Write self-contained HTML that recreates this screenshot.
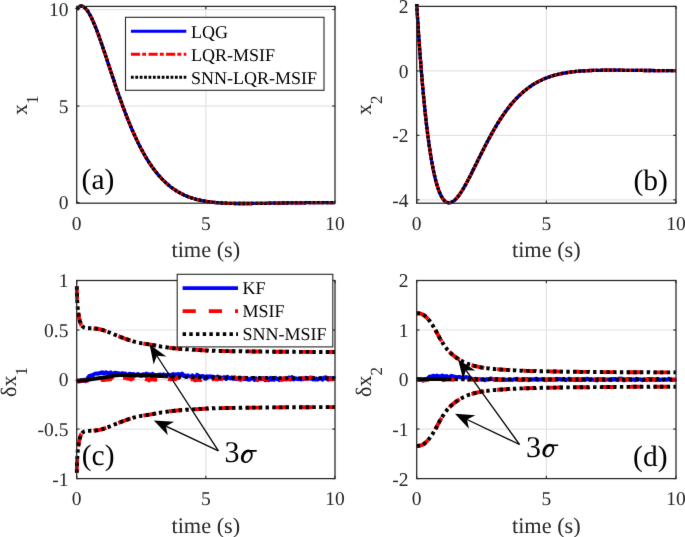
<!DOCTYPE html><html><head><meta charset="utf-8"><style>html,body{margin:0;padding:0;background:#fff;overflow:hidden}svg{display:block}</style></head><body><svg width="685" height="537" viewBox="0 0 685 537" font-family='"Liberation Serif", serif' style="will-change:transform" text-rendering="geometricPrecision">
<defs><clipPath id="cla"><rect x="74.7" y="3.4000000000000004" width="262.3" height="202.79999999999998"/></clipPath><clipPath id="clb"><rect x="414.7" y="3.4000000000000004" width="263.3" height="202.79999999999998"/></clipPath><clipPath id="clc"><rect x="74.7" y="277.5" width="262.3" height="204.10000000000002"/></clipPath><clipPath id="cld"><rect x="414.7" y="277.5" width="263.3" height="204.10000000000002"/></clipPath><filter id="soft" color-interpolation-filters="sRGB" x="0" y="0" width="685" height="537" filterUnits="userSpaceOnUse"><feConvolveMatrix order="3" kernelMatrix="0.0049 0.0602 0.0049 0.0602 0.7396 0.0602 0.0049 0.0602 0.0049" edgeMode="duplicate" preserveAlpha="true"/></filter></defs>
<g filter="url(#soft)"><rect width="685" height="537" fill="#fff"/>
<line x1="205.85" y1="6.4" x2="205.85" y2="203.2" stroke="#e3e3e3" stroke-width="1.2"/>
<line x1="76.7" y1="106.03" x2="335.0" y2="106.03" stroke="#e3e3e3" stroke-width="1.2"/>
<line x1="76.7" y1="9.55" x2="335.0" y2="9.55" stroke="#e3e3e3" stroke-width="1.2"/>
<line x1="546.35" y1="6.4" x2="546.35" y2="203.2" stroke="#e3e3e3" stroke-width="1.2"/>
<line x1="416.7" y1="199.82" x2="676.0" y2="199.82" stroke="#e3e3e3" stroke-width="1.2"/>
<line x1="416.7" y1="135.34" x2="676.0" y2="135.34" stroke="#e3e3e3" stroke-width="1.2"/>
<line x1="416.7" y1="70.87" x2="676.0" y2="70.87" stroke="#e3e3e3" stroke-width="1.2"/>
<line x1="205.85" y1="280.5" x2="205.85" y2="478.6" stroke="#e3e3e3" stroke-width="1.2"/>
<line x1="76.7" y1="429.08" x2="335.0" y2="429.08" stroke="#e3e3e3" stroke-width="1.2"/>
<line x1="76.7" y1="379.55" x2="335.0" y2="379.55" stroke="#e3e3e3" stroke-width="1.2"/>
<line x1="76.7" y1="330.02" x2="335.0" y2="330.02" stroke="#e3e3e3" stroke-width="1.2"/>
<line x1="546.35" y1="280.5" x2="546.35" y2="478.6" stroke="#e3e3e3" stroke-width="1.2"/>
<line x1="416.7" y1="429.08" x2="676.0" y2="429.08" stroke="#e3e3e3" stroke-width="1.2"/>
<line x1="416.7" y1="379.55" x2="676.0" y2="379.55" stroke="#e3e3e3" stroke-width="1.2"/>
<line x1="416.7" y1="330.02" x2="676.0" y2="330.02" stroke="#e3e3e3" stroke-width="1.2"/>
<g clip-path="url(#cla)">
<path d="M76.7,9.5 L77.3,8.6 L78.0,7.9 L78.6,7.3 L79.3,6.8 L79.9,6.4 L80.6,6.2 L81.2,6.2 L81.9,6.2 L82.5,6.3 L83.2,6.6 L83.8,7.0 L84.4,7.4 L85.1,8.0 L85.7,8.7 L86.4,9.4 L87.0,10.2 L87.7,11.1 L88.3,12.1 L89.0,13.2 L89.6,14.3 L90.3,15.5 L90.9,16.7 L91.6,18.0 L92.2,19.4 L92.8,20.8 L93.5,22.3 L94.1,23.8 L94.8,25.3 L95.4,26.9 L96.1,28.6 L96.7,30.2 L97.4,31.9 L98.0,33.7 L98.7,35.4 L99.3,37.2 L99.9,39.0 L100.6,40.9 L101.2,42.7 L101.9,44.6 L102.5,46.5 L103.2,48.4 L103.8,50.3 L104.5,52.2 L105.1,54.1 L105.8,56.1 L106.4,58.0 L107.1,60.0 L107.7,61.9 L108.3,63.9 L109.0,65.9 L109.6,67.8 L110.3,69.8 L110.9,71.7 L111.6,73.7 L112.2,75.6 L112.9,77.6 L113.5,79.5 L114.2,81.4 L114.8,83.4 L115.4,85.3 L116.1,87.2 L116.7,89.1 L117.4,91.0 L118.0,92.8 L118.7,94.7 L119.3,96.5 L120.0,98.4 L120.6,100.2 L121.3,102.0 L121.9,103.8 L122.5,105.5 L123.2,107.3 L123.8,109.0 L124.5,110.7 L125.1,112.4 L125.8,114.1 L126.4,115.8 L127.1,117.5 L127.7,119.1 L128.4,120.7 L129.0,122.3 L129.7,123.9 L130.3,125.4 L130.9,127.0 L131.6,128.5 L132.2,130.0 L132.9,131.5 L133.5,133.0 L134.2,134.4 L134.8,135.8 L135.5,137.2 L136.1,138.6 L136.8,140.0 L137.4,141.3 L138.0,142.7 L138.7,144.0 L139.3,145.3 L140.0,146.5 L140.6,147.8 L141.3,149.0 L141.9,150.2 L142.6,151.4 L143.2,152.6 L143.9,153.8 L144.5,154.9 L145.1,156.0 L145.8,157.1 L146.4,158.2 L147.1,159.2 L147.7,160.3 L148.4,161.3 L149.0,162.3 L149.7,163.3 L150.3,164.3 L151.0,165.2 L151.6,166.2 L152.3,167.1 L152.9,168.0 L153.5,168.9 L154.2,169.7 L154.8,170.6 L155.5,171.4 L156.1,172.2 L156.8,173.0 L157.4,173.8 L158.1,174.6 L158.7,175.4 L159.4,176.1 L160.0,176.8 L160.6,177.5 L161.3,178.2 L161.9,178.9 L162.6,179.6 L163.2,180.2 L163.9,180.9 L164.5,181.5 L165.2,182.1 L165.8,182.7 L166.5,183.3 L167.1,183.9 L167.8,184.4 L168.4,185.0 L169.0,185.5 L169.7,186.0 L170.3,186.6 L171.0,187.1 L171.6,187.5 L172.3,188.0 L172.9,188.5 L173.6,188.9 L174.2,189.4 L174.9,189.8 L175.5,190.2 L176.1,190.7 L176.8,191.1 L177.4,191.5 L178.1,191.8 L178.7,192.2 L179.4,192.6 L180.0,192.9 L180.7,193.3 L181.3,193.6 L182.0,193.9 L182.6,194.3 L183.2,194.6 L183.9,194.9 L184.5,195.2 L185.2,195.5 L185.8,195.7 L186.5,196.0 L187.1,196.3 L187.8,196.5 L188.4,196.8 L189.1,197.0 L189.7,197.3 L190.4,197.5 L191.0,197.7 L191.6,197.9 L192.3,198.1 L192.9,198.3 L193.6,198.5 L194.2,198.7 L194.9,198.9 L195.5,199.1 L196.2,199.3 L196.8,199.5 L197.5,199.6 L198.1,199.8 L198.7,199.9 L199.4,200.1 L200.0,200.2 L200.7,200.4 L201.3,200.5 L202.0,200.6 L202.6,200.8 L203.3,200.9 L203.9,201.0 L204.6,201.1 L205.2,201.2 L205.9,201.3 L206.5,201.4 L207.1,201.5 L207.8,201.6 L208.4,201.7 L209.1,201.8 L209.7,201.9 L210.4,202.0 L211.0,202.1 L211.7,202.1 L212.3,202.2 L213.0,202.3 L213.6,202.4 L214.2,202.4 L214.9,202.5 L215.5,202.5 L216.2,202.6 L216.8,202.7 L217.5,202.7 L218.1,202.8 L218.8,202.8 L219.4,202.9 L220.1,202.9 L220.7,202.9 L221.3,203.0 L222.0,203.0 L222.6,203.1 L223.3,203.1 L223.9,203.1 L224.6,203.2 L225.2,203.2 L225.9,203.2 L226.5,203.2 L227.2,203.3 L227.8,203.3 L228.5,203.3 L229.1,203.3 L229.7,203.3 L230.4,203.4 L231.0,203.4 L231.7,203.4 L232.3,203.4 L233.0,203.4 L233.6,203.4 L234.3,203.4 L234.9,203.5 L235.6,203.5 L236.2,203.5 L236.8,203.5 L237.5,203.5 L238.1,203.5 L238.8,203.5 L239.4,203.5 L240.1,203.5 L240.7,203.5 L241.4,203.5 L242.0,203.5 L242.7,203.5 L243.3,203.5 L243.9,203.5 L244.6,203.5 L245.2,203.5 L245.9,203.5 L246.5,203.5 L247.2,203.5 L247.8,203.5 L248.5,203.5 L249.1,203.5 L249.8,203.5 L250.4,203.5 L251.1,203.5 L251.7,203.5 L252.3,203.4 L253.0,203.4 L253.6,203.4 L254.3,203.4 L254.9,203.4 L255.6,203.4 L256.2,203.4 L256.9,203.4 L257.5,203.4 L258.2,203.4 L258.8,203.4 L259.4,203.4 L260.1,203.4 L260.7,203.3 L261.4,203.3 L262.0,203.3 L262.7,203.3 L263.3,203.3 L264.0,203.3 L264.6,203.3 L265.3,203.3 L265.9,203.3 L266.6,203.3 L267.2,203.2 L267.8,203.2 L268.5,203.2 L269.1,203.2 L269.8,203.2 L270.4,203.2 L271.1,203.2 L271.7,203.2 L272.4,203.2 L273.0,203.2 L273.7,203.1 L274.3,203.1 L274.9,203.1 L275.6,203.1 L276.2,203.1 L276.9,203.1 L277.5,203.1 L278.2,203.1 L278.8,203.1 L279.5,203.1 L280.1,203.1 L280.8,203.0 L281.4,203.0 L282.0,203.0 L282.7,203.0 L283.3,203.0 L284.0,203.0 L284.6,203.0 L285.3,203.0 L285.9,203.0 L286.6,203.0 L287.2,203.0 L287.9,202.9 L288.5,202.9 L289.2,202.9 L289.8,202.9 L290.4,202.9 L291.1,202.9 L291.7,202.9 L292.4,202.9 L293.0,202.9 L293.7,202.9 L294.3,202.9 L295.0,202.9 L295.6,202.8 L296.3,202.8 L296.9,202.8 L297.5,202.8 L298.2,202.8 L298.8,202.8 L299.5,202.8 L300.1,202.8 L300.8,202.8 L301.4,202.8 L302.1,202.8 L302.7,202.8 L303.4,202.8 L304.0,202.8 L304.6,202.8 L305.3,202.8 L305.9,202.7 L306.6,202.7 L307.2,202.7 L307.9,202.7 L308.5,202.7 L309.2,202.7 L309.8,202.7 L310.5,202.7 L311.1,202.7 L311.8,202.7 L312.4,202.7 L313.0,202.7 L313.7,202.7 L314.3,202.7 L315.0,202.7 L315.6,202.7 L316.3,202.7 L316.9,202.7 L317.6,202.7 L318.2,202.7 L318.9,202.7 L319.5,202.6 L320.1,202.6 L320.8,202.6 L321.4,202.6 L322.1,202.6 L322.7,202.6 L323.4,202.6 L324.0,202.6 L324.7,202.6 L325.3,202.6 L326.0,202.6 L326.6,202.6 L327.3,202.6 L327.9,202.6 L328.5,202.6 L329.2,202.6 L329.8,202.6 L330.5,202.6 L331.1,202.6 L331.8,202.6 L332.4,202.6 L333.1,202.6 L333.7,202.6 L334.4,202.6 L335.0,202.6" fill="none" stroke="#0000ff" stroke-width="3.3" stroke-linejoin="round"/>
<path d="M76.7,9.5 L77.3,8.6 L78.0,7.9 L78.6,7.3 L79.3,6.8 L79.9,6.4 L80.6,6.2 L81.2,6.2 L81.9,6.2 L82.5,6.3 L83.2,6.6 L83.8,7.0 L84.4,7.4 L85.1,8.0 L85.7,8.7 L86.4,9.4 L87.0,10.2 L87.7,11.1 L88.3,12.1 L89.0,13.2 L89.6,14.3 L90.3,15.5 L90.9,16.7 L91.6,18.0 L92.2,19.4 L92.8,20.8 L93.5,22.3 L94.1,23.8 L94.8,25.3 L95.4,26.9 L96.1,28.6 L96.7,30.2 L97.4,31.9 L98.0,33.7 L98.7,35.4 L99.3,37.2 L99.9,39.0 L100.6,40.9 L101.2,42.7 L101.9,44.6 L102.5,46.5 L103.2,48.4 L103.8,50.3 L104.5,52.2 L105.1,54.1 L105.8,56.1 L106.4,58.0 L107.1,60.0 L107.7,61.9 L108.3,63.9 L109.0,65.9 L109.6,67.8 L110.3,69.8 L110.9,71.7 L111.6,73.7 L112.2,75.6 L112.9,77.6 L113.5,79.5 L114.2,81.4 L114.8,83.4 L115.4,85.3 L116.1,87.2 L116.7,89.1 L117.4,91.0 L118.0,92.8 L118.7,94.7 L119.3,96.5 L120.0,98.4 L120.6,100.2 L121.3,102.0 L121.9,103.8 L122.5,105.5 L123.2,107.3 L123.8,109.0 L124.5,110.7 L125.1,112.4 L125.8,114.1 L126.4,115.8 L127.1,117.5 L127.7,119.1 L128.4,120.7 L129.0,122.3 L129.7,123.9 L130.3,125.4 L130.9,127.0 L131.6,128.5 L132.2,130.0 L132.9,131.5 L133.5,133.0 L134.2,134.4 L134.8,135.8 L135.5,137.2 L136.1,138.6 L136.8,140.0 L137.4,141.3 L138.0,142.7 L138.7,144.0 L139.3,145.3 L140.0,146.5 L140.6,147.8 L141.3,149.0 L141.9,150.2 L142.6,151.4 L143.2,152.6 L143.9,153.8 L144.5,154.9 L145.1,156.0 L145.8,157.1 L146.4,158.2 L147.1,159.2 L147.7,160.3 L148.4,161.3 L149.0,162.3 L149.7,163.3 L150.3,164.3 L151.0,165.2 L151.6,166.2 L152.3,167.1 L152.9,168.0 L153.5,168.9 L154.2,169.7 L154.8,170.6 L155.5,171.4 L156.1,172.2 L156.8,173.0 L157.4,173.8 L158.1,174.6 L158.7,175.4 L159.4,176.1 L160.0,176.8 L160.6,177.5 L161.3,178.2 L161.9,178.9 L162.6,179.6 L163.2,180.2 L163.9,180.9 L164.5,181.5 L165.2,182.1 L165.8,182.7 L166.5,183.3 L167.1,183.9 L167.8,184.4 L168.4,185.0 L169.0,185.5 L169.7,186.0 L170.3,186.6 L171.0,187.1 L171.6,187.5 L172.3,188.0 L172.9,188.5 L173.6,188.9 L174.2,189.4 L174.9,189.8 L175.5,190.2 L176.1,190.7 L176.8,191.1 L177.4,191.5 L178.1,191.8 L178.7,192.2 L179.4,192.6 L180.0,192.9 L180.7,193.3 L181.3,193.6 L182.0,193.9 L182.6,194.3 L183.2,194.6 L183.9,194.9 L184.5,195.2 L185.2,195.5 L185.8,195.7 L186.5,196.0 L187.1,196.3 L187.8,196.5 L188.4,196.8 L189.1,197.0 L189.7,197.3 L190.4,197.5 L191.0,197.7 L191.6,197.9 L192.3,198.1 L192.9,198.3 L193.6,198.5 L194.2,198.7 L194.9,198.9 L195.5,199.1 L196.2,199.3 L196.8,199.5 L197.5,199.6 L198.1,199.8 L198.7,199.9 L199.4,200.1 L200.0,200.2 L200.7,200.4 L201.3,200.5 L202.0,200.6 L202.6,200.8 L203.3,200.9 L203.9,201.0 L204.6,201.1 L205.2,201.2 L205.9,201.3 L206.5,201.4 L207.1,201.5 L207.8,201.6 L208.4,201.7 L209.1,201.8 L209.7,201.9 L210.4,202.0 L211.0,202.1 L211.7,202.1 L212.3,202.2 L213.0,202.3 L213.6,202.4 L214.2,202.4 L214.9,202.5 L215.5,202.5 L216.2,202.6 L216.8,202.7 L217.5,202.7 L218.1,202.8 L218.8,202.8 L219.4,202.9 L220.1,202.9 L220.7,202.9 L221.3,203.0 L222.0,203.0 L222.6,203.1 L223.3,203.1 L223.9,203.1 L224.6,203.2 L225.2,203.2 L225.9,203.2 L226.5,203.2 L227.2,203.3 L227.8,203.3 L228.5,203.3 L229.1,203.3 L229.7,203.3 L230.4,203.4 L231.0,203.4 L231.7,203.4 L232.3,203.4 L233.0,203.4 L233.6,203.4 L234.3,203.4 L234.9,203.5 L235.6,203.5 L236.2,203.5 L236.8,203.5 L237.5,203.5 L238.1,203.5 L238.8,203.5 L239.4,203.5 L240.1,203.5 L240.7,203.5 L241.4,203.5 L242.0,203.5 L242.7,203.5 L243.3,203.5 L243.9,203.5 L244.6,203.5 L245.2,203.5 L245.9,203.5 L246.5,203.5 L247.2,203.5 L247.8,203.5 L248.5,203.5 L249.1,203.5 L249.8,203.5 L250.4,203.5 L251.1,203.5 L251.7,203.5 L252.3,203.4 L253.0,203.4 L253.6,203.4 L254.3,203.4 L254.9,203.4 L255.6,203.4 L256.2,203.4 L256.9,203.4 L257.5,203.4 L258.2,203.4 L258.8,203.4 L259.4,203.4 L260.1,203.4 L260.7,203.3 L261.4,203.3 L262.0,203.3 L262.7,203.3 L263.3,203.3 L264.0,203.3 L264.6,203.3 L265.3,203.3 L265.9,203.3 L266.6,203.3 L267.2,203.2 L267.8,203.2 L268.5,203.2 L269.1,203.2 L269.8,203.2 L270.4,203.2 L271.1,203.2 L271.7,203.2 L272.4,203.2 L273.0,203.2 L273.7,203.1 L274.3,203.1 L274.9,203.1 L275.6,203.1 L276.2,203.1 L276.9,203.1 L277.5,203.1 L278.2,203.1 L278.8,203.1 L279.5,203.1 L280.1,203.1 L280.8,203.0 L281.4,203.0 L282.0,203.0 L282.7,203.0 L283.3,203.0 L284.0,203.0 L284.6,203.0 L285.3,203.0 L285.9,203.0 L286.6,203.0 L287.2,203.0 L287.9,202.9 L288.5,202.9 L289.2,202.9 L289.8,202.9 L290.4,202.9 L291.1,202.9 L291.7,202.9 L292.4,202.9 L293.0,202.9 L293.7,202.9 L294.3,202.9 L295.0,202.9 L295.6,202.8 L296.3,202.8 L296.9,202.8 L297.5,202.8 L298.2,202.8 L298.8,202.8 L299.5,202.8 L300.1,202.8 L300.8,202.8 L301.4,202.8 L302.1,202.8 L302.7,202.8 L303.4,202.8 L304.0,202.8 L304.6,202.8 L305.3,202.8 L305.9,202.7 L306.6,202.7 L307.2,202.7 L307.9,202.7 L308.5,202.7 L309.2,202.7 L309.8,202.7 L310.5,202.7 L311.1,202.7 L311.8,202.7 L312.4,202.7 L313.0,202.7 L313.7,202.7 L314.3,202.7 L315.0,202.7 L315.6,202.7 L316.3,202.7 L316.9,202.7 L317.6,202.7 L318.2,202.7 L318.9,202.7 L319.5,202.6 L320.1,202.6 L320.8,202.6 L321.4,202.6 L322.1,202.6 L322.7,202.6 L323.4,202.6 L324.0,202.6 L324.7,202.6 L325.3,202.6 L326.0,202.6 L326.6,202.6 L327.3,202.6 L327.9,202.6 L328.5,202.6 L329.2,202.6 L329.8,202.6 L330.5,202.6 L331.1,202.6 L331.8,202.6 L332.4,202.6 L333.1,202.6 L333.7,202.6 L334.4,202.6 L335.0,202.6" fill="none" stroke="#ff0000" stroke-width="3.3" stroke-dasharray="9.2 2.1 3.9 2.4" stroke-linejoin="round"/>
<path d="M76.7,9.5 L77.3,8.6 L78.0,7.9 L78.6,7.3 L79.3,6.8 L79.9,6.4 L80.6,6.2 L81.2,6.2 L81.9,6.2 L82.5,6.3 L83.2,6.6 L83.8,7.0 L84.4,7.4 L85.1,8.0 L85.7,8.7 L86.4,9.4 L87.0,10.2 L87.7,11.1 L88.3,12.1 L89.0,13.2 L89.6,14.3 L90.3,15.5 L90.9,16.7 L91.6,18.0 L92.2,19.4 L92.8,20.8 L93.5,22.3 L94.1,23.8 L94.8,25.3 L95.4,26.9 L96.1,28.6 L96.7,30.2 L97.4,31.9 L98.0,33.7 L98.7,35.4 L99.3,37.2 L99.9,39.0 L100.6,40.9 L101.2,42.7 L101.9,44.6 L102.5,46.5 L103.2,48.4 L103.8,50.3 L104.5,52.2 L105.1,54.1 L105.8,56.1 L106.4,58.0 L107.1,60.0 L107.7,61.9 L108.3,63.9 L109.0,65.9 L109.6,67.8 L110.3,69.8 L110.9,71.7 L111.6,73.7 L112.2,75.6 L112.9,77.6 L113.5,79.5 L114.2,81.4 L114.8,83.4 L115.4,85.3 L116.1,87.2 L116.7,89.1 L117.4,91.0 L118.0,92.8 L118.7,94.7 L119.3,96.5 L120.0,98.4 L120.6,100.2 L121.3,102.0 L121.9,103.8 L122.5,105.5 L123.2,107.3 L123.8,109.0 L124.5,110.7 L125.1,112.4 L125.8,114.1 L126.4,115.8 L127.1,117.5 L127.7,119.1 L128.4,120.7 L129.0,122.3 L129.7,123.9 L130.3,125.4 L130.9,127.0 L131.6,128.5 L132.2,130.0 L132.9,131.5 L133.5,133.0 L134.2,134.4 L134.8,135.8 L135.5,137.2 L136.1,138.6 L136.8,140.0 L137.4,141.3 L138.0,142.7 L138.7,144.0 L139.3,145.3 L140.0,146.5 L140.6,147.8 L141.3,149.0 L141.9,150.2 L142.6,151.4 L143.2,152.6 L143.9,153.8 L144.5,154.9 L145.1,156.0 L145.8,157.1 L146.4,158.2 L147.1,159.2 L147.7,160.3 L148.4,161.3 L149.0,162.3 L149.7,163.3 L150.3,164.3 L151.0,165.2 L151.6,166.2 L152.3,167.1 L152.9,168.0 L153.5,168.9 L154.2,169.7 L154.8,170.6 L155.5,171.4 L156.1,172.2 L156.8,173.0 L157.4,173.8 L158.1,174.6 L158.7,175.4 L159.4,176.1 L160.0,176.8 L160.6,177.5 L161.3,178.2 L161.9,178.9 L162.6,179.6 L163.2,180.2 L163.9,180.9 L164.5,181.5 L165.2,182.1 L165.8,182.7 L166.5,183.3 L167.1,183.9 L167.8,184.4 L168.4,185.0 L169.0,185.5 L169.7,186.0 L170.3,186.6 L171.0,187.1 L171.6,187.5 L172.3,188.0 L172.9,188.5 L173.6,188.9 L174.2,189.4 L174.9,189.8 L175.5,190.2 L176.1,190.7 L176.8,191.1 L177.4,191.5 L178.1,191.8 L178.7,192.2 L179.4,192.6 L180.0,192.9 L180.7,193.3 L181.3,193.6 L182.0,193.9 L182.6,194.3 L183.2,194.6 L183.9,194.9 L184.5,195.2 L185.2,195.5 L185.8,195.7 L186.5,196.0 L187.1,196.3 L187.8,196.5 L188.4,196.8 L189.1,197.0 L189.7,197.3 L190.4,197.5 L191.0,197.7 L191.6,197.9 L192.3,198.1 L192.9,198.3 L193.6,198.5 L194.2,198.7 L194.9,198.9 L195.5,199.1 L196.2,199.3 L196.8,199.5 L197.5,199.6 L198.1,199.8 L198.7,199.9 L199.4,200.1 L200.0,200.2 L200.7,200.4 L201.3,200.5 L202.0,200.6 L202.6,200.8 L203.3,200.9 L203.9,201.0 L204.6,201.1 L205.2,201.2 L205.9,201.3 L206.5,201.4 L207.1,201.5 L207.8,201.6 L208.4,201.7 L209.1,201.8 L209.7,201.9 L210.4,202.0 L211.0,202.1 L211.7,202.1 L212.3,202.2 L213.0,202.3 L213.6,202.4 L214.2,202.4 L214.9,202.5 L215.5,202.5 L216.2,202.6 L216.8,202.7 L217.5,202.7 L218.1,202.8 L218.8,202.8 L219.4,202.9 L220.1,202.9 L220.7,202.9 L221.3,203.0 L222.0,203.0 L222.6,203.1 L223.3,203.1 L223.9,203.1 L224.6,203.2 L225.2,203.2 L225.9,203.2 L226.5,203.2 L227.2,203.3 L227.8,203.3 L228.5,203.3 L229.1,203.3 L229.7,203.3 L230.4,203.4 L231.0,203.4 L231.7,203.4 L232.3,203.4 L233.0,203.4 L233.6,203.4 L234.3,203.4 L234.9,203.5 L235.6,203.5 L236.2,203.5 L236.8,203.5 L237.5,203.5 L238.1,203.5 L238.8,203.5 L239.4,203.5 L240.1,203.5 L240.7,203.5 L241.4,203.5 L242.0,203.5 L242.7,203.5 L243.3,203.5 L243.9,203.5 L244.6,203.5 L245.2,203.5 L245.9,203.5 L246.5,203.5 L247.2,203.5 L247.8,203.5 L248.5,203.5 L249.1,203.5 L249.8,203.5 L250.4,203.5 L251.1,203.5 L251.7,203.5 L252.3,203.4 L253.0,203.4 L253.6,203.4 L254.3,203.4 L254.9,203.4 L255.6,203.4 L256.2,203.4 L256.9,203.4 L257.5,203.4 L258.2,203.4 L258.8,203.4 L259.4,203.4 L260.1,203.4 L260.7,203.3 L261.4,203.3 L262.0,203.3 L262.7,203.3 L263.3,203.3 L264.0,203.3 L264.6,203.3 L265.3,203.3 L265.9,203.3 L266.6,203.3 L267.2,203.2 L267.8,203.2 L268.5,203.2 L269.1,203.2 L269.8,203.2 L270.4,203.2 L271.1,203.2 L271.7,203.2 L272.4,203.2 L273.0,203.2 L273.7,203.1 L274.3,203.1 L274.9,203.1 L275.6,203.1 L276.2,203.1 L276.9,203.1 L277.5,203.1 L278.2,203.1 L278.8,203.1 L279.5,203.1 L280.1,203.1 L280.8,203.0 L281.4,203.0 L282.0,203.0 L282.7,203.0 L283.3,203.0 L284.0,203.0 L284.6,203.0 L285.3,203.0 L285.9,203.0 L286.6,203.0 L287.2,203.0 L287.9,202.9 L288.5,202.9 L289.2,202.9 L289.8,202.9 L290.4,202.9 L291.1,202.9 L291.7,202.9 L292.4,202.9 L293.0,202.9 L293.7,202.9 L294.3,202.9 L295.0,202.9 L295.6,202.8 L296.3,202.8 L296.9,202.8 L297.5,202.8 L298.2,202.8 L298.8,202.8 L299.5,202.8 L300.1,202.8 L300.8,202.8 L301.4,202.8 L302.1,202.8 L302.7,202.8 L303.4,202.8 L304.0,202.8 L304.6,202.8 L305.3,202.8 L305.9,202.7 L306.6,202.7 L307.2,202.7 L307.9,202.7 L308.5,202.7 L309.2,202.7 L309.8,202.7 L310.5,202.7 L311.1,202.7 L311.8,202.7 L312.4,202.7 L313.0,202.7 L313.7,202.7 L314.3,202.7 L315.0,202.7 L315.6,202.7 L316.3,202.7 L316.9,202.7 L317.6,202.7 L318.2,202.7 L318.9,202.7 L319.5,202.6 L320.1,202.6 L320.8,202.6 L321.4,202.6 L322.1,202.6 L322.7,202.6 L323.4,202.6 L324.0,202.6 L324.7,202.6 L325.3,202.6 L326.0,202.6 L326.6,202.6 L327.3,202.6 L327.9,202.6 L328.5,202.6 L329.2,202.6 L329.8,202.6 L330.5,202.6 L331.1,202.6 L331.8,202.6 L332.4,202.6 L333.1,202.6 L333.7,202.6 L334.4,202.6 L335.0,202.6" fill="none" stroke="#000000" stroke-width="3.3" stroke-dasharray="2.8 1.6" stroke-linejoin="round"/>
</g>
<g clip-path="url(#clb)">
<path d="M416.7,4.0 L417.3,14.5 L418.0,24.6 L418.6,34.3 L419.3,43.6 L419.9,52.5 L420.6,61.1 L421.2,69.4 L421.9,77.3 L422.5,84.8 L423.2,92.1 L423.8,99.0 L424.5,105.6 L425.1,112.0 L425.8,118.0 L426.4,123.8 L427.1,129.3 L427.7,134.5 L428.4,139.5 L429.0,144.2 L429.7,148.7 L430.3,153.0 L431.0,157.0 L431.6,160.8 L432.3,164.4 L432.9,167.9 L433.6,171.1 L434.2,174.1 L434.9,176.9 L435.5,179.5 L436.1,182.0 L436.8,184.3 L437.4,186.5 L438.1,188.4 L438.7,190.3 L439.4,192.0 L440.0,193.5 L440.7,194.9 L441.3,196.2 L442.0,197.3 L442.6,198.4 L443.3,199.3 L443.9,200.1 L444.6,200.8 L445.2,201.3 L445.9,201.8 L446.5,202.2 L447.2,202.5 L447.8,202.7 L448.5,202.8 L449.1,202.8 L449.8,202.8 L450.4,202.6 L451.1,202.4 L451.7,202.2 L452.4,201.8 L453.0,201.4 L453.7,201.0 L454.3,200.4 L454.9,199.9 L455.6,199.2 L456.2,198.6 L456.9,197.8 L457.5,197.1 L458.2,196.3 L458.8,195.4 L459.5,194.5 L460.1,193.6 L460.8,192.6 L461.4,191.6 L462.1,190.6 L462.7,189.6 L463.4,188.5 L464.0,187.4 L464.7,186.2 L465.3,185.1 L466.0,183.9 L466.6,182.7 L467.3,181.5 L467.9,180.3 L468.6,179.1 L469.2,177.8 L469.9,176.6 L470.5,175.3 L471.2,174.0 L471.8,172.7 L472.4,171.4 L473.1,170.1 L473.7,168.8 L474.4,167.5 L475.0,166.2 L475.7,164.9 L476.3,163.6 L477.0,162.2 L477.6,160.9 L478.3,159.6 L478.9,158.3 L479.6,157.0 L480.2,155.7 L480.9,154.4 L481.5,153.1 L482.2,151.8 L482.8,150.5 L483.5,149.2 L484.1,147.9 L484.8,146.7 L485.4,145.4 L486.1,144.2 L486.7,142.9 L487.4,141.7 L488.0,140.4 L488.7,139.2 L489.3,138.0 L490.0,136.8 L490.6,135.6 L491.2,134.5 L491.9,133.3 L492.5,132.1 L493.2,131.0 L493.8,129.9 L494.5,128.8 L495.1,127.6 L495.8,126.6 L496.4,125.5 L497.1,124.4 L497.7,123.3 L498.4,122.3 L499.0,121.3 L499.7,120.2 L500.3,119.2 L501.0,118.2 L501.6,117.3 L502.3,116.3 L502.9,115.3 L503.6,114.4 L504.2,113.5 L504.9,112.6 L505.5,111.7 L506.2,110.8 L506.8,109.9 L507.5,109.0 L508.1,108.2 L508.8,107.4 L509.4,106.5 L510.0,105.7 L510.7,104.9 L511.3,104.1 L512.0,103.4 L512.6,102.6 L513.3,101.9 L513.9,101.1 L514.6,100.4 L515.2,99.7 L515.9,99.0 L516.5,98.3 L517.2,97.7 L517.8,97.0 L518.5,96.3 L519.1,95.7 L519.8,95.1 L520.4,94.5 L521.1,93.9 L521.7,93.3 L522.4,92.7 L523.0,92.1 L523.7,91.6 L524.3,91.0 L525.0,90.5 L525.6,90.0 L526.3,89.4 L526.9,88.9 L527.6,88.4 L528.2,88.0 L528.8,87.5 L529.5,87.0 L530.1,86.6 L530.8,86.1 L531.4,85.7 L532.1,85.3 L532.7,84.8 L533.4,84.4 L534.0,84.0 L534.7,83.6 L535.3,83.3 L536.0,82.9 L536.6,82.5 L537.3,82.2 L537.9,81.8 L538.6,81.5 L539.2,81.1 L539.9,80.8 L540.5,80.5 L541.2,80.2 L541.8,79.9 L542.5,79.6 L543.1,79.3 L543.8,79.0 L544.4,78.7 L545.1,78.5 L545.7,78.2 L546.4,78.0 L547.0,77.7 L547.6,77.5 L548.3,77.2 L548.9,77.0 L549.6,76.8 L550.2,76.6 L550.9,76.3 L551.5,76.1 L552.2,75.9 L552.8,75.7 L553.5,75.5 L554.1,75.4 L554.8,75.2 L555.4,75.0 L556.1,74.8 L556.7,74.7 L557.4,74.5 L558.0,74.3 L558.7,74.2 L559.3,74.0 L560.0,73.9 L560.6,73.8 L561.3,73.6 L561.9,73.5 L562.6,73.4 L563.2,73.2 L563.9,73.1 L564.5,73.0 L565.1,72.9 L565.8,72.8 L566.4,72.7 L567.1,72.6 L567.7,72.5 L568.4,72.4 L569.0,72.3 L569.7,72.2 L570.3,72.1 L571.0,72.0 L571.6,71.9 L572.3,71.9 L572.9,71.8 L573.6,71.7 L574.2,71.6 L574.9,71.6 L575.5,71.5 L576.2,71.4 L576.8,71.4 L577.5,71.3 L578.1,71.3 L578.8,71.2 L579.4,71.1 L580.1,71.1 L580.7,71.0 L581.4,71.0 L582.0,71.0 L582.7,70.9 L583.3,70.9 L583.9,70.8 L584.6,70.8 L585.2,70.8 L585.9,70.7 L586.5,70.7 L587.2,70.7 L587.8,70.6 L588.5,70.6 L589.1,70.6 L589.8,70.5 L590.4,70.5 L591.1,70.5 L591.7,70.5 L592.4,70.4 L593.0,70.4 L593.7,70.4 L594.3,70.4 L595.0,70.4 L595.6,70.4 L596.3,70.3 L596.9,70.3 L597.6,70.3 L598.2,70.3 L598.9,70.3 L599.5,70.3 L600.2,70.3 L600.8,70.3 L601.5,70.3 L602.1,70.2 L602.7,70.2 L603.4,70.2 L604.0,70.2 L604.7,70.2 L605.3,70.2 L606.0,70.2 L606.6,70.2 L607.3,70.2 L607.9,70.2 L608.6,70.2 L609.2,70.2 L609.9,70.2 L610.5,70.2 L611.2,70.2 L611.8,70.2 L612.5,70.2 L613.1,70.2 L613.8,70.2 L614.4,70.2 L615.1,70.2 L615.7,70.2 L616.4,70.2 L617.0,70.2 L617.7,70.2 L618.3,70.2 L619.0,70.2 L619.6,70.2 L620.3,70.2 L620.9,70.2 L621.5,70.2 L622.2,70.2 L622.8,70.3 L623.5,70.3 L624.1,70.3 L624.8,70.3 L625.4,70.3 L626.1,70.3 L626.7,70.3 L627.4,70.3 L628.0,70.3 L628.7,70.3 L629.3,70.3 L630.0,70.3 L630.6,70.3 L631.3,70.3 L631.9,70.3 L632.6,70.3 L633.2,70.3 L633.9,70.4 L634.5,70.4 L635.2,70.4 L635.8,70.4 L636.5,70.4 L637.1,70.4 L637.8,70.4 L638.4,70.4 L639.0,70.4 L639.7,70.4 L640.3,70.4 L641.0,70.4 L641.6,70.4 L642.3,70.4 L642.9,70.4 L643.6,70.5 L644.2,70.5 L644.9,70.5 L645.5,70.5 L646.2,70.5 L646.8,70.5 L647.5,70.5 L648.1,70.5 L648.8,70.5 L649.4,70.5 L650.1,70.5 L650.7,70.5 L651.4,70.5 L652.0,70.5 L652.7,70.5 L653.3,70.5 L654.0,70.6 L654.6,70.6 L655.3,70.6 L655.9,70.6 L656.6,70.6 L657.2,70.6 L657.8,70.6 L658.5,70.6 L659.1,70.6 L659.8,70.6 L660.4,70.6 L661.1,70.6 L661.7,70.6 L662.4,70.6 L663.0,70.6 L663.7,70.6 L664.3,70.6 L665.0,70.6 L665.6,70.7 L666.3,70.7 L666.9,70.7 L667.6,70.7 L668.2,70.7 L668.9,70.7 L669.5,70.7 L670.2,70.7 L670.8,70.7 L671.5,70.7 L672.1,70.7 L672.8,70.7 L673.4,70.7 L674.1,70.7 L674.7,70.7 L675.4,70.7 L676.0,70.7" fill="none" stroke="#0000ff" stroke-width="3.3" stroke-linejoin="round"/>
<path d="M416.7,4.0 L417.3,14.5 L418.0,24.6 L418.6,34.3 L419.3,43.6 L419.9,52.5 L420.6,61.1 L421.2,69.4 L421.9,77.3 L422.5,84.8 L423.2,92.1 L423.8,99.0 L424.5,105.6 L425.1,112.0 L425.8,118.0 L426.4,123.8 L427.1,129.3 L427.7,134.5 L428.4,139.5 L429.0,144.2 L429.7,148.7 L430.3,153.0 L431.0,157.0 L431.6,160.8 L432.3,164.4 L432.9,167.9 L433.6,171.1 L434.2,174.1 L434.9,176.9 L435.5,179.5 L436.1,182.0 L436.8,184.3 L437.4,186.5 L438.1,188.4 L438.7,190.3 L439.4,192.0 L440.0,193.5 L440.7,194.9 L441.3,196.2 L442.0,197.3 L442.6,198.4 L443.3,199.3 L443.9,200.1 L444.6,200.8 L445.2,201.3 L445.9,201.8 L446.5,202.2 L447.2,202.5 L447.8,202.7 L448.5,202.8 L449.1,202.8 L449.8,202.8 L450.4,202.6 L451.1,202.4 L451.7,202.2 L452.4,201.8 L453.0,201.4 L453.7,201.0 L454.3,200.4 L454.9,199.9 L455.6,199.2 L456.2,198.6 L456.9,197.8 L457.5,197.1 L458.2,196.3 L458.8,195.4 L459.5,194.5 L460.1,193.6 L460.8,192.6 L461.4,191.6 L462.1,190.6 L462.7,189.6 L463.4,188.5 L464.0,187.4 L464.7,186.2 L465.3,185.1 L466.0,183.9 L466.6,182.7 L467.3,181.5 L467.9,180.3 L468.6,179.1 L469.2,177.8 L469.9,176.6 L470.5,175.3 L471.2,174.0 L471.8,172.7 L472.4,171.4 L473.1,170.1 L473.7,168.8 L474.4,167.5 L475.0,166.2 L475.7,164.9 L476.3,163.6 L477.0,162.2 L477.6,160.9 L478.3,159.6 L478.9,158.3 L479.6,157.0 L480.2,155.7 L480.9,154.4 L481.5,153.1 L482.2,151.8 L482.8,150.5 L483.5,149.2 L484.1,147.9 L484.8,146.7 L485.4,145.4 L486.1,144.2 L486.7,142.9 L487.4,141.7 L488.0,140.4 L488.7,139.2 L489.3,138.0 L490.0,136.8 L490.6,135.6 L491.2,134.5 L491.9,133.3 L492.5,132.1 L493.2,131.0 L493.8,129.9 L494.5,128.8 L495.1,127.6 L495.8,126.6 L496.4,125.5 L497.1,124.4 L497.7,123.3 L498.4,122.3 L499.0,121.3 L499.7,120.2 L500.3,119.2 L501.0,118.2 L501.6,117.3 L502.3,116.3 L502.9,115.3 L503.6,114.4 L504.2,113.5 L504.9,112.6 L505.5,111.7 L506.2,110.8 L506.8,109.9 L507.5,109.0 L508.1,108.2 L508.8,107.4 L509.4,106.5 L510.0,105.7 L510.7,104.9 L511.3,104.1 L512.0,103.4 L512.6,102.6 L513.3,101.9 L513.9,101.1 L514.6,100.4 L515.2,99.7 L515.9,99.0 L516.5,98.3 L517.2,97.7 L517.8,97.0 L518.5,96.3 L519.1,95.7 L519.8,95.1 L520.4,94.5 L521.1,93.9 L521.7,93.3 L522.4,92.7 L523.0,92.1 L523.7,91.6 L524.3,91.0 L525.0,90.5 L525.6,90.0 L526.3,89.4 L526.9,88.9 L527.6,88.4 L528.2,88.0 L528.8,87.5 L529.5,87.0 L530.1,86.6 L530.8,86.1 L531.4,85.7 L532.1,85.3 L532.7,84.8 L533.4,84.4 L534.0,84.0 L534.7,83.6 L535.3,83.3 L536.0,82.9 L536.6,82.5 L537.3,82.2 L537.9,81.8 L538.6,81.5 L539.2,81.1 L539.9,80.8 L540.5,80.5 L541.2,80.2 L541.8,79.9 L542.5,79.6 L543.1,79.3 L543.8,79.0 L544.4,78.7 L545.1,78.5 L545.7,78.2 L546.4,78.0 L547.0,77.7 L547.6,77.5 L548.3,77.2 L548.9,77.0 L549.6,76.8 L550.2,76.6 L550.9,76.3 L551.5,76.1 L552.2,75.9 L552.8,75.7 L553.5,75.5 L554.1,75.4 L554.8,75.2 L555.4,75.0 L556.1,74.8 L556.7,74.7 L557.4,74.5 L558.0,74.3 L558.7,74.2 L559.3,74.0 L560.0,73.9 L560.6,73.8 L561.3,73.6 L561.9,73.5 L562.6,73.4 L563.2,73.2 L563.9,73.1 L564.5,73.0 L565.1,72.9 L565.8,72.8 L566.4,72.7 L567.1,72.6 L567.7,72.5 L568.4,72.4 L569.0,72.3 L569.7,72.2 L570.3,72.1 L571.0,72.0 L571.6,71.9 L572.3,71.9 L572.9,71.8 L573.6,71.7 L574.2,71.6 L574.9,71.6 L575.5,71.5 L576.2,71.4 L576.8,71.4 L577.5,71.3 L578.1,71.3 L578.8,71.2 L579.4,71.1 L580.1,71.1 L580.7,71.0 L581.4,71.0 L582.0,71.0 L582.7,70.9 L583.3,70.9 L583.9,70.8 L584.6,70.8 L585.2,70.8 L585.9,70.7 L586.5,70.7 L587.2,70.7 L587.8,70.6 L588.5,70.6 L589.1,70.6 L589.8,70.5 L590.4,70.5 L591.1,70.5 L591.7,70.5 L592.4,70.4 L593.0,70.4 L593.7,70.4 L594.3,70.4 L595.0,70.4 L595.6,70.4 L596.3,70.3 L596.9,70.3 L597.6,70.3 L598.2,70.3 L598.9,70.3 L599.5,70.3 L600.2,70.3 L600.8,70.3 L601.5,70.3 L602.1,70.2 L602.7,70.2 L603.4,70.2 L604.0,70.2 L604.7,70.2 L605.3,70.2 L606.0,70.2 L606.6,70.2 L607.3,70.2 L607.9,70.2 L608.6,70.2 L609.2,70.2 L609.9,70.2 L610.5,70.2 L611.2,70.2 L611.8,70.2 L612.5,70.2 L613.1,70.2 L613.8,70.2 L614.4,70.2 L615.1,70.2 L615.7,70.2 L616.4,70.2 L617.0,70.2 L617.7,70.2 L618.3,70.2 L619.0,70.2 L619.6,70.2 L620.3,70.2 L620.9,70.2 L621.5,70.2 L622.2,70.2 L622.8,70.3 L623.5,70.3 L624.1,70.3 L624.8,70.3 L625.4,70.3 L626.1,70.3 L626.7,70.3 L627.4,70.3 L628.0,70.3 L628.7,70.3 L629.3,70.3 L630.0,70.3 L630.6,70.3 L631.3,70.3 L631.9,70.3 L632.6,70.3 L633.2,70.3 L633.9,70.4 L634.5,70.4 L635.2,70.4 L635.8,70.4 L636.5,70.4 L637.1,70.4 L637.8,70.4 L638.4,70.4 L639.0,70.4 L639.7,70.4 L640.3,70.4 L641.0,70.4 L641.6,70.4 L642.3,70.4 L642.9,70.4 L643.6,70.5 L644.2,70.5 L644.9,70.5 L645.5,70.5 L646.2,70.5 L646.8,70.5 L647.5,70.5 L648.1,70.5 L648.8,70.5 L649.4,70.5 L650.1,70.5 L650.7,70.5 L651.4,70.5 L652.0,70.5 L652.7,70.5 L653.3,70.5 L654.0,70.6 L654.6,70.6 L655.3,70.6 L655.9,70.6 L656.6,70.6 L657.2,70.6 L657.8,70.6 L658.5,70.6 L659.1,70.6 L659.8,70.6 L660.4,70.6 L661.1,70.6 L661.7,70.6 L662.4,70.6 L663.0,70.6 L663.7,70.6 L664.3,70.6 L665.0,70.6 L665.6,70.7 L666.3,70.7 L666.9,70.7 L667.6,70.7 L668.2,70.7 L668.9,70.7 L669.5,70.7 L670.2,70.7 L670.8,70.7 L671.5,70.7 L672.1,70.7 L672.8,70.7 L673.4,70.7 L674.1,70.7 L674.7,70.7 L675.4,70.7 L676.0,70.7" fill="none" stroke="#ff0000" stroke-width="3.3" stroke-dasharray="9.2 2.1 3.9 2.4" stroke-linejoin="round"/>
<path d="M416.7,4.0 L417.3,14.5 L418.0,24.6 L418.6,34.3 L419.3,43.6 L419.9,52.5 L420.6,61.1 L421.2,69.4 L421.9,77.3 L422.5,84.8 L423.2,92.1 L423.8,99.0 L424.5,105.6 L425.1,112.0 L425.8,118.0 L426.4,123.8 L427.1,129.3 L427.7,134.5 L428.4,139.5 L429.0,144.2 L429.7,148.7 L430.3,153.0 L431.0,157.0 L431.6,160.8 L432.3,164.4 L432.9,167.9 L433.6,171.1 L434.2,174.1 L434.9,176.9 L435.5,179.5 L436.1,182.0 L436.8,184.3 L437.4,186.5 L438.1,188.4 L438.7,190.3 L439.4,192.0 L440.0,193.5 L440.7,194.9 L441.3,196.2 L442.0,197.3 L442.6,198.4 L443.3,199.3 L443.9,200.1 L444.6,200.8 L445.2,201.3 L445.9,201.8 L446.5,202.2 L447.2,202.5 L447.8,202.7 L448.5,202.8 L449.1,202.8 L449.8,202.8 L450.4,202.6 L451.1,202.4 L451.7,202.2 L452.4,201.8 L453.0,201.4 L453.7,201.0 L454.3,200.4 L454.9,199.9 L455.6,199.2 L456.2,198.6 L456.9,197.8 L457.5,197.1 L458.2,196.3 L458.8,195.4 L459.5,194.5 L460.1,193.6 L460.8,192.6 L461.4,191.6 L462.1,190.6 L462.7,189.6 L463.4,188.5 L464.0,187.4 L464.7,186.2 L465.3,185.1 L466.0,183.9 L466.6,182.7 L467.3,181.5 L467.9,180.3 L468.6,179.1 L469.2,177.8 L469.9,176.6 L470.5,175.3 L471.2,174.0 L471.8,172.7 L472.4,171.4 L473.1,170.1 L473.7,168.8 L474.4,167.5 L475.0,166.2 L475.7,164.9 L476.3,163.6 L477.0,162.2 L477.6,160.9 L478.3,159.6 L478.9,158.3 L479.6,157.0 L480.2,155.7 L480.9,154.4 L481.5,153.1 L482.2,151.8 L482.8,150.5 L483.5,149.2 L484.1,147.9 L484.8,146.7 L485.4,145.4 L486.1,144.2 L486.7,142.9 L487.4,141.7 L488.0,140.4 L488.7,139.2 L489.3,138.0 L490.0,136.8 L490.6,135.6 L491.2,134.5 L491.9,133.3 L492.5,132.1 L493.2,131.0 L493.8,129.9 L494.5,128.8 L495.1,127.6 L495.8,126.6 L496.4,125.5 L497.1,124.4 L497.7,123.3 L498.4,122.3 L499.0,121.3 L499.7,120.2 L500.3,119.2 L501.0,118.2 L501.6,117.3 L502.3,116.3 L502.9,115.3 L503.6,114.4 L504.2,113.5 L504.9,112.6 L505.5,111.7 L506.2,110.8 L506.8,109.9 L507.5,109.0 L508.1,108.2 L508.8,107.4 L509.4,106.5 L510.0,105.7 L510.7,104.9 L511.3,104.1 L512.0,103.4 L512.6,102.6 L513.3,101.9 L513.9,101.1 L514.6,100.4 L515.2,99.7 L515.9,99.0 L516.5,98.3 L517.2,97.7 L517.8,97.0 L518.5,96.3 L519.1,95.7 L519.8,95.1 L520.4,94.5 L521.1,93.9 L521.7,93.3 L522.4,92.7 L523.0,92.1 L523.7,91.6 L524.3,91.0 L525.0,90.5 L525.6,90.0 L526.3,89.4 L526.9,88.9 L527.6,88.4 L528.2,88.0 L528.8,87.5 L529.5,87.0 L530.1,86.6 L530.8,86.1 L531.4,85.7 L532.1,85.3 L532.7,84.8 L533.4,84.4 L534.0,84.0 L534.7,83.6 L535.3,83.3 L536.0,82.9 L536.6,82.5 L537.3,82.2 L537.9,81.8 L538.6,81.5 L539.2,81.1 L539.9,80.8 L540.5,80.5 L541.2,80.2 L541.8,79.9 L542.5,79.6 L543.1,79.3 L543.8,79.0 L544.4,78.7 L545.1,78.5 L545.7,78.2 L546.4,78.0 L547.0,77.7 L547.6,77.5 L548.3,77.2 L548.9,77.0 L549.6,76.8 L550.2,76.6 L550.9,76.3 L551.5,76.1 L552.2,75.9 L552.8,75.7 L553.5,75.5 L554.1,75.4 L554.8,75.2 L555.4,75.0 L556.1,74.8 L556.7,74.7 L557.4,74.5 L558.0,74.3 L558.7,74.2 L559.3,74.0 L560.0,73.9 L560.6,73.8 L561.3,73.6 L561.9,73.5 L562.6,73.4 L563.2,73.2 L563.9,73.1 L564.5,73.0 L565.1,72.9 L565.8,72.8 L566.4,72.7 L567.1,72.6 L567.7,72.5 L568.4,72.4 L569.0,72.3 L569.7,72.2 L570.3,72.1 L571.0,72.0 L571.6,71.9 L572.3,71.9 L572.9,71.8 L573.6,71.7 L574.2,71.6 L574.9,71.6 L575.5,71.5 L576.2,71.4 L576.8,71.4 L577.5,71.3 L578.1,71.3 L578.8,71.2 L579.4,71.1 L580.1,71.1 L580.7,71.0 L581.4,71.0 L582.0,71.0 L582.7,70.9 L583.3,70.9 L583.9,70.8 L584.6,70.8 L585.2,70.8 L585.9,70.7 L586.5,70.7 L587.2,70.7 L587.8,70.6 L588.5,70.6 L589.1,70.6 L589.8,70.5 L590.4,70.5 L591.1,70.5 L591.7,70.5 L592.4,70.4 L593.0,70.4 L593.7,70.4 L594.3,70.4 L595.0,70.4 L595.6,70.4 L596.3,70.3 L596.9,70.3 L597.6,70.3 L598.2,70.3 L598.9,70.3 L599.5,70.3 L600.2,70.3 L600.8,70.3 L601.5,70.3 L602.1,70.2 L602.7,70.2 L603.4,70.2 L604.0,70.2 L604.7,70.2 L605.3,70.2 L606.0,70.2 L606.6,70.2 L607.3,70.2 L607.9,70.2 L608.6,70.2 L609.2,70.2 L609.9,70.2 L610.5,70.2 L611.2,70.2 L611.8,70.2 L612.5,70.2 L613.1,70.2 L613.8,70.2 L614.4,70.2 L615.1,70.2 L615.7,70.2 L616.4,70.2 L617.0,70.2 L617.7,70.2 L618.3,70.2 L619.0,70.2 L619.6,70.2 L620.3,70.2 L620.9,70.2 L621.5,70.2 L622.2,70.2 L622.8,70.3 L623.5,70.3 L624.1,70.3 L624.8,70.3 L625.4,70.3 L626.1,70.3 L626.7,70.3 L627.4,70.3 L628.0,70.3 L628.7,70.3 L629.3,70.3 L630.0,70.3 L630.6,70.3 L631.3,70.3 L631.9,70.3 L632.6,70.3 L633.2,70.3 L633.9,70.4 L634.5,70.4 L635.2,70.4 L635.8,70.4 L636.5,70.4 L637.1,70.4 L637.8,70.4 L638.4,70.4 L639.0,70.4 L639.7,70.4 L640.3,70.4 L641.0,70.4 L641.6,70.4 L642.3,70.4 L642.9,70.4 L643.6,70.5 L644.2,70.5 L644.9,70.5 L645.5,70.5 L646.2,70.5 L646.8,70.5 L647.5,70.5 L648.1,70.5 L648.8,70.5 L649.4,70.5 L650.1,70.5 L650.7,70.5 L651.4,70.5 L652.0,70.5 L652.7,70.5 L653.3,70.5 L654.0,70.6 L654.6,70.6 L655.3,70.6 L655.9,70.6 L656.6,70.6 L657.2,70.6 L657.8,70.6 L658.5,70.6 L659.1,70.6 L659.8,70.6 L660.4,70.6 L661.1,70.6 L661.7,70.6 L662.4,70.6 L663.0,70.6 L663.7,70.6 L664.3,70.6 L665.0,70.6 L665.6,70.7 L666.3,70.7 L666.9,70.7 L667.6,70.7 L668.2,70.7 L668.9,70.7 L669.5,70.7 L670.2,70.7 L670.8,70.7 L671.5,70.7 L672.1,70.7 L672.8,70.7 L673.4,70.7 L674.1,70.7 L674.7,70.7 L675.4,70.7 L676.0,70.7" fill="none" stroke="#000000" stroke-width="3.3" stroke-dasharray="2.8 1.6" stroke-linejoin="round"/>
</g>
<g clip-path="url(#clc)">
<path d="M76.7,380.6 L77.2,380.7 L77.7,381.1 L78.2,381.4 L78.8,381.6 L79.3,381.2 L79.8,380.5 L80.3,380.3 L80.8,380.5 L81.3,380.8 L81.9,380.5 L82.4,380.2 L82.9,380.7 L83.4,380.8 L83.9,380.5 L84.4,380.6 L85.0,380.6 L85.5,381.2 L86.0,380.6 L86.5,380.5 L87.0,379.2 L87.5,378.6 L88.1,377.3 L88.6,376.8 L89.1,376.0 L89.6,376.8 L90.1,376.8 L90.6,376.5 L91.2,375.2 L91.7,375.4 L92.2,375.3 L92.7,375.5 L93.2,375.1 L93.7,374.3 L94.3,374.1 L94.8,373.7 L95.3,373.7 L95.8,373.5 L96.3,373.5 L96.8,373.7 L97.4,373.4 L97.9,373.8 L98.4,373.7 L98.9,373.1 L99.4,373.2 L99.9,372.9 L100.5,373.3 L101.0,372.9 L101.5,372.4 L102.0,372.2 L102.5,372.4 L103.0,373.2 L103.6,373.2 L104.1,372.8 L104.6,372.6 L105.1,372.9 L105.6,372.5 L106.1,372.2 L106.7,372.5 L107.2,372.7 L107.7,373.4 L108.2,373.1 L108.7,373.7 L109.2,373.8 L109.8,373.9 L110.3,373.1 L110.8,372.4 L111.3,372.9 L111.8,373.6 L112.3,373.8 L112.9,374.1 L113.4,373.9 L113.9,374.3 L114.4,373.0 L114.9,372.6 L115.4,372.7 L116.0,373.3 L116.5,373.7 L117.0,373.0 L117.5,373.1 L118.0,373.1 L118.5,373.6 L119.1,373.5 L119.6,373.5 L120.1,374.1 L120.6,374.1 L121.1,374.3 L121.6,373.4 L122.2,373.2 L122.7,373.1 L123.2,373.4 L123.7,373.8 L124.2,373.4 L124.7,373.8 L125.3,373.5 L125.8,374.4 L126.3,374.3 L126.8,375.3 L127.3,375.6 L127.8,375.9 L128.4,375.6 L128.9,374.7 L129.4,373.7 L129.9,373.7 L130.4,374.0 L130.9,374.8 L131.5,374.3 L132.0,374.2 L132.5,374.3 L133.0,374.3 L133.5,374.0 L134.0,374.3 L134.6,374.6 L135.1,374.8 L135.6,374.9 L136.1,374.7 L136.6,375.1 L137.1,374.3 L137.7,374.3 L138.2,374.0 L138.7,374.6 L139.2,374.7 L139.7,375.5 L140.2,375.8 L140.8,375.6 L141.3,375.6 L141.8,374.8 L142.3,375.7 L142.8,374.5 L143.3,375.2 L143.9,374.2 L144.4,374.5 L144.9,374.8 L145.4,374.6 L145.9,374.1 L146.4,373.5 L147.0,374.1 L147.5,374.7 L148.0,375.1 L148.5,374.5 L149.0,374.7 L149.5,374.3 L150.1,375.1 L150.6,375.1 L151.1,375.6 L151.6,374.8 L152.1,374.6 L152.6,373.8 L153.2,374.3 L153.7,374.5 L154.2,375.0 L154.7,375.2 L155.2,375.0 L155.7,375.0 L156.3,374.9 L156.8,375.4 L157.3,375.6 L157.8,374.9 L158.3,374.6 L158.8,374.7 L159.4,375.2 L159.9,374.4 L160.4,374.6 L160.9,374.8 L161.4,375.6 L161.9,375.7 L162.5,375.4 L163.0,375.1 L163.5,374.4 L164.0,375.0 L164.5,374.8 L165.0,375.1 L165.6,374.9 L166.1,375.5 L166.6,375.8 L167.1,375.2 L167.6,375.0 L168.1,374.4 L168.7,374.9 L169.2,374.9 L169.7,375.2 L170.2,375.0 L170.7,374.9 L171.2,374.8 L171.8,375.1 L172.3,374.5 L172.8,374.2 L173.3,374.0 L173.8,374.7 L174.3,375.6 L174.9,375.4 L175.4,374.8 L175.9,374.3 L176.4,374.5 L176.9,374.5 L177.4,374.2 L178.0,374.0 L178.5,374.5 L179.0,374.3 L179.5,375.2 L180.0,374.6 L180.5,375.1 L181.1,374.2 L181.6,373.9 L182.1,373.5 L182.6,374.3 L183.1,375.7 L183.6,376.0 L184.2,376.0 L184.7,375.4 L185.2,375.4 L185.7,375.6 L186.2,376.5 L186.7,376.8 L187.3,376.1 L187.8,375.4 L188.3,375.5 L188.8,375.9 L189.3,376.4 L189.8,376.5 L190.4,376.6 L190.9,376.7 L191.4,376.5 L191.9,376.1 L192.4,375.4 L192.9,376.0 L193.5,376.3 L194.0,376.8 L194.5,376.8 L195.0,376.5 L195.5,376.5 L196.0,376.0 L196.6,376.0 L197.1,374.9 L197.6,375.6 L198.1,375.5 L198.6,376.3 L199.1,375.8 L199.7,376.8 L200.2,377.0 L200.7,376.7 L201.2,376.2 L201.7,376.0 L202.2,376.5 L202.8,376.0 L203.3,376.1 L203.8,376.9 L204.3,377.6 L204.8,378.4 L205.3,378.9 L205.9,378.9 L206.4,377.6 L206.9,376.3 L207.4,376.6 L207.9,377.5 L208.4,377.1 L208.9,376.6 L209.5,376.3 L210.0,376.8 L210.5,376.9 L211.0,376.6 L211.5,376.4 L212.0,376.4 L212.6,377.2 L213.1,377.2 L213.6,377.6 L214.1,376.8 L214.6,377.6 L215.1,377.4 L215.7,377.9 L216.2,377.9 L216.7,377.2 L217.2,376.7 L217.7,376.4 L218.2,376.8 L218.8,377.3 L219.3,378.2 L219.8,378.4 L220.3,378.6 L220.8,377.6 L221.3,378.1 L221.9,378.3 L222.4,378.4 L222.9,377.6 L223.4,377.3 L223.9,377.3 L224.4,377.2 L225.0,377.6 L225.5,377.8 L226.0,379.1 L226.5,378.3 L227.0,377.8 L227.5,376.8 L228.1,377.2 L228.6,377.5 L229.1,377.8 L229.6,378.2 L230.1,378.4 L230.6,378.5 L231.2,377.8 L231.7,377.5 L232.2,377.6 L232.7,378.4 L233.2,378.9 L233.7,378.3 L234.3,377.9 L234.8,377.6 L235.3,378.4 L235.8,379.1 L236.3,379.2 L236.8,378.7 L237.4,378.4 L237.9,378.5 L238.4,379.0 L238.9,378.8 L239.4,379.4 L239.9,379.4 L240.5,379.8 L241.0,378.8 L241.5,379.1 L242.0,378.5 L242.5,378.3 L243.0,378.1 L243.6,378.6 L244.1,379.2 L244.6,379.1 L245.1,379.2 L245.6,379.1 L246.1,378.4 L246.7,378.1 L247.2,378.4 L247.7,379.6 L248.2,379.4 L248.7,379.8 L249.2,379.8 L249.8,379.5 L250.3,379.4 L250.8,378.5 L251.3,378.4 L251.8,378.0 L252.3,378.2 L252.9,378.0 L253.4,378.2 L253.9,378.7 L254.4,380.0 L254.9,379.9 L255.4,379.1 L256.0,378.2 L256.5,378.6 L257.0,379.5 L257.5,380.1 L258.0,379.6 L258.5,379.3 L259.1,379.0 L259.6,379.0 L260.1,379.1 L260.6,379.2 L261.1,379.2 L261.6,379.1 L262.2,378.9 L262.7,378.2 L263.2,378.0 L263.7,378.1 L264.2,379.5 L264.7,379.6 L265.3,380.4 L265.8,380.3 L266.3,380.1 L266.8,379.0 L267.3,378.5 L267.8,379.5 L268.4,380.0 L268.9,380.2 L269.4,379.2 L269.9,378.2 L270.4,377.8 L270.9,378.4 L271.5,379.7 L272.0,379.8 L272.5,379.6 L273.0,379.5 L273.5,379.5 L274.0,379.8 L274.6,378.9 L275.1,378.6 L275.6,377.7 L276.1,378.3 L276.6,378.5 L277.1,379.0 L277.7,378.9 L278.2,379.2 L278.7,379.7 L279.2,380.1 L279.7,379.6 L280.2,379.2 L280.8,378.5 L281.3,378.4 L281.8,379.0 L282.3,379.4 L282.8,379.7 L283.3,378.9 L283.9,378.7 L284.4,378.4 L284.9,378.4 L285.4,378.7 L285.9,379.5 L286.4,379.3 L287.0,378.6 L287.5,379.0 L288.0,378.7 L288.5,378.7 L289.0,377.4 L289.5,378.1 L290.1,378.4 L290.6,379.4 L291.1,378.2 L291.6,378.1 L292.1,377.1 L292.6,378.3 L293.2,378.2 L293.7,379.5 L294.2,379.3 L294.7,379.0 L295.2,378.8 L295.7,378.2 L296.3,378.5 L296.8,378.4 L297.3,379.0 L297.8,379.3 L298.3,378.9 L298.8,378.9 L299.4,379.1 L299.9,379.2 L300.4,379.4 L300.9,379.5 L301.4,379.4 L301.9,378.7 L302.5,378.7 L303.0,378.7 L303.5,379.3 L304.0,379.1 L304.5,378.8 L305.0,378.7 L305.6,377.7 L306.1,378.3 L306.6,378.0 L307.1,378.7 L307.6,378.6 L308.1,378.6 L308.7,378.5 L309.2,378.0 L309.7,378.2 L310.2,378.6 L310.7,378.9 L311.2,378.8 L311.8,378.0 L312.3,378.3 L312.8,378.3 L313.3,379.4 L313.8,378.8 L314.3,379.2 L314.9,379.2 L315.4,379.5 L315.9,378.6 L316.4,378.5 L316.9,378.9 L317.4,379.6 L318.0,379.4 L318.5,378.9 L319.0,378.9 L319.5,378.7 L320.0,378.6 L320.5,378.6 L321.1,378.1 L321.6,378.7 L322.1,378.9 L322.6,379.8 L323.1,378.7 L323.6,378.3 L324.2,377.5 L324.7,378.2 L325.2,378.0 L325.7,378.1 L326.2,377.3 L326.7,377.8 L327.3,378.4 L327.8,379.6 L328.3,379.7 L328.8,378.8 L329.3,378.0 L329.8,377.9 L330.4,378.7 L330.9,379.2 L331.4,378.2 L331.9,378.8 L332.4,378.5 L332.9,379.4 L333.5,377.9 L334.0,378.5 L334.5,378.2 L335.0,378.7" fill="none" stroke="#0000ff" stroke-width="3.9" stroke-linejoin="round"/>
<path d="M76.7,381.7 L77.2,381.1 L77.7,380.8 L78.2,380.6 L78.8,380.8 L79.3,381.2 L79.8,381.4 L80.3,381.3 L80.8,381.1 L81.3,380.8 L81.9,380.7 L82.4,380.7 L82.9,380.4 L83.4,379.9 L83.9,379.6 L84.4,379.7 L85.0,379.7 L85.5,380.1 L86.0,380.7 L86.5,380.7 L87.0,380.7 L87.5,380.6 L88.1,380.4 L88.6,380.2 L89.1,380.2 L89.6,380.1 L90.1,380.4 L90.6,380.5 L91.2,380.6 L91.7,380.5 L92.2,380.3 L92.7,380.4 L93.2,380.3 L93.7,380.5 L94.3,380.7 L94.8,380.8 L95.3,380.9 L95.8,380.9 L96.3,380.5 L96.8,380.4 L97.4,380.4 L97.9,380.0 L98.4,380.3 L98.9,380.4 L99.4,380.4 L99.9,380.3 L100.5,380.5 L101.0,380.2 L101.5,380.1 L102.0,380.0 L102.5,380.1 L103.0,379.6 L103.6,380.1 L104.1,380.0 L104.6,379.9 L105.1,379.7 L105.6,379.7 L106.1,379.4 L106.7,379.6 L107.2,379.5 L107.7,379.4 L108.2,379.4 L108.7,379.6 L109.2,379.4 L109.8,379.2 L110.3,379.0 L110.8,379.0 L111.3,379.0 L111.8,378.9 L112.3,379.1 L112.9,379.9 L113.4,379.9 L113.9,379.8 L114.4,380.3 L114.9,380.4 L115.4,379.5 L116.0,379.6 L116.5,379.2 L117.0,378.4 L117.5,377.8 L118.0,378.1 L118.5,378.0 L119.1,378.3 L119.6,378.9 L120.1,379.1 L120.6,378.9 L121.1,378.8 L121.6,378.2 L122.2,378.2 L122.7,378.2 L123.2,378.1 L123.7,377.9 L124.2,377.9 L124.7,377.6 L125.3,377.6 L125.8,377.6 L126.3,378.0 L126.8,378.6 L127.3,378.6 L127.8,378.5 L128.4,378.5 L128.9,378.7 L129.4,378.4 L129.9,378.7 L130.4,378.9 L130.9,379.5 L131.5,379.2 L132.0,378.9 L132.5,378.7 L133.0,378.6 L133.5,378.1 L134.0,377.9 L134.6,378.8 L135.1,379.0 L135.6,378.7 L136.1,378.6 L136.6,378.4 L137.1,377.5 L137.7,377.5 L138.2,377.6 L138.7,377.6 L139.2,378.2 L139.7,378.5 L140.2,378.4 L140.8,378.0 L141.3,378.3 L141.8,378.2 L142.3,378.2 L142.8,378.2 L143.3,378.7 L143.9,378.3 L144.4,378.6 L144.9,378.7 L145.4,379.1 L145.9,379.0 L146.4,379.1 L147.0,379.3 L147.5,379.5 L148.0,379.4 L148.5,379.8 L149.0,380.4 L149.5,379.8 L150.1,379.5 L150.6,379.5 L151.1,379.5 L151.6,378.9 L152.1,379.2 L152.6,379.1 L153.2,379.4 L153.7,379.5 L154.2,379.7 L154.7,379.8 L155.2,379.9 L155.7,379.6 L156.3,379.6 L156.8,379.7 L157.3,379.6 L157.8,379.5 L158.3,379.7 L158.8,379.6 L159.4,379.3 L159.9,378.6 L160.4,378.4 L160.9,378.2 L161.4,378.0 L161.9,377.9 L162.5,378.4 L163.0,379.1 L163.5,379.1 L164.0,379.0 L164.5,379.5 L165.0,379.9 L165.6,379.9 L166.1,379.8 L166.6,380.0 L167.1,379.8 L167.6,379.4 L168.1,378.9 L168.7,379.1 L169.2,378.7 L169.7,378.9 L170.2,379.0 L170.7,379.4 L171.2,379.0 L171.8,379.1 L172.3,379.0 L172.8,379.0 L173.3,378.8 L173.8,378.9 L174.3,379.2 L174.9,379.3 L175.4,379.2 L175.9,378.6 L176.4,378.5 L176.9,378.1 L177.4,377.7 L178.0,377.1 L178.5,377.8 L179.0,378.1 L179.5,377.8 L180.0,377.8 L180.5,378.1 L181.1,378.2 L181.6,377.7 L182.1,377.6 L182.6,377.6 L183.1,377.6 L183.6,377.9 L184.2,378.3 L184.7,378.7 L185.2,378.8 L185.7,378.8 L186.2,378.4 L186.7,379.0 L187.3,378.9 L187.8,379.2 L188.3,379.4 L188.8,379.5 L189.3,379.2 L189.8,379.9 L190.4,379.5 L190.9,379.4 L191.4,379.0 L191.9,378.5 L192.4,377.9 L192.9,378.7 L193.5,379.0 L194.0,379.6 L194.5,380.2 L195.0,380.2 L195.5,380.3 L196.0,380.0 L196.6,380.1 L197.1,379.9 L197.6,380.0 L198.1,379.6 L198.6,379.8 L199.1,379.6 L199.7,379.8 L200.2,380.2 L200.7,380.1 L201.2,379.7 L201.7,379.1 L202.2,378.7 L202.8,378.1 L203.3,378.3 L203.8,378.4 L204.3,378.9 L204.8,379.2 L205.3,379.5 L205.9,379.3 L206.4,379.7 L206.9,379.7 L207.4,380.0 L207.9,380.0 L208.4,379.4 L208.9,379.3 L209.5,379.3 L210.0,378.9 L210.5,378.7 L211.0,379.4 L211.5,379.4 L212.0,379.1 L212.6,379.2 L213.1,379.3 L213.6,378.6 L214.1,378.7 L214.6,378.8 L215.1,379.0 L215.7,378.6 L216.2,379.4 L216.7,379.4 L217.2,379.5 L217.7,379.1 L218.2,379.3 L218.8,378.5 L219.3,378.6 L219.8,378.3 L220.3,378.5 L220.8,378.7 L221.3,378.9 L221.9,378.7 L222.4,379.3 L222.9,379.3 L223.4,379.5 L223.9,379.7 L224.4,379.4 L225.0,378.7 L225.5,378.3 L226.0,377.9 L226.5,378.1 L227.0,378.3 L227.5,378.6 L228.1,379.2 L228.6,379.1 L229.1,378.8 L229.6,379.1 L230.1,378.7 L230.6,378.5 L231.2,378.5 L231.7,378.3 L232.2,377.7 L232.7,377.8 L233.2,377.5 L233.7,377.5 L234.3,377.4 L234.8,377.5 L235.3,377.9 L235.8,378.2 L236.3,378.4 L236.8,378.4 L237.4,378.9 L237.9,378.2 L238.4,378.1 L238.9,378.4 L239.4,378.8 L239.9,378.6 L240.5,379.0 L241.0,379.3 L241.5,379.0 L242.0,378.7 L242.5,378.6 L243.0,378.7 L243.6,378.6 L244.1,378.4 L244.6,377.7 L245.1,378.1 L245.6,378.0 L246.1,378.3 L246.7,378.3 L247.2,379.2 L247.7,379.1 L248.2,379.1 L248.7,379.1 L249.2,379.6 L249.8,379.4 L250.3,379.8 L250.8,380.2 L251.3,380.1 L251.8,379.9 L252.3,379.8 L252.9,379.8 L253.4,379.6 L253.9,379.3 L254.4,379.2 L254.9,379.2 L255.4,379.0 L256.0,378.8 L256.5,379.1 L257.0,379.5 L257.5,379.7 L258.0,379.2 L258.5,379.3 L259.1,378.9 L259.6,378.7 L260.1,378.3 L260.6,378.8 L261.1,378.9 L261.6,378.6 L262.2,378.4 L262.7,378.7 L263.2,378.6 L263.7,378.5 L264.2,378.8 L264.7,379.1 L265.3,379.4 L265.8,379.5 L266.3,379.6 L266.8,379.9 L267.3,379.4 L267.8,379.0 L268.4,378.7 L268.9,379.0 L269.4,378.8 L269.9,378.7 L270.4,378.6 L270.9,378.7 L271.5,378.4 L272.0,378.2 L272.5,378.9 L273.0,379.2 L273.5,379.1 L274.0,379.0 L274.6,379.5 L275.1,379.2 L275.6,379.3 L276.1,379.4 L276.6,379.6 L277.1,379.8 L277.7,379.9 L278.2,379.6 L278.7,379.9 L279.2,379.9 L279.7,379.5 L280.2,379.7 L280.8,379.9 L281.3,379.9 L281.8,379.6 L282.3,379.2 L282.8,378.5 L283.3,378.6 L283.9,378.1 L284.4,378.4 L284.9,378.9 L285.4,379.0 L285.9,379.2 L286.4,379.2 L287.0,379.2 L287.5,378.9 L288.0,379.2 L288.5,379.0 L289.0,379.2 L289.5,378.9 L290.1,379.3 L290.6,379.2 L291.1,379.1 L291.6,379.6 L292.1,379.6 L292.6,379.4 L293.2,379.4 L293.7,379.3 L294.2,378.5 L294.7,378.8 L295.2,379.1 L295.7,379.1 L296.3,378.8 L296.8,379.4 L297.3,379.0 L297.8,378.9 L298.3,379.1 L298.8,379.1 L299.4,378.7 L299.9,379.3 L300.4,379.2 L300.9,378.7 L301.4,378.7 L301.9,378.7 L302.5,378.3 L303.0,378.0 L303.5,378.4 L304.0,378.6 L304.5,378.5 L305.0,378.7 L305.6,378.9 L306.1,378.8 L306.6,378.8 L307.1,378.9 L307.6,378.9 L308.1,378.5 L308.7,378.5 L309.2,378.3 L309.7,377.8 L310.2,377.6 L310.7,377.3 L311.2,377.6 L311.8,377.6 L312.3,378.0 L312.8,377.7 L313.3,377.8 L313.8,378.1 L314.3,378.5 L314.9,378.3 L315.4,378.5 L315.9,378.8 L316.4,378.3 L316.9,378.0 L317.4,378.0 L318.0,378.2 L318.5,378.1 L319.0,378.7 L319.5,378.6 L320.0,379.0 L320.5,378.8 L321.1,379.1 L321.6,378.8 L322.1,378.8 L322.6,378.8 L323.1,379.3 L323.6,379.6 L324.2,379.4 L324.7,379.4 L325.2,378.9 L325.7,378.8 L326.2,378.2 L326.7,378.2 L327.3,378.3 L327.8,378.4 L328.3,378.2 L328.8,378.5 L329.3,378.6 L329.8,378.6 L330.4,378.8 L330.9,379.3 L331.4,378.9 L331.9,379.0 L332.4,378.9 L332.9,379.1 L333.5,378.8 L334.0,379.0 L334.5,378.8 L335.0,378.9" fill="none" stroke="#ff0000" stroke-width="3.9" stroke-dasharray="13.2 13" stroke-linejoin="round"/>
<path d="M76.7,380.8 L77.2,380.8 L77.7,380.8 L78.2,380.7 L78.8,380.7 L79.3,380.7 L79.8,380.6 L80.3,380.6 L80.8,380.5 L81.3,380.5 L81.9,380.4 L82.4,380.4 L82.9,380.3 L83.4,380.3 L83.9,380.2 L84.4,380.2 L85.0,380.1 L85.5,380.1 L86.0,380.0 L86.5,380.0 L87.0,379.9 L87.5,379.8 L88.1,379.8 L88.6,379.7 L89.1,379.6 L89.6,379.5 L90.1,379.5 L90.6,379.4 L91.2,379.3 L91.7,379.2 L92.2,379.1 L92.7,379.1 L93.2,379.0 L93.7,378.9 L94.3,378.8 L94.8,378.8 L95.3,378.7 L95.8,378.6 L96.3,378.5 L96.8,378.5 L97.4,378.4 L97.9,378.3 L98.4,378.2 L98.9,378.2 L99.4,378.1 L99.9,378.0 L100.5,377.9 L101.0,377.9 L101.5,377.8 L102.0,377.7 L102.5,377.6 L103.0,377.6 L103.6,377.5 L104.1,377.4 L104.6,377.3 L105.1,377.3 L105.6,377.2 L106.1,377.1 L106.7,377.0 L107.2,376.9 L107.7,376.9 L108.2,376.8 L108.7,376.7 L109.2,376.6 L109.8,376.5 L110.3,376.4 L110.8,376.3 L111.3,376.2 L111.8,376.1 L112.3,376.0 L112.9,375.9 L113.4,375.8 L113.9,375.7 L114.4,375.6 L114.9,375.6 L115.4,375.5 L116.0,375.4 L116.5,375.4 L117.0,375.3 L117.5,375.2 L118.0,375.2 L118.5,375.2 L119.1,375.1 L119.6,375.1 L120.1,375.1 L120.6,375.1 L121.1,375.1 L121.6,375.1 L122.2,375.1 L122.7,375.1 L123.2,375.1 L123.7,375.1 L124.2,375.1 L124.7,375.1 L125.3,375.1 L125.8,375.1 L126.3,375.1 L126.8,375.1 L127.3,375.1 L127.8,375.1 L128.4,375.2 L128.9,375.2 L129.4,375.2 L129.9,375.2 L130.4,375.2 L130.9,375.2 L131.5,375.2 L132.0,375.2 L132.5,375.2 L133.0,375.2 L133.5,375.2 L134.0,375.2 L134.6,375.3 L135.1,375.3 L135.6,375.3 L136.1,375.3 L136.6,375.3 L137.1,375.3 L137.7,375.3 L138.2,375.3 L138.7,375.3 L139.2,375.3 L139.7,375.4 L140.2,375.4 L140.8,375.4 L141.3,375.4 L141.8,375.4 L142.3,375.4 L142.8,375.4 L143.3,375.4 L143.9,375.4 L144.4,375.5 L144.9,375.5 L145.4,375.5 L145.9,375.5 L146.4,375.5 L147.0,375.5 L147.5,375.6 L148.0,375.6 L148.5,375.6 L149.0,375.6 L149.5,375.6 L150.1,375.6 L150.6,375.7 L151.1,375.7 L151.6,375.7 L152.1,375.7 L152.6,375.7 L153.2,375.8 L153.7,375.8 L154.2,375.8 L154.7,375.8 L155.2,375.8 L155.7,375.9 L156.3,375.9 L156.8,375.9 L157.3,375.9 L157.8,375.9 L158.3,376.0 L158.8,376.0 L159.4,376.0 L159.9,376.0 L160.4,376.0 L160.9,376.1 L161.4,376.1 L161.9,376.1 L162.5,376.1 L163.0,376.1 L163.5,376.2 L164.0,376.2 L164.5,376.2" fill="none" stroke="#000000" stroke-width="3.9" stroke-linejoin="round"/>
<path d="M164.5,376.2 L165.0,376.2 L165.6,376.2 L166.1,376.2 L166.6,376.3 L167.1,376.3 L167.6,376.3 L168.1,376.3 L168.7,376.3 L169.2,376.3 L169.7,376.4 L170.2,376.4 L170.7,376.4 L171.2,376.4 L171.8,376.4 L172.3,376.4 L172.8,376.5 L173.3,376.5 L173.8,376.5 L174.3,376.5 L174.9,376.5 L175.4,376.5 L175.9,376.6 L176.4,376.6 L176.9,376.6 L177.4,376.6 L178.0,376.6 L178.5,376.6 L179.0,376.7 L179.5,376.7 L180.0,376.7 L180.5,376.7 L181.1,376.7 L181.6,376.7 L182.1,376.8 L182.6,376.8 L183.1,376.8 L183.6,376.8 L184.2,376.8 L184.7,376.8 L185.2,376.9 L185.7,376.9 L186.2,376.9 L186.7,376.9 L187.3,376.9 L187.8,376.9 L188.3,377.0 L188.8,377.0 L189.3,377.0 L189.8,377.0 L190.4,377.0 L190.9,377.0 L191.4,377.0 L191.9,377.1 L192.4,377.1 L192.9,377.1 L193.5,377.1 L194.0,377.1 L194.5,377.1 L195.0,377.1 L195.5,377.2 L196.0,377.2 L196.6,377.2 L197.1,377.2 L197.6,377.2 L198.1,377.2 L198.6,377.2 L199.1,377.2 L199.7,377.2 L200.2,377.3 L200.7,377.3 L201.2,377.3 L201.7,377.3 L202.2,377.3 L202.8,377.3 L203.3,377.3 L203.8,377.3 L204.3,377.3 L204.8,377.4 L205.3,377.4 L205.9,377.4 L206.4,377.4 L206.9,377.4 L207.4,377.4 L207.9,377.4 L208.4,377.4 L208.9,377.4 L209.5,377.4 L210.0,377.4 L210.5,377.4 L211.0,377.5 L211.5,377.5 L212.0,377.5 L212.6,377.5 L213.1,377.5 L213.6,377.5 L214.1,377.5 L214.6,377.5 L215.1,377.5 L215.7,377.5 L216.2,377.5 L216.7,377.5 L217.2,377.6 L217.7,377.6 L218.2,377.6 L218.8,377.6 L219.3,377.6 L219.8,377.6 L220.3,377.6 L220.8,377.6 L221.3,377.6 L221.9,377.6 L222.4,377.6 L222.9,377.6 L223.4,377.6 L223.9,377.6 L224.4,377.7 L225.0,377.7 L225.5,377.7 L226.0,377.7 L226.5,377.7 L227.0,377.7 L227.5,377.7 L228.1,377.7 L228.6,377.7 L229.1,377.7 L229.6,377.7 L230.1,377.7 L230.6,377.7 L231.2,377.7 L231.7,377.7 L232.2,377.8 L232.7,377.8 L233.2,377.8 L233.7,377.8 L234.3,377.8 L234.8,377.8 L235.3,377.8 L235.8,377.8 L236.3,377.8 L236.8,377.8 L237.4,377.8 L237.9,377.8 L238.4,377.8 L238.9,377.8 L239.4,377.8 L239.9,377.8 L240.5,377.8 L241.0,377.8 L241.5,377.9 L242.0,377.9 L242.5,377.9 L243.0,377.9 L243.6,377.9 L244.1,377.9 L244.6,377.9 L245.1,377.9 L245.6,377.9 L246.1,377.9 L246.7,377.9 L247.2,377.9 L247.7,377.9 L248.2,377.9 L248.7,377.9 L249.2,377.9 L249.8,377.9 L250.3,377.9 L250.8,377.9 L251.3,377.9 L251.8,377.9 L252.3,377.9 L252.9,377.9 L253.4,377.9 L253.9,377.9 L254.4,377.9 L254.9,378.0 L255.4,378.0 L256.0,378.0 L256.5,378.0 L257.0,378.0 L257.5,378.0 L258.0,378.0 L258.5,378.0 L259.1,378.0 L259.6,378.0 L260.1,378.0 L260.6,378.0 L261.1,378.0 L261.6,378.0 L262.2,378.0 L262.7,378.0 L263.2,378.0 L263.7,378.0 L264.2,378.0 L264.7,378.0 L265.3,378.0 L265.8,378.0 L266.3,378.0 L266.8,378.0 L267.3,378.0 L267.8,378.0 L268.4,378.0 L268.9,378.0 L269.4,378.0 L269.9,378.0 L270.4,378.0 L270.9,378.0 L271.5,378.0 L272.0,378.0 L272.5,378.0 L273.0,378.0 L273.5,378.0 L274.0,378.0 L274.6,378.0 L275.1,378.0 L275.6,378.0 L276.1,378.0 L276.6,378.0 L277.1,378.0 L277.7,378.0 L278.2,378.0 L278.7,378.1 L279.2,378.1 L279.7,378.1 L280.2,378.1 L280.8,378.1 L281.3,378.1 L281.8,378.1 L282.3,378.1 L282.8,378.1 L283.3,378.1 L283.9,378.1 L284.4,378.1 L284.9,378.1 L285.4,378.1 L285.9,378.1 L286.4,378.1 L287.0,378.1 L287.5,378.1 L288.0,378.1 L288.5,378.1 L289.0,378.1 L289.5,378.1 L290.1,378.1 L290.6,378.1 L291.1,378.1 L291.6,378.1 L292.1,378.1 L292.6,378.1 L293.2,378.1 L293.7,378.1 L294.2,378.1 L294.7,378.1 L295.2,378.1 L295.7,378.1 L296.3,378.1 L296.8,378.1 L297.3,378.1 L297.8,378.1 L298.3,378.1 L298.8,378.1 L299.4,378.1 L299.9,378.1 L300.4,378.1 L300.9,378.1 L301.4,378.1 L301.9,378.1 L302.5,378.1 L303.0,378.1 L303.5,378.1 L304.0,378.1 L304.5,378.1 L305.0,378.1 L305.6,378.1 L306.1,378.1 L306.6,378.1 L307.1,378.1 L307.6,378.1 L308.1,378.1 L308.7,378.1 L309.2,378.1 L309.7,378.1 L310.2,378.1 L310.7,378.1 L311.2,378.1 L311.8,378.1 L312.3,378.1 L312.8,378.1 L313.3,378.1 L313.8,378.1 L314.3,378.1 L314.9,378.1 L315.4,378.1 L315.9,378.1 L316.4,378.1 L316.9,378.2 L317.4,378.2 L318.0,378.2 L318.5,378.2 L319.0,378.2 L319.5,378.2 L320.0,378.2 L320.5,378.2 L321.1,378.2 L321.6,378.2 L322.1,378.2 L322.6,378.2 L323.1,378.2 L323.6,378.2 L324.2,378.2 L324.7,378.2 L325.2,378.2 L325.7,378.2 L326.2,378.2 L326.7,378.2 L327.3,378.2 L327.8,378.2 L328.3,378.2 L328.8,378.2 L329.3,378.2 L329.8,378.2 L330.4,378.2 L330.9,378.2 L331.4,378.2 L331.9,378.2 L332.4,378.2 L332.9,378.2 L333.5,378.2 L334.0,378.2 L334.5,378.2 L335.0,378.2" fill="none" stroke="#000000" stroke-width="3.9" stroke-dasharray="3.4 3.3" stroke-linejoin="round"/>
<path d="M76.7,286.4 L77.2,300.3 L77.7,307.6 L78.2,312.5 L78.8,316.2 L79.3,318.7 L79.8,320.7 L80.3,322.4 L80.8,324.0 L81.3,325.1 L81.9,325.7 L82.4,326.3 L82.9,326.7 L83.4,327.1 L83.9,327.4 L84.4,327.7 L85.0,327.9 L85.5,328.0 L86.0,328.1 L86.5,328.1 L87.0,328.2 L87.5,328.2 L88.1,328.2 L88.6,328.2 L89.1,328.2 L89.6,328.2 L90.1,328.3 L90.6,328.3 L91.2,328.3 L91.7,328.3 L92.2,328.3 L92.7,328.4 L93.2,328.4 L93.7,328.5 L94.3,328.5 L94.8,328.5 L95.3,328.6 L95.8,328.7 L96.3,328.7 L96.8,328.8 L97.4,328.8 L97.9,328.9 L98.4,329.0 L98.9,329.1 L99.4,329.2 L99.9,329.3 L100.5,329.4 L101.0,329.5 L101.5,329.7 L102.0,329.8 L102.5,330.0 L103.0,330.2 L103.6,330.3 L104.1,330.5 L104.6,330.7 L105.1,330.9 L105.6,331.0 L106.1,331.2 L106.7,331.4 L107.2,331.6 L107.7,331.8 L108.2,332.0 L108.7,332.2 L109.2,332.4 L109.8,332.6 L110.3,332.8 L110.8,333.0 L111.3,333.2 L111.8,333.5 L112.3,333.7 L112.9,333.9 L113.4,334.1 L113.9,334.3 L114.4,334.6 L114.9,334.8 L115.4,335.0 L116.0,335.2 L116.5,335.4 L117.0,335.6 L117.5,335.8 L118.0,336.0 L118.5,336.2 L119.1,336.4 L119.6,336.6 L120.1,336.8 L120.6,337.0 L121.1,337.2 L121.6,337.4 L122.2,337.6 L122.7,337.8 L123.2,338.0 L123.7,338.2 L124.2,338.4 L124.7,338.6 L125.3,338.8 L125.8,338.9 L126.3,339.1 L126.8,339.3 L127.3,339.5 L127.8,339.6 L128.4,339.8 L128.9,340.0 L129.4,340.1 L129.9,340.3 L130.4,340.5 L130.9,340.6 L131.5,340.8 L132.0,340.9 L132.5,341.1 L133.0,341.3 L133.5,341.4 L134.0,341.6 L134.6,341.7 L135.1,341.8 L135.6,342.0 L136.1,342.1 L136.6,342.2 L137.1,342.4 L137.7,342.5 L138.2,342.6 L138.7,342.7 L139.2,342.8 L139.7,342.9 L140.2,343.0 L140.8,343.1 L141.3,343.2 L141.8,343.3 L142.3,343.4 L142.8,343.4 L143.3,343.5 L143.9,343.6 L144.4,343.7 L144.9,343.7 L145.4,343.8 L145.9,343.9 L146.4,344.0 L147.0,344.1 L147.5,344.1 L148.0,344.2 L148.5,344.3 L149.0,344.4 L149.5,344.5 L150.1,344.6 L150.6,344.7 L151.1,344.7 L151.6,344.8 L152.1,344.9 L152.6,345.0 L153.2,345.1 L153.7,345.2 L154.2,345.3 L154.7,345.4 L155.2,345.5 L155.7,345.6 L156.3,345.7 L156.8,345.8 L157.3,345.9 L157.8,346.0 L158.3,346.1 L158.8,346.2 L159.4,346.3 L159.9,346.3 L160.4,346.4 L160.9,346.5 L161.4,346.6 L161.9,346.7 L162.5,346.7 L163.0,346.8 L163.5,346.9 L164.0,347.0 L164.5,347.0 L165.0,347.1 L165.6,347.2 L166.1,347.3 L166.6,347.3 L167.1,347.4 L167.6,347.5 L168.1,347.6 L168.7,347.6 L169.2,347.7 L169.7,347.8 L170.2,347.8 L170.7,347.9 L171.2,348.0 L171.8,348.0 L172.3,348.1 L172.8,348.2 L173.3,348.2 L173.8,348.3 L174.3,348.3 L174.9,348.4 L175.4,348.4 L175.9,348.5 L176.4,348.6 L176.9,348.6 L177.4,348.6 L178.0,348.7 L178.5,348.7 L179.0,348.8 L179.5,348.8 L180.0,348.9 L180.5,348.9 L181.1,348.9 L181.6,349.0 L182.1,349.0 L182.6,349.0 L183.1,349.1 L183.6,349.1 L184.2,349.2 L184.7,349.2 L185.2,349.2 L185.7,349.3 L186.2,349.3 L186.7,349.3 L187.3,349.3 L187.8,349.4 L188.3,349.4 L188.8,349.4 L189.3,349.5 L189.8,349.5 L190.4,349.5 L190.9,349.6 L191.4,349.6 L191.9,349.6 L192.4,349.7 L192.9,349.7 L193.5,349.7 L194.0,349.7 L194.5,349.8 L195.0,349.8 L195.5,349.8 L196.0,349.9 L196.6,349.9 L197.1,349.9 L197.6,350.0 L198.1,350.0 L198.6,350.0 L199.1,350.1 L199.7,350.1 L200.2,350.1 L200.7,350.2 L201.2,350.2 L201.7,350.2 L202.2,350.3 L202.8,350.3 L203.3,350.3 L203.8,350.4 L204.3,350.4 L204.8,350.4 L205.3,350.5 L205.9,350.5 L206.4,350.5 L206.9,350.6 L207.4,350.6 L207.9,350.6 L208.4,350.6 L208.9,350.7 L209.5,350.7 L210.0,350.7 L210.5,350.7 L211.0,350.7 L211.5,350.7 L212.0,350.8 L212.6,350.8 L213.1,350.8 L213.6,350.8 L214.1,350.8 L214.6,350.8 L215.1,350.8 L215.7,350.9 L216.2,350.9 L216.7,350.9 L217.2,350.9 L217.7,350.9 L218.2,350.9 L218.8,350.9 L219.3,350.9 L219.8,351.0 L220.3,351.0 L220.8,351.0 L221.3,351.0 L221.9,351.0 L222.4,351.0 L222.9,351.0 L223.4,351.0 L223.9,351.0 L224.4,351.1 L225.0,351.1 L225.5,351.1 L226.0,351.1 L226.5,351.1 L227.0,351.1 L227.5,351.1 L228.1,351.1 L228.6,351.1 L229.1,351.1 L229.6,351.2 L230.1,351.2 L230.6,351.2 L231.2,351.2 L231.7,351.2 L232.2,351.2 L232.7,351.2 L233.2,351.2 L233.7,351.2 L234.3,351.2 L234.8,351.2 L235.3,351.3 L235.8,351.3 L236.3,351.3 L236.8,351.3 L237.4,351.3 L237.9,351.3 L238.4,351.3 L238.9,351.3 L239.4,351.3 L239.9,351.3 L240.5,351.3 L241.0,351.3 L241.5,351.3 L242.0,351.3 L242.5,351.4 L243.0,351.4 L243.6,351.4 L244.1,351.4 L244.6,351.4 L245.1,351.4 L245.6,351.4 L246.1,351.4 L246.7,351.4 L247.2,351.4 L247.7,351.4 L248.2,351.4 L248.7,351.4 L249.2,351.4 L249.8,351.4 L250.3,351.4 L250.8,351.5 L251.3,351.5 L251.8,351.5 L252.3,351.5 L252.9,351.5 L253.4,351.5 L253.9,351.5 L254.4,351.5 L254.9,351.5 L255.4,351.5 L256.0,351.5 L256.5,351.5 L257.0,351.5 L257.5,351.5 L258.0,351.5 L258.5,351.5 L259.1,351.5 L259.6,351.5 L260.1,351.5 L260.6,351.5 L261.1,351.6 L261.6,351.6 L262.2,351.6 L262.7,351.6 L263.2,351.6 L263.7,351.6 L264.2,351.6 L264.7,351.6 L265.3,351.6 L265.8,351.6 L266.3,351.6 L266.8,351.6 L267.3,351.6 L267.8,351.6 L268.4,351.6 L268.9,351.6 L269.4,351.6 L269.9,351.6 L270.4,351.6 L270.9,351.6 L271.5,351.7 L272.0,351.7 L272.5,351.7 L273.0,351.7 L273.5,351.7 L274.0,351.7 L274.6,351.7 L275.1,351.7 L275.6,351.7 L276.1,351.7 L276.6,351.7 L277.1,351.7 L277.7,351.7 L278.2,351.7 L278.7,351.7 L279.2,351.7 L279.7,351.7 L280.2,351.7 L280.8,351.7 L281.3,351.7 L281.8,351.7 L282.3,351.7 L282.8,351.8 L283.3,351.8 L283.9,351.8 L284.4,351.8 L284.9,351.8 L285.4,351.8 L285.9,351.8 L286.4,351.8 L287.0,351.8 L287.5,351.8 L288.0,351.8 L288.5,351.8 L289.0,351.8 L289.5,351.8 L290.1,351.8 L290.6,351.8 L291.1,351.8 L291.6,351.8 L292.1,351.8 L292.6,351.8 L293.2,351.8 L293.7,351.8 L294.2,351.8 L294.7,351.8 L295.2,351.9 L295.7,351.9 L296.3,351.9 L296.8,351.9 L297.3,351.9 L297.8,351.9 L298.3,351.9 L298.8,351.9 L299.4,351.9 L299.9,351.9 L300.4,351.9 L300.9,351.9 L301.4,351.9 L301.9,351.9 L302.5,351.9 L303.0,351.9 L303.5,351.9 L304.0,351.9 L304.5,351.9 L305.0,351.9 L305.6,351.9 L306.1,351.9 L306.6,351.9 L307.1,351.9 L307.6,351.9 L308.1,351.9 L308.7,351.9 L309.2,351.9 L309.7,351.9 L310.2,351.9 L310.7,351.9 L311.2,352.0 L311.8,352.0 L312.3,352.0 L312.8,352.0 L313.3,352.0 L313.8,352.0 L314.3,352.0 L314.9,352.0 L315.4,352.0 L315.9,352.0 L316.4,352.0 L316.9,352.0 L317.4,352.0 L318.0,352.0 L318.5,352.0 L319.0,352.0 L319.5,352.0 L320.0,352.0 L320.5,352.0 L321.1,352.0 L321.6,352.0 L322.1,352.0 L322.6,352.0 L323.1,352.0 L323.6,352.0 L324.2,352.0 L324.7,352.0 L325.2,352.0 L325.7,352.0 L326.2,352.0 L326.7,352.0 L327.3,352.0 L327.8,352.0 L328.3,352.0 L328.8,352.0 L329.3,352.0 L329.8,352.0 L330.4,352.0 L330.9,352.0 L331.4,352.0 L331.9,352.0 L332.4,352.0 L332.9,352.0 L333.5,352.0 L334.0,352.0 L334.5,352.0 L335.0,352.0" fill="none" stroke="#ff0000" stroke-width="3.9" stroke-dasharray="13.2 13" stroke-linejoin="round"/>
<path d="M76.7,286.4 L77.2,300.3 L77.7,307.6 L78.2,312.5 L78.8,316.2 L79.3,318.7 L79.8,320.7 L80.3,322.4 L80.8,324.0 L81.3,325.1 L81.9,325.7 L82.4,326.3 L82.9,326.7 L83.4,327.1 L83.9,327.4 L84.4,327.7 L85.0,327.9 L85.5,328.0 L86.0,328.1 L86.5,328.1 L87.0,328.2 L87.5,328.2 L88.1,328.2 L88.6,328.2 L89.1,328.2 L89.6,328.2 L90.1,328.3 L90.6,328.3 L91.2,328.3 L91.7,328.3 L92.2,328.3 L92.7,328.4 L93.2,328.4 L93.7,328.5 L94.3,328.5 L94.8,328.5 L95.3,328.6 L95.8,328.7 L96.3,328.7 L96.8,328.8 L97.4,328.8 L97.9,328.9 L98.4,329.0 L98.9,329.1 L99.4,329.2 L99.9,329.3 L100.5,329.4 L101.0,329.5 L101.5,329.7 L102.0,329.8 L102.5,330.0 L103.0,330.2 L103.6,330.3 L104.1,330.5 L104.6,330.7 L105.1,330.9 L105.6,331.0 L106.1,331.2 L106.7,331.4 L107.2,331.6 L107.7,331.8 L108.2,332.0 L108.7,332.2 L109.2,332.4 L109.8,332.6 L110.3,332.8 L110.8,333.0 L111.3,333.2 L111.8,333.5 L112.3,333.7 L112.9,333.9 L113.4,334.1 L113.9,334.3 L114.4,334.6 L114.9,334.8 L115.4,335.0 L116.0,335.2 L116.5,335.4 L117.0,335.6 L117.5,335.8 L118.0,336.0 L118.5,336.2 L119.1,336.4 L119.6,336.6 L120.1,336.8 L120.6,337.0 L121.1,337.2 L121.6,337.4 L122.2,337.6 L122.7,337.8 L123.2,338.0 L123.7,338.2 L124.2,338.4 L124.7,338.6 L125.3,338.8 L125.8,338.9 L126.3,339.1 L126.8,339.3 L127.3,339.5 L127.8,339.6 L128.4,339.8 L128.9,340.0 L129.4,340.1 L129.9,340.3 L130.4,340.5 L130.9,340.6 L131.5,340.8 L132.0,340.9 L132.5,341.1 L133.0,341.3 L133.5,341.4 L134.0,341.6 L134.6,341.7 L135.1,341.8 L135.6,342.0 L136.1,342.1 L136.6,342.2 L137.1,342.4 L137.7,342.5 L138.2,342.6 L138.7,342.7 L139.2,342.8 L139.7,342.9 L140.2,343.0 L140.8,343.1 L141.3,343.2 L141.8,343.3 L142.3,343.4 L142.8,343.4 L143.3,343.5 L143.9,343.6 L144.4,343.7 L144.9,343.7 L145.4,343.8 L145.9,343.9 L146.4,344.0 L147.0,344.1 L147.5,344.1 L148.0,344.2 L148.5,344.3 L149.0,344.4 L149.5,344.5 L150.1,344.6 L150.6,344.7 L151.1,344.7 L151.6,344.8 L152.1,344.9 L152.6,345.0 L153.2,345.1 L153.7,345.2 L154.2,345.3 L154.7,345.4 L155.2,345.5 L155.7,345.6 L156.3,345.7 L156.8,345.8 L157.3,345.9 L157.8,346.0 L158.3,346.1 L158.8,346.2 L159.4,346.3 L159.9,346.3 L160.4,346.4 L160.9,346.5 L161.4,346.6 L161.9,346.7 L162.5,346.7 L163.0,346.8 L163.5,346.9 L164.0,347.0 L164.5,347.0 L165.0,347.1 L165.6,347.2 L166.1,347.3 L166.6,347.3 L167.1,347.4 L167.6,347.5 L168.1,347.6 L168.7,347.6 L169.2,347.7 L169.7,347.8 L170.2,347.8 L170.7,347.9 L171.2,348.0 L171.8,348.0 L172.3,348.1 L172.8,348.2 L173.3,348.2 L173.8,348.3 L174.3,348.3 L174.9,348.4 L175.4,348.4 L175.9,348.5 L176.4,348.6 L176.9,348.6 L177.4,348.6 L178.0,348.7 L178.5,348.7 L179.0,348.8 L179.5,348.8 L180.0,348.9 L180.5,348.9 L181.1,348.9 L181.6,349.0 L182.1,349.0 L182.6,349.0 L183.1,349.1 L183.6,349.1 L184.2,349.2 L184.7,349.2 L185.2,349.2 L185.7,349.3 L186.2,349.3 L186.7,349.3 L187.3,349.3 L187.8,349.4 L188.3,349.4 L188.8,349.4 L189.3,349.5 L189.8,349.5 L190.4,349.5 L190.9,349.6 L191.4,349.6 L191.9,349.6 L192.4,349.7 L192.9,349.7 L193.5,349.7 L194.0,349.7 L194.5,349.8 L195.0,349.8 L195.5,349.8 L196.0,349.9 L196.6,349.9 L197.1,349.9 L197.6,350.0 L198.1,350.0 L198.6,350.0 L199.1,350.1 L199.7,350.1 L200.2,350.1 L200.7,350.2 L201.2,350.2 L201.7,350.2 L202.2,350.3 L202.8,350.3 L203.3,350.3 L203.8,350.4 L204.3,350.4 L204.8,350.4 L205.3,350.5 L205.9,350.5 L206.4,350.5 L206.9,350.6 L207.4,350.6 L207.9,350.6 L208.4,350.6 L208.9,350.7 L209.5,350.7 L210.0,350.7 L210.5,350.7 L211.0,350.7 L211.5,350.7 L212.0,350.8 L212.6,350.8 L213.1,350.8 L213.6,350.8 L214.1,350.8 L214.6,350.8 L215.1,350.8 L215.7,350.9 L216.2,350.9 L216.7,350.9 L217.2,350.9 L217.7,350.9 L218.2,350.9 L218.8,350.9 L219.3,350.9 L219.8,351.0 L220.3,351.0 L220.8,351.0 L221.3,351.0 L221.9,351.0 L222.4,351.0 L222.9,351.0 L223.4,351.0 L223.9,351.0 L224.4,351.1 L225.0,351.1 L225.5,351.1 L226.0,351.1 L226.5,351.1 L227.0,351.1 L227.5,351.1 L228.1,351.1 L228.6,351.1 L229.1,351.1 L229.6,351.2 L230.1,351.2 L230.6,351.2 L231.2,351.2 L231.7,351.2 L232.2,351.2 L232.7,351.2 L233.2,351.2 L233.7,351.2 L234.3,351.2 L234.8,351.2 L235.3,351.3 L235.8,351.3 L236.3,351.3 L236.8,351.3 L237.4,351.3 L237.9,351.3 L238.4,351.3 L238.9,351.3 L239.4,351.3 L239.9,351.3 L240.5,351.3 L241.0,351.3 L241.5,351.3 L242.0,351.3 L242.5,351.4 L243.0,351.4 L243.6,351.4 L244.1,351.4 L244.6,351.4 L245.1,351.4 L245.6,351.4 L246.1,351.4 L246.7,351.4 L247.2,351.4 L247.7,351.4 L248.2,351.4 L248.7,351.4 L249.2,351.4 L249.8,351.4 L250.3,351.4 L250.8,351.5 L251.3,351.5 L251.8,351.5 L252.3,351.5 L252.9,351.5 L253.4,351.5 L253.9,351.5 L254.4,351.5 L254.9,351.5 L255.4,351.5 L256.0,351.5 L256.5,351.5 L257.0,351.5 L257.5,351.5 L258.0,351.5 L258.5,351.5 L259.1,351.5 L259.6,351.5 L260.1,351.5 L260.6,351.5 L261.1,351.6 L261.6,351.6 L262.2,351.6 L262.7,351.6 L263.2,351.6 L263.7,351.6 L264.2,351.6 L264.7,351.6 L265.3,351.6 L265.8,351.6 L266.3,351.6 L266.8,351.6 L267.3,351.6 L267.8,351.6 L268.4,351.6 L268.9,351.6 L269.4,351.6 L269.9,351.6 L270.4,351.6 L270.9,351.6 L271.5,351.7 L272.0,351.7 L272.5,351.7 L273.0,351.7 L273.5,351.7 L274.0,351.7 L274.6,351.7 L275.1,351.7 L275.6,351.7 L276.1,351.7 L276.6,351.7 L277.1,351.7 L277.7,351.7 L278.2,351.7 L278.7,351.7 L279.2,351.7 L279.7,351.7 L280.2,351.7 L280.8,351.7 L281.3,351.7 L281.8,351.7 L282.3,351.7 L282.8,351.8 L283.3,351.8 L283.9,351.8 L284.4,351.8 L284.9,351.8 L285.4,351.8 L285.9,351.8 L286.4,351.8 L287.0,351.8 L287.5,351.8 L288.0,351.8 L288.5,351.8 L289.0,351.8 L289.5,351.8 L290.1,351.8 L290.6,351.8 L291.1,351.8 L291.6,351.8 L292.1,351.8 L292.6,351.8 L293.2,351.8 L293.7,351.8 L294.2,351.8 L294.7,351.8 L295.2,351.9 L295.7,351.9 L296.3,351.9 L296.8,351.9 L297.3,351.9 L297.8,351.9 L298.3,351.9 L298.8,351.9 L299.4,351.9 L299.9,351.9 L300.4,351.9 L300.9,351.9 L301.4,351.9 L301.9,351.9 L302.5,351.9 L303.0,351.9 L303.5,351.9 L304.0,351.9 L304.5,351.9 L305.0,351.9 L305.6,351.9 L306.1,351.9 L306.6,351.9 L307.1,351.9 L307.6,351.9 L308.1,351.9 L308.7,351.9 L309.2,351.9 L309.7,351.9 L310.2,351.9 L310.7,351.9 L311.2,352.0 L311.8,352.0 L312.3,352.0 L312.8,352.0 L313.3,352.0 L313.8,352.0 L314.3,352.0 L314.9,352.0 L315.4,352.0 L315.9,352.0 L316.4,352.0 L316.9,352.0 L317.4,352.0 L318.0,352.0 L318.5,352.0 L319.0,352.0 L319.5,352.0 L320.0,352.0 L320.5,352.0 L321.1,352.0 L321.6,352.0 L322.1,352.0 L322.6,352.0 L323.1,352.0 L323.6,352.0 L324.2,352.0 L324.7,352.0 L325.2,352.0 L325.7,352.0 L326.2,352.0 L326.7,352.0 L327.3,352.0 L327.8,352.0 L328.3,352.0 L328.8,352.0 L329.3,352.0 L329.8,352.0 L330.4,352.0 L330.9,352.0 L331.4,352.0 L331.9,352.0 L332.4,352.0 L332.9,352.0 L333.5,352.0 L334.0,352.0 L334.5,352.0 L335.0,352.0" fill="none" stroke="#000000" stroke-width="3.9" stroke-dasharray="3.4 3.3" stroke-linejoin="round"/>
<path d="M76.7,472.7 L77.2,458.8 L77.7,451.5 L78.2,446.6 L78.8,442.9 L79.3,440.4 L79.8,438.4 L80.3,436.7 L80.8,435.1 L81.3,434.0 L81.9,433.4 L82.4,432.8 L82.9,432.4 L83.4,432.0 L83.9,431.7 L84.4,431.4 L85.0,431.2 L85.5,431.1 L86.0,431.0 L86.5,431.0 L87.0,430.9 L87.5,430.9 L88.1,430.9 L88.6,430.9 L89.1,430.9 L89.6,430.9 L90.1,430.8 L90.6,430.8 L91.2,430.8 L91.7,430.8 L92.2,430.8 L92.7,430.7 L93.2,430.7 L93.7,430.6 L94.3,430.6 L94.8,430.6 L95.3,430.5 L95.8,430.4 L96.3,430.4 L96.8,430.3 L97.4,430.3 L97.9,430.2 L98.4,430.1 L98.9,430.0 L99.4,429.9 L99.9,429.8 L100.5,429.7 L101.0,429.6 L101.5,429.4 L102.0,429.3 L102.5,429.1 L103.0,428.9 L103.6,428.8 L104.1,428.6 L104.6,428.4 L105.1,428.2 L105.6,428.1 L106.1,427.9 L106.7,427.7 L107.2,427.5 L107.7,427.3 L108.2,427.1 L108.7,426.9 L109.2,426.7 L109.8,426.5 L110.3,426.3 L110.8,426.1 L111.3,425.9 L111.8,425.6 L112.3,425.4 L112.9,425.2 L113.4,425.0 L113.9,424.8 L114.4,424.5 L114.9,424.3 L115.4,424.1 L116.0,423.9 L116.5,423.7 L117.0,423.5 L117.5,423.3 L118.0,423.1 L118.5,422.9 L119.1,422.7 L119.6,422.5 L120.1,422.3 L120.6,422.1 L121.1,421.9 L121.6,421.7 L122.2,421.5 L122.7,421.3 L123.2,421.1 L123.7,420.9 L124.2,420.7 L124.7,420.5 L125.3,420.3 L125.8,420.2 L126.3,420.0 L126.8,419.8 L127.3,419.6 L127.8,419.5 L128.4,419.3 L128.9,419.1 L129.4,419.0 L129.9,418.8 L130.4,418.6 L130.9,418.5 L131.5,418.3 L132.0,418.2 L132.5,418.0 L133.0,417.8 L133.5,417.7 L134.0,417.5 L134.6,417.4 L135.1,417.3 L135.6,417.1 L136.1,417.0 L136.6,416.9 L137.1,416.7 L137.7,416.6 L138.2,416.5 L138.7,416.4 L139.2,416.3 L139.7,416.2 L140.2,416.1 L140.8,416.0 L141.3,415.9 L141.8,415.8 L142.3,415.7 L142.8,415.7 L143.3,415.6 L143.9,415.5 L144.4,415.4 L144.9,415.4 L145.4,415.3 L145.9,415.2 L146.4,415.1 L147.0,415.0 L147.5,415.0 L148.0,414.9 L148.5,414.8 L149.0,414.7 L149.5,414.6 L150.1,414.5 L150.6,414.4 L151.1,414.4 L151.6,414.3 L152.1,414.2 L152.6,414.1 L153.2,414.0 L153.7,413.9 L154.2,413.8 L154.7,413.7 L155.2,413.6 L155.7,413.5 L156.3,413.4 L156.8,413.3 L157.3,413.2 L157.8,413.1 L158.3,413.0 L158.8,412.9 L159.4,412.8 L159.9,412.8 L160.4,412.7 L160.9,412.6 L161.4,412.5 L161.9,412.4 L162.5,412.4 L163.0,412.3 L163.5,412.2 L164.0,412.1 L164.5,412.1 L165.0,412.0 L165.6,411.9 L166.1,411.8 L166.6,411.8 L167.1,411.7 L167.6,411.6 L168.1,411.5 L168.7,411.5 L169.2,411.4 L169.7,411.3 L170.2,411.3 L170.7,411.2 L171.2,411.1 L171.8,411.1 L172.3,411.0 L172.8,410.9 L173.3,410.9 L173.8,410.8 L174.3,410.8 L174.9,410.7 L175.4,410.7 L175.9,410.6 L176.4,410.5 L176.9,410.5 L177.4,410.5 L178.0,410.4 L178.5,410.4 L179.0,410.3 L179.5,410.3 L180.0,410.2 L180.5,410.2 L181.1,410.2 L181.6,410.1 L182.1,410.1 L182.6,410.1 L183.1,410.0 L183.6,410.0 L184.2,409.9 L184.7,409.9 L185.2,409.9 L185.7,409.8 L186.2,409.8 L186.7,409.8 L187.3,409.8 L187.8,409.7 L188.3,409.7 L188.8,409.7 L189.3,409.6 L189.8,409.6 L190.4,409.6 L190.9,409.5 L191.4,409.5 L191.9,409.5 L192.4,409.4 L192.9,409.4 L193.5,409.4 L194.0,409.4 L194.5,409.3 L195.0,409.3 L195.5,409.3 L196.0,409.2 L196.6,409.2 L197.1,409.2 L197.6,409.1 L198.1,409.1 L198.6,409.1 L199.1,409.0 L199.7,409.0 L200.2,409.0 L200.7,408.9 L201.2,408.9 L201.7,408.9 L202.2,408.8 L202.8,408.8 L203.3,408.8 L203.8,408.7 L204.3,408.7 L204.8,408.7 L205.3,408.6 L205.9,408.6 L206.4,408.6 L206.9,408.5 L207.4,408.5 L207.9,408.5 L208.4,408.5 L208.9,408.4 L209.5,408.4 L210.0,408.4 L210.5,408.4 L211.0,408.4 L211.5,408.4 L212.0,408.3 L212.6,408.3 L213.1,408.3 L213.6,408.3 L214.1,408.3 L214.6,408.3 L215.1,408.3 L215.7,408.2 L216.2,408.2 L216.7,408.2 L217.2,408.2 L217.7,408.2 L218.2,408.2 L218.8,408.2 L219.3,408.2 L219.8,408.1 L220.3,408.1 L220.8,408.1 L221.3,408.1 L221.9,408.1 L222.4,408.1 L222.9,408.1 L223.4,408.1 L223.9,408.1 L224.4,408.0 L225.0,408.0 L225.5,408.0 L226.0,408.0 L226.5,408.0 L227.0,408.0 L227.5,408.0 L228.1,408.0 L228.6,408.0 L229.1,408.0 L229.6,407.9 L230.1,407.9 L230.6,407.9 L231.2,407.9 L231.7,407.9 L232.2,407.9 L232.7,407.9 L233.2,407.9 L233.7,407.9 L234.3,407.9 L234.8,407.9 L235.3,407.8 L235.8,407.8 L236.3,407.8 L236.8,407.8 L237.4,407.8 L237.9,407.8 L238.4,407.8 L238.9,407.8 L239.4,407.8 L239.9,407.8 L240.5,407.8 L241.0,407.8 L241.5,407.8 L242.0,407.8 L242.5,407.7 L243.0,407.7 L243.6,407.7 L244.1,407.7 L244.6,407.7 L245.1,407.7 L245.6,407.7 L246.1,407.7 L246.7,407.7 L247.2,407.7 L247.7,407.7 L248.2,407.7 L248.7,407.7 L249.2,407.7 L249.8,407.7 L250.3,407.7 L250.8,407.6 L251.3,407.6 L251.8,407.6 L252.3,407.6 L252.9,407.6 L253.4,407.6 L253.9,407.6 L254.4,407.6 L254.9,407.6 L255.4,407.6 L256.0,407.6 L256.5,407.6 L257.0,407.6 L257.5,407.6 L258.0,407.6 L258.5,407.6 L259.1,407.6 L259.6,407.6 L260.1,407.6 L260.6,407.6 L261.1,407.5 L261.6,407.5 L262.2,407.5 L262.7,407.5 L263.2,407.5 L263.7,407.5 L264.2,407.5 L264.7,407.5 L265.3,407.5 L265.8,407.5 L266.3,407.5 L266.8,407.5 L267.3,407.5 L267.8,407.5 L268.4,407.5 L268.9,407.5 L269.4,407.5 L269.9,407.5 L270.4,407.5 L270.9,407.5 L271.5,407.4 L272.0,407.4 L272.5,407.4 L273.0,407.4 L273.5,407.4 L274.0,407.4 L274.6,407.4 L275.1,407.4 L275.6,407.4 L276.1,407.4 L276.6,407.4 L277.1,407.4 L277.7,407.4 L278.2,407.4 L278.7,407.4 L279.2,407.4 L279.7,407.4 L280.2,407.4 L280.8,407.4 L281.3,407.4 L281.8,407.4 L282.3,407.4 L282.8,407.3 L283.3,407.3 L283.9,407.3 L284.4,407.3 L284.9,407.3 L285.4,407.3 L285.9,407.3 L286.4,407.3 L287.0,407.3 L287.5,407.3 L288.0,407.3 L288.5,407.3 L289.0,407.3 L289.5,407.3 L290.1,407.3 L290.6,407.3 L291.1,407.3 L291.6,407.3 L292.1,407.3 L292.6,407.3 L293.2,407.3 L293.7,407.3 L294.2,407.3 L294.7,407.3 L295.2,407.2 L295.7,407.2 L296.3,407.2 L296.8,407.2 L297.3,407.2 L297.8,407.2 L298.3,407.2 L298.8,407.2 L299.4,407.2 L299.9,407.2 L300.4,407.2 L300.9,407.2 L301.4,407.2 L301.9,407.2 L302.5,407.2 L303.0,407.2 L303.5,407.2 L304.0,407.2 L304.5,407.2 L305.0,407.2 L305.6,407.2 L306.1,407.2 L306.6,407.2 L307.1,407.2 L307.6,407.2 L308.1,407.2 L308.7,407.2 L309.2,407.2 L309.7,407.2 L310.2,407.2 L310.7,407.2 L311.2,407.1 L311.8,407.1 L312.3,407.1 L312.8,407.1 L313.3,407.1 L313.8,407.1 L314.3,407.1 L314.9,407.1 L315.4,407.1 L315.9,407.1 L316.4,407.1 L316.9,407.1 L317.4,407.1 L318.0,407.1 L318.5,407.1 L319.0,407.1 L319.5,407.1 L320.0,407.1 L320.5,407.1 L321.1,407.1 L321.6,407.1 L322.1,407.1 L322.6,407.1 L323.1,407.1 L323.6,407.1 L324.2,407.1 L324.7,407.1 L325.2,407.1 L325.7,407.1 L326.2,407.1 L326.7,407.1 L327.3,407.1 L327.8,407.1 L328.3,407.1 L328.8,407.1 L329.3,407.1 L329.8,407.1 L330.4,407.1 L330.9,407.1 L331.4,407.1 L331.9,407.1 L332.4,407.1 L332.9,407.1 L333.5,407.1 L334.0,407.1 L334.5,407.1 L335.0,407.1" fill="none" stroke="#ff0000" stroke-width="3.9" stroke-dasharray="13.2 13" stroke-linejoin="round"/>
<path d="M76.7,472.7 L77.2,458.8 L77.7,451.5 L78.2,446.6 L78.8,442.9 L79.3,440.4 L79.8,438.4 L80.3,436.7 L80.8,435.1 L81.3,434.0 L81.9,433.4 L82.4,432.8 L82.9,432.4 L83.4,432.0 L83.9,431.7 L84.4,431.4 L85.0,431.2 L85.5,431.1 L86.0,431.0 L86.5,431.0 L87.0,430.9 L87.5,430.9 L88.1,430.9 L88.6,430.9 L89.1,430.9 L89.6,430.9 L90.1,430.8 L90.6,430.8 L91.2,430.8 L91.7,430.8 L92.2,430.8 L92.7,430.7 L93.2,430.7 L93.7,430.6 L94.3,430.6 L94.8,430.6 L95.3,430.5 L95.8,430.4 L96.3,430.4 L96.8,430.3 L97.4,430.3 L97.9,430.2 L98.4,430.1 L98.9,430.0 L99.4,429.9 L99.9,429.8 L100.5,429.7 L101.0,429.6 L101.5,429.4 L102.0,429.3 L102.5,429.1 L103.0,428.9 L103.6,428.8 L104.1,428.6 L104.6,428.4 L105.1,428.2 L105.6,428.1 L106.1,427.9 L106.7,427.7 L107.2,427.5 L107.7,427.3 L108.2,427.1 L108.7,426.9 L109.2,426.7 L109.8,426.5 L110.3,426.3 L110.8,426.1 L111.3,425.9 L111.8,425.6 L112.3,425.4 L112.9,425.2 L113.4,425.0 L113.9,424.8 L114.4,424.5 L114.9,424.3 L115.4,424.1 L116.0,423.9 L116.5,423.7 L117.0,423.5 L117.5,423.3 L118.0,423.1 L118.5,422.9 L119.1,422.7 L119.6,422.5 L120.1,422.3 L120.6,422.1 L121.1,421.9 L121.6,421.7 L122.2,421.5 L122.7,421.3 L123.2,421.1 L123.7,420.9 L124.2,420.7 L124.7,420.5 L125.3,420.3 L125.8,420.2 L126.3,420.0 L126.8,419.8 L127.3,419.6 L127.8,419.5 L128.4,419.3 L128.9,419.1 L129.4,419.0 L129.9,418.8 L130.4,418.6 L130.9,418.5 L131.5,418.3 L132.0,418.2 L132.5,418.0 L133.0,417.8 L133.5,417.7 L134.0,417.5 L134.6,417.4 L135.1,417.3 L135.6,417.1 L136.1,417.0 L136.6,416.9 L137.1,416.7 L137.7,416.6 L138.2,416.5 L138.7,416.4 L139.2,416.3 L139.7,416.2 L140.2,416.1 L140.8,416.0 L141.3,415.9 L141.8,415.8 L142.3,415.7 L142.8,415.7 L143.3,415.6 L143.9,415.5 L144.4,415.4 L144.9,415.4 L145.4,415.3 L145.9,415.2 L146.4,415.1 L147.0,415.0 L147.5,415.0 L148.0,414.9 L148.5,414.8 L149.0,414.7 L149.5,414.6 L150.1,414.5 L150.6,414.4 L151.1,414.4 L151.6,414.3 L152.1,414.2 L152.6,414.1 L153.2,414.0 L153.7,413.9 L154.2,413.8 L154.7,413.7 L155.2,413.6 L155.7,413.5 L156.3,413.4 L156.8,413.3 L157.3,413.2 L157.8,413.1 L158.3,413.0 L158.8,412.9 L159.4,412.8 L159.9,412.8 L160.4,412.7 L160.9,412.6 L161.4,412.5 L161.9,412.4 L162.5,412.4 L163.0,412.3 L163.5,412.2 L164.0,412.1 L164.5,412.1 L165.0,412.0 L165.6,411.9 L166.1,411.8 L166.6,411.8 L167.1,411.7 L167.6,411.6 L168.1,411.5 L168.7,411.5 L169.2,411.4 L169.7,411.3 L170.2,411.3 L170.7,411.2 L171.2,411.1 L171.8,411.1 L172.3,411.0 L172.8,410.9 L173.3,410.9 L173.8,410.8 L174.3,410.8 L174.9,410.7 L175.4,410.7 L175.9,410.6 L176.4,410.5 L176.9,410.5 L177.4,410.5 L178.0,410.4 L178.5,410.4 L179.0,410.3 L179.5,410.3 L180.0,410.2 L180.5,410.2 L181.1,410.2 L181.6,410.1 L182.1,410.1 L182.6,410.1 L183.1,410.0 L183.6,410.0 L184.2,409.9 L184.7,409.9 L185.2,409.9 L185.7,409.8 L186.2,409.8 L186.7,409.8 L187.3,409.8 L187.8,409.7 L188.3,409.7 L188.8,409.7 L189.3,409.6 L189.8,409.6 L190.4,409.6 L190.9,409.5 L191.4,409.5 L191.9,409.5 L192.4,409.4 L192.9,409.4 L193.5,409.4 L194.0,409.4 L194.5,409.3 L195.0,409.3 L195.5,409.3 L196.0,409.2 L196.6,409.2 L197.1,409.2 L197.6,409.1 L198.1,409.1 L198.6,409.1 L199.1,409.0 L199.7,409.0 L200.2,409.0 L200.7,408.9 L201.2,408.9 L201.7,408.9 L202.2,408.8 L202.8,408.8 L203.3,408.8 L203.8,408.7 L204.3,408.7 L204.8,408.7 L205.3,408.6 L205.9,408.6 L206.4,408.6 L206.9,408.5 L207.4,408.5 L207.9,408.5 L208.4,408.5 L208.9,408.4 L209.5,408.4 L210.0,408.4 L210.5,408.4 L211.0,408.4 L211.5,408.4 L212.0,408.3 L212.6,408.3 L213.1,408.3 L213.6,408.3 L214.1,408.3 L214.6,408.3 L215.1,408.3 L215.7,408.2 L216.2,408.2 L216.7,408.2 L217.2,408.2 L217.7,408.2 L218.2,408.2 L218.8,408.2 L219.3,408.2 L219.8,408.1 L220.3,408.1 L220.8,408.1 L221.3,408.1 L221.9,408.1 L222.4,408.1 L222.9,408.1 L223.4,408.1 L223.9,408.1 L224.4,408.0 L225.0,408.0 L225.5,408.0 L226.0,408.0 L226.5,408.0 L227.0,408.0 L227.5,408.0 L228.1,408.0 L228.6,408.0 L229.1,408.0 L229.6,407.9 L230.1,407.9 L230.6,407.9 L231.2,407.9 L231.7,407.9 L232.2,407.9 L232.7,407.9 L233.2,407.9 L233.7,407.9 L234.3,407.9 L234.8,407.9 L235.3,407.8 L235.8,407.8 L236.3,407.8 L236.8,407.8 L237.4,407.8 L237.9,407.8 L238.4,407.8 L238.9,407.8 L239.4,407.8 L239.9,407.8 L240.5,407.8 L241.0,407.8 L241.5,407.8 L242.0,407.8 L242.5,407.7 L243.0,407.7 L243.6,407.7 L244.1,407.7 L244.6,407.7 L245.1,407.7 L245.6,407.7 L246.1,407.7 L246.7,407.7 L247.2,407.7 L247.7,407.7 L248.2,407.7 L248.7,407.7 L249.2,407.7 L249.8,407.7 L250.3,407.7 L250.8,407.6 L251.3,407.6 L251.8,407.6 L252.3,407.6 L252.9,407.6 L253.4,407.6 L253.9,407.6 L254.4,407.6 L254.9,407.6 L255.4,407.6 L256.0,407.6 L256.5,407.6 L257.0,407.6 L257.5,407.6 L258.0,407.6 L258.5,407.6 L259.1,407.6 L259.6,407.6 L260.1,407.6 L260.6,407.6 L261.1,407.5 L261.6,407.5 L262.2,407.5 L262.7,407.5 L263.2,407.5 L263.7,407.5 L264.2,407.5 L264.7,407.5 L265.3,407.5 L265.8,407.5 L266.3,407.5 L266.8,407.5 L267.3,407.5 L267.8,407.5 L268.4,407.5 L268.9,407.5 L269.4,407.5 L269.9,407.5 L270.4,407.5 L270.9,407.5 L271.5,407.4 L272.0,407.4 L272.5,407.4 L273.0,407.4 L273.5,407.4 L274.0,407.4 L274.6,407.4 L275.1,407.4 L275.6,407.4 L276.1,407.4 L276.6,407.4 L277.1,407.4 L277.7,407.4 L278.2,407.4 L278.7,407.4 L279.2,407.4 L279.7,407.4 L280.2,407.4 L280.8,407.4 L281.3,407.4 L281.8,407.4 L282.3,407.4 L282.8,407.3 L283.3,407.3 L283.9,407.3 L284.4,407.3 L284.9,407.3 L285.4,407.3 L285.9,407.3 L286.4,407.3 L287.0,407.3 L287.5,407.3 L288.0,407.3 L288.5,407.3 L289.0,407.3 L289.5,407.3 L290.1,407.3 L290.6,407.3 L291.1,407.3 L291.6,407.3 L292.1,407.3 L292.6,407.3 L293.2,407.3 L293.7,407.3 L294.2,407.3 L294.7,407.3 L295.2,407.2 L295.7,407.2 L296.3,407.2 L296.8,407.2 L297.3,407.2 L297.8,407.2 L298.3,407.2 L298.8,407.2 L299.4,407.2 L299.9,407.2 L300.4,407.2 L300.9,407.2 L301.4,407.2 L301.9,407.2 L302.5,407.2 L303.0,407.2 L303.5,407.2 L304.0,407.2 L304.5,407.2 L305.0,407.2 L305.6,407.2 L306.1,407.2 L306.6,407.2 L307.1,407.2 L307.6,407.2 L308.1,407.2 L308.7,407.2 L309.2,407.2 L309.7,407.2 L310.2,407.2 L310.7,407.2 L311.2,407.1 L311.8,407.1 L312.3,407.1 L312.8,407.1 L313.3,407.1 L313.8,407.1 L314.3,407.1 L314.9,407.1 L315.4,407.1 L315.9,407.1 L316.4,407.1 L316.9,407.1 L317.4,407.1 L318.0,407.1 L318.5,407.1 L319.0,407.1 L319.5,407.1 L320.0,407.1 L320.5,407.1 L321.1,407.1 L321.6,407.1 L322.1,407.1 L322.6,407.1 L323.1,407.1 L323.6,407.1 L324.2,407.1 L324.7,407.1 L325.2,407.1 L325.7,407.1 L326.2,407.1 L326.7,407.1 L327.3,407.1 L327.8,407.1 L328.3,407.1 L328.8,407.1 L329.3,407.1 L329.8,407.1 L330.4,407.1 L330.9,407.1 L331.4,407.1 L331.9,407.1 L332.4,407.1 L332.9,407.1 L333.5,407.1 L334.0,407.1 L334.5,407.1 L335.0,407.1" fill="none" stroke="#000000" stroke-width="3.9" stroke-dasharray="3.4 3.3" stroke-linejoin="round"/>
</g>
<g clip-path="url(#cld)">
<path d="M416.7,379.8 L417.2,379.7 L417.7,379.2 L418.3,379.4 L418.8,379.6 L419.3,380.0 L419.8,380.1 L420.3,379.9 L420.8,379.8 L421.4,379.9 L421.9,380.2 L422.4,380.2 L422.9,380.6 L423.4,380.1 L424.0,380.1 L424.5,379.8 L425.0,379.7 L425.5,379.2 L426.0,379.0 L426.6,378.8 L427.1,378.7 L427.6,378.4 L428.1,378.0 L428.6,377.3 L429.1,377.0 L429.7,376.5 L430.2,377.0 L430.7,376.6 L431.2,376.7 L431.7,376.4 L432.3,376.2 L432.8,375.8 L433.3,375.7 L433.8,375.7 L434.3,376.2 L434.9,376.1 L435.4,376.2 L435.9,375.9 L436.4,376.0 L436.9,375.6 L437.4,376.2 L438.0,376.2 L438.5,376.4 L439.0,376.1 L439.5,376.2 L440.0,376.4 L440.6,376.6 L441.1,376.5 L441.6,375.9 L442.1,375.4 L442.6,375.7 L443.1,376.4 L443.7,376.7 L444.2,376.3 L444.7,376.3 L445.2,376.4 L445.7,376.4 L446.3,376.1 L446.8,376.0 L447.3,376.4 L447.8,376.9 L448.3,377.0 L448.9,377.3 L449.4,376.8 L449.9,376.8 L450.4,376.3 L450.9,376.1 L451.4,375.8 L452.0,376.1 L452.5,376.3 L453.0,376.4 L453.5,376.3 L454.0,376.7 L454.6,377.0 L455.1,377.2 L455.6,376.7 L456.1,377.2 L456.6,377.2 L457.2,377.5 L457.7,377.2 L458.2,376.9 L458.7,376.9 L459.2,376.9 L459.7,376.8 L460.3,377.3 L460.8,377.3 L461.3,377.7 L461.8,377.3 L462.3,377.3 L462.9,377.4 L463.4,377.6 L463.9,377.6 L464.4,377.4 L464.9,377.5 L465.4,377.3 L466.0,377.0 L466.5,377.2 L467.0,377.6 L467.5,377.7 L468.0,377.3 L468.6,377.4 L469.1,378.0 L469.6,378.3 L470.1,378.5 L470.6,378.6 L471.2,378.4 L471.7,378.6 L472.2,378.6 L472.7,379.1 L473.2,379.1 L473.7,379.3 L474.3,379.1 L474.8,379.0 L475.3,378.8 L475.8,378.7 L476.3,378.9 L476.9,379.0 L477.4,379.2 L477.9,379.4 L478.4,379.2 L478.9,379.4 L479.5,379.1 L480.0,379.2 L480.5,379.2 L481.0,379.5 L481.5,379.7 L482.0,379.5 L482.6,379.6 L483.1,379.2 L483.6,379.4 L484.1,379.7 L484.6,380.1 L485.2,380.3 L485.7,379.9 L486.2,379.5 L486.7,379.0 L487.2,379.3 L487.7,379.6 L488.3,379.4 L488.8,379.1 L489.3,378.9 L489.8,379.1 L490.3,378.6 L490.9,378.4 L491.4,378.6 L491.9,379.0 L492.4,379.1 L492.9,379.3 L493.5,379.6 L494.0,379.7 L494.5,379.7 L495.0,379.5 L495.5,379.5 L496.0,378.9 L496.6,379.0 L497.1,379.1 L497.6,379.6 L498.1,379.3 L498.6,379.1 L499.2,379.2 L499.7,379.4 L500.2,380.0 L500.7,380.0 L501.2,379.8 L501.8,379.4 L502.3,379.5 L502.8,379.6 L503.3,379.6 L503.8,379.3 L504.3,379.4 L504.9,379.5 L505.4,379.9 L505.9,380.0 L506.4,379.7 L506.9,379.7 L507.5,379.6 L508.0,379.8 L508.5,379.5 L509.0,379.6 L509.5,379.6 L510.0,379.6 L510.6,379.4 L511.1,379.8 L511.6,379.8 L512.1,380.0 L512.6,379.7 L513.2,379.6 L513.7,379.3 L514.2,379.1 L514.7,379.2 L515.2,379.1 L515.8,379.1 L516.3,378.8 L516.8,378.7 L517.3,378.9 L517.8,379.2 L518.3,379.3 L518.9,379.6 L519.4,379.5 L519.9,379.8 L520.4,379.6 L520.9,379.9 L521.5,380.0 L522.0,380.0 L522.5,379.4 L523.0,379.1 L523.5,379.1 L524.1,379.3 L524.6,379.6 L525.1,379.6 L525.6,379.6 L526.1,379.3 L526.6,379.0 L527.2,379.0 L527.7,379.4 L528.2,379.9 L528.7,380.2 L529.2,380.1 L529.8,379.7 L530.3,379.4 L530.8,379.4 L531.3,379.6 L531.8,379.4 L532.3,379.1 L532.9,379.4 L533.4,379.7 L533.9,379.6 L534.4,379.3 L534.9,379.0 L535.5,378.9 L536.0,378.7 L536.5,378.7 L537.0,378.8 L537.5,379.4 L538.1,379.7 L538.6,379.7 L539.1,379.5 L539.6,379.3 L540.1,379.4 L540.6,379.5 L541.2,379.4 L541.7,379.2 L542.2,379.0 L542.7,379.1 L543.2,379.0 L543.8,379.0 L544.3,379.7 L544.8,380.0 L545.3,380.2 L545.8,379.9 L546.4,379.7 L546.9,379.4 L547.4,379.3 L547.9,379.6 L548.4,379.4 L548.9,379.4 L549.5,379.4 L550.0,379.8 L550.5,379.6 L551.0,379.5 L551.5,379.4 L552.1,379.6 L552.6,379.6 L553.1,379.7 L553.6,379.5 L554.1,379.4 L554.6,379.4 L555.2,379.6 L555.7,378.9 L556.2,379.1 L556.7,378.8 L557.2,379.4 L557.8,379.3 L558.3,379.4 L558.8,379.2 L559.3,378.9 L559.8,379.0 L560.4,379.3 L560.9,379.7 L561.4,379.6 L561.9,379.4 L562.4,379.0 L562.9,379.0 L563.5,378.9 L564.0,378.9 L564.5,379.0 L565.0,379.5 L565.5,380.0 L566.1,380.3 L566.6,379.7 L567.1,379.6 L567.6,379.1 L568.1,379.3 L568.6,378.8 L569.2,378.8 L569.7,379.0 L570.2,379.4 L570.7,379.5 L571.2,379.5 L571.8,379.6 L572.3,379.6 L572.8,379.3 L573.3,379.5 L573.8,379.5 L574.4,380.0 L574.9,379.6 L575.4,379.5 L575.9,379.3 L576.4,379.2 L576.9,379.7 L577.5,379.5 L578.0,379.7 L578.5,379.3 L579.0,379.5 L579.5,379.9 L580.1,380.1 L580.6,380.1 L581.1,379.3 L581.6,379.1 L582.1,379.1 L582.7,379.7 L583.2,379.5 L583.7,379.2 L584.2,378.9 L584.7,379.2 L585.2,379.9 L585.8,379.7 L586.3,379.1 L586.8,378.7 L587.3,378.6 L587.8,379.0 L588.4,379.4 L588.9,379.3 L589.4,379.7 L589.9,379.5 L590.4,379.8 L590.9,379.3 L591.5,379.2 L592.0,379.2 L592.5,379.5 L593.0,379.9 L593.5,379.9 L594.1,379.9 L594.6,379.9 L595.1,380.2 L595.6,380.1 L596.1,380.2 L596.7,380.3 L597.2,380.5 L597.7,380.1 L598.2,379.7 L598.7,379.0 L599.2,379.3 L599.8,379.6 L600.3,379.8 L600.8,379.5 L601.3,379.5 L601.8,379.3 L602.4,379.3 L602.9,379.5 L603.4,380.1 L603.9,380.0 L604.4,379.7 L605.0,379.7 L605.5,379.9 L606.0,379.9 L606.5,379.5 L607.0,379.4 L607.5,379.4 L608.1,379.4 L608.6,379.7 L609.1,379.8 L609.6,379.9 L610.1,379.6 L610.7,380.0 L611.2,380.1 L611.7,379.9 L612.2,379.1 L612.7,379.5 L613.2,379.1 L613.8,379.7 L614.3,379.1 L614.8,379.3 L615.3,378.9 L615.8,379.1 L616.4,379.5 L616.9,379.6 L617.4,379.8 L617.9,380.1 L618.4,379.6 L619.0,379.3 L619.5,378.5 L620.0,379.2 L620.5,379.1 L621.0,379.1 L621.5,378.6 L622.1,378.9 L622.6,379.5 L623.1,379.8 L623.6,380.3 L624.1,380.4 L624.7,380.3 L625.2,380.1 L625.7,379.8 L626.2,379.8 L626.7,379.2 L627.3,378.9 L627.8,378.9 L628.3,379.1 L628.8,379.5 L629.3,379.5 L629.8,379.6 L630.4,379.7 L630.9,379.7 L631.4,380.1 L631.9,379.8 L632.4,379.5 L633.0,379.3 L633.5,379.3 L634.0,379.8 L634.5,379.9 L635.0,380.2 L635.5,379.7 L636.1,379.0 L636.6,378.7 L637.1,379.1 L637.6,379.5 L638.1,379.6 L638.7,379.3 L639.2,379.4 L639.7,379.3 L640.2,379.3 L640.7,379.5 L641.3,379.6 L641.8,380.1 L642.3,380.1 L642.8,380.3 L643.3,379.9 L643.8,380.0 L644.4,379.7 L644.9,379.6 L645.4,379.7 L645.9,379.9 L646.4,380.2 L647.0,379.7 L647.5,379.2 L648.0,378.9 L648.5,379.1 L649.0,379.2 L649.6,379.6 L650.1,379.3 L650.6,379.7 L651.1,379.9 L651.6,379.7 L652.1,379.3 L652.7,378.9 L653.2,379.4 L653.7,379.8 L654.2,379.5 L654.7,379.9 L655.3,380.0 L655.8,379.9 L656.3,379.5 L656.8,379.2 L657.3,379.3 L657.8,378.8 L658.4,379.2 L658.9,379.2 L659.4,380.0 L659.9,380.1 L660.4,379.9 L661.0,379.7 L661.5,379.4 L662.0,379.6 L662.5,379.7 L663.0,379.8 L663.6,379.9 L664.1,379.8 L664.6,379.6 L665.1,379.4 L665.6,379.4 L666.1,379.7 L666.7,379.8 L667.2,379.7 L667.7,379.3 L668.2,378.8 L668.7,378.7 L669.3,378.9 L669.8,379.4 L670.3,379.8 L670.8,379.9 L671.3,380.1 L671.9,380.0 L672.4,379.9 L672.9,379.6 L673.4,379.6 L673.9,379.5 L674.4,379.9 L675.0,379.5 L675.5,379.4 L676.0,379.0" fill="none" stroke="#0000ff" stroke-width="3.9" stroke-linejoin="round"/>
<path d="M416.7,379.5 L417.2,379.7 L417.7,379.8 L418.3,379.7 L418.8,379.9 L419.3,379.9 L419.8,379.7 L420.3,379.7 L420.8,379.9 L421.4,379.7 L421.9,379.8 L422.4,379.9 L422.9,380.1 L423.4,380.2 L424.0,380.4 L424.5,380.3 L425.0,380.3 L425.5,380.2 L426.0,380.2 L426.6,380.0 L427.1,379.8 L427.6,379.8 L428.1,379.8 L428.6,379.7 L429.1,379.8 L429.7,379.9 L430.2,380.1 L430.7,380.0 L431.2,379.7 L431.7,379.9 L432.3,379.8 L432.8,379.6 L433.3,379.7 L433.8,379.9 L434.3,379.8 L434.9,379.9 L435.4,379.7 L435.9,379.7 L436.4,379.9 L436.9,379.8 L437.4,379.8 L438.0,379.8 L438.5,379.9 L439.0,379.7 L439.5,379.9 L440.0,379.7 L440.6,379.9 L441.1,380.1 L441.6,380.1 L442.1,380.1 L442.6,380.2 L443.1,380.1 L443.7,379.9 L444.2,380.0 L444.7,379.7 L445.2,379.7 L445.7,379.7 L446.3,379.5 L446.8,379.5 L447.3,379.6 L447.8,379.5 L448.3,379.6 L448.9,379.6 L449.4,379.5 L449.9,379.5 L450.4,379.7 L450.9,379.6 L451.4,379.6 L452.0,379.7 L452.5,379.7 L453.0,379.6 L453.5,379.7 L454.0,379.7 L454.6,379.6 L455.1,379.6 L455.6,379.8 L456.1,380.0 L456.6,379.9 L457.2,379.9 L457.7,379.8 L458.2,379.5 L458.7,379.3 L459.2,379.4 L459.7,379.1 L460.3,379.1 L460.8,379.3 L461.3,379.3 L461.8,379.2 L462.3,379.5 L462.9,379.6 L463.4,379.5 L463.9,379.8 L464.4,379.9 L464.9,379.8 L465.4,379.9 L466.0,380.0 L466.5,379.8 L467.0,379.8 L467.5,379.8 L468.0,379.9 L468.6,379.6 L469.1,379.7 L469.6,379.7 L470.1,379.6 L470.6,379.6 L471.2,379.7 L471.7,379.5 L472.2,379.5 L472.7,379.6 L473.2,379.5 L473.7,379.4 L474.3,379.7 L474.8,379.8 L475.3,379.8 L475.8,380.0 L476.3,380.2 L476.9,380.0 L477.4,379.9 L477.9,379.9 L478.4,379.8 L478.9,379.6 L479.5,379.6 L480.0,379.6 L480.5,379.4 L481.0,379.4 L481.5,379.5 L482.0,379.4 L482.6,379.5 L483.1,379.7 L483.6,379.6 L484.1,379.6 L484.6,379.6 L485.2,379.4 L485.7,379.5 L486.2,379.6 L486.7,379.6 L487.2,379.7 L487.7,379.8 L488.3,379.6 L488.8,379.6 L489.3,379.6 L489.8,379.5 L490.3,379.5 L490.9,379.7 L491.4,379.6 L491.9,379.3 L492.4,379.3 L492.9,379.1 L493.5,379.1 L494.0,379.1 L494.5,379.4 L495.0,379.5 L495.5,379.6 L496.0,379.7 L496.6,379.9 L497.1,379.7 L497.6,379.7 L498.1,379.8 L498.6,379.8 L499.2,379.6 L499.7,379.6 L500.2,379.7 L500.7,379.8 L501.2,379.7 L501.8,379.7 L502.3,379.8 L502.8,379.7 L503.3,379.7 L503.8,379.7 L504.3,379.6 L504.9,379.7 L505.4,379.5 L505.9,379.3 L506.4,379.3 L506.9,379.4 L507.5,379.4 L508.0,379.8 L508.5,380.0 L509.0,380.0 L509.5,380.1 L510.0,380.0 L510.6,379.8 L511.1,379.9 L511.6,379.8 L512.1,379.9 L512.6,379.9 L513.2,380.0 L513.7,379.9 L514.2,380.0 L514.7,380.0 L515.2,379.9 L515.8,379.8 L516.3,379.7 L516.8,379.6 L517.3,379.6 L517.8,379.7 L518.3,379.7 L518.9,380.0 L519.4,379.8 L519.9,379.7 L520.4,379.7 L520.9,379.7 L521.5,379.4 L522.0,379.5 L522.5,379.4 L523.0,379.3 L523.5,379.2 L524.1,379.2 L524.6,379.2 L525.1,379.2 L525.6,379.2 L526.1,379.3 L526.6,379.5 L527.2,379.5 L527.7,379.6 L528.2,379.7 L528.7,379.7 L529.2,379.5 L529.8,379.5 L530.3,379.8 L530.8,379.7 L531.3,379.7 L531.8,379.8 L532.3,379.8 L532.9,379.8 L533.4,379.7 L533.9,379.9 L534.4,379.7 L534.9,379.9 L535.5,379.6 L536.0,379.7 L536.5,379.5 L537.0,379.7 L537.5,379.6 L538.1,379.4 L538.6,379.5 L539.1,379.6 L539.6,379.6 L540.1,379.6 L540.6,379.7 L541.2,379.5 L541.7,379.5 L542.2,379.6 L542.7,379.4 L543.2,379.4 L543.8,379.5 L544.3,379.3 L544.8,379.2 L545.3,379.3 L545.8,379.6 L546.4,379.8 L546.9,379.8 L547.4,379.8 L547.9,379.6 L548.4,379.4 L548.9,379.3 L549.5,379.4 L550.0,379.1 L550.5,379.3 L551.0,379.4 L551.5,379.3 L552.1,379.3 L552.6,379.5 L553.1,379.6 L553.6,379.4 L554.1,379.4 L554.6,379.7 L555.2,379.7 L555.7,379.7 L556.2,379.7 L556.7,379.7 L557.2,379.5 L557.8,379.4 L558.3,379.5 L558.8,379.5 L559.3,379.4 L559.8,379.5 L560.4,379.4 L560.9,379.3 L561.4,379.5 L561.9,379.5 L562.4,379.6 L562.9,379.9 L563.5,379.8 L564.0,379.7 L564.5,379.9 L565.0,379.9 L565.5,379.8 L566.1,380.0 L566.6,380.0 L567.1,379.9 L567.6,380.0 L568.1,379.8 L568.6,379.8 L569.2,379.9 L569.7,379.9 L570.2,379.6 L570.7,379.9 L571.2,379.6 L571.8,379.5 L572.3,379.6 L572.8,379.6 L573.3,379.3 L573.8,379.5 L574.4,379.3 L574.9,379.4 L575.4,379.3 L575.9,379.5 L576.4,379.5 L576.9,379.4 L577.5,379.3 L578.0,379.4 L578.5,379.1 L579.0,379.1 L579.5,379.3 L580.1,379.3 L580.6,379.4 L581.1,379.5 L581.6,379.4 L582.1,379.4 L582.7,379.6 L583.2,379.4 L583.7,379.5 L584.2,379.7 L584.7,379.6 L585.2,379.8 L585.8,379.8 L586.3,379.9 L586.8,379.8 L587.3,379.8 L587.8,379.8 L588.4,379.6 L588.9,379.6 L589.4,379.7 L589.9,379.8 L590.4,379.8 L590.9,379.8 L591.5,379.9 L592.0,379.9 L592.5,379.6 L593.0,379.4 L593.5,379.3 L594.1,379.2 L594.6,379.3 L595.1,379.3 L595.6,379.4 L596.1,379.4 L596.7,379.4 L597.2,379.2 L597.7,379.2 L598.2,379.2 L598.7,379.2 L599.2,379.2 L599.8,379.3 L600.3,379.3 L600.8,379.3 L601.3,379.4 L601.8,379.3 L602.4,379.3 L602.9,379.2 L603.4,379.4 L603.9,379.3 L604.4,379.3 L605.0,379.3 L605.5,379.5 L606.0,379.6 L606.5,379.6 L607.0,379.6 L607.5,379.5 L608.1,379.3 L608.6,379.4 L609.1,379.3 L609.6,379.4 L610.1,379.3 L610.7,379.4 L611.2,379.3 L611.7,379.3 L612.2,379.5 L612.7,379.6 L613.2,379.6 L613.8,379.9 L614.3,379.9 L614.8,379.7 L615.3,379.7 L615.8,379.8 L616.4,379.5 L616.9,379.5 L617.4,379.5 L617.9,379.3 L618.4,379.2 L619.0,379.3 L619.5,379.3 L620.0,379.4 L620.5,379.6 L621.0,379.5 L621.5,379.5 L622.1,379.4 L622.6,379.5 L623.1,379.5 L623.6,379.4 L624.1,379.6 L624.7,379.7 L625.2,379.7 L625.7,379.7 L626.2,379.8 L626.7,379.7 L627.3,379.5 L627.8,379.3 L628.3,379.2 L628.8,379.2 L629.3,379.0 L629.8,379.1 L630.4,379.3 L630.9,379.3 L631.4,379.2 L631.9,379.3 L632.4,379.4 L633.0,379.1 L633.5,379.3 L634.0,379.2 L634.5,379.5 L635.0,379.3 L635.5,379.5 L636.1,379.4 L636.6,379.4 L637.1,379.2 L637.6,379.5 L638.1,379.5 L638.7,379.6 L639.2,379.7 L639.7,379.8 L640.2,379.8 L640.7,379.8 L641.3,379.7 L641.8,379.8 L642.3,379.7 L642.8,379.5 L643.3,379.7 L643.8,379.6 L644.4,379.6 L644.9,379.6 L645.4,379.8 L645.9,379.7 L646.4,379.8 L647.0,379.6 L647.5,379.7 L648.0,379.6 L648.5,379.6 L649.0,379.5 L649.6,379.7 L650.1,379.6 L650.6,379.6 L651.1,379.7 L651.6,379.5 L652.1,379.3 L652.7,379.4 L653.2,379.5 L653.7,379.4 L654.2,379.3 L654.7,379.5 L655.3,379.5 L655.8,379.5 L656.3,379.7 L656.8,380.0 L657.3,379.9 L657.8,379.9 L658.4,380.0 L658.9,379.9 L659.4,379.8 L659.9,379.8 L660.4,379.6 L661.0,379.4 L661.5,379.5 L662.0,379.4 L662.5,379.5 L663.0,379.4 L663.6,379.4 L664.1,379.5 L664.6,379.5 L665.1,379.4 L665.6,379.5 L666.1,379.4 L666.7,379.1 L667.2,379.2 L667.7,379.2 L668.2,379.4 L668.7,379.6 L669.3,379.7 L669.8,379.4 L670.3,379.4 L670.8,379.4 L671.3,379.5 L671.9,379.5 L672.4,379.9 L672.9,380.0 L673.4,379.9 L673.9,379.8 L674.4,379.8 L675.0,379.7 L675.5,379.7 L676.0,379.8" fill="none" stroke="#ff0000" stroke-width="3.9" stroke-dasharray="13.2 13" stroke-linejoin="round"/>
<path d="M416.7,379.1 L417.2,379.1 L417.7,379.1 L418.3,379.1 L418.8,379.1 L419.3,379.1 L419.8,379.1 L420.3,379.1 L420.8,379.1 L421.4,379.1 L421.9,379.1 L422.4,379.1 L422.9,379.1 L423.4,379.1 L424.0,379.1 L424.5,379.1 L425.0,379.1 L425.5,379.1 L426.0,379.1 L426.6,379.1 L427.1,379.1 L427.6,379.1 L428.1,379.1 L428.6,379.1 L429.1,379.1 L429.7,379.1 L430.2,379.1 L430.7,379.1 L431.2,379.1 L431.7,379.1 L432.3,379.1 L432.8,379.1 L433.3,379.1 L433.8,379.1 L434.3,379.1 L434.9,379.1 L435.4,379.1 L435.9,379.1 L436.4,379.1 L436.9,379.1 L437.4,379.1 L438.0,379.1 L438.5,379.1 L439.0,379.1 L439.5,379.1 L440.0,379.1 L440.6,379.1 L441.1,379.1 L441.6,379.1 L442.1,379.1 L442.6,379.1 L443.1,379.1 L443.7,379.1 L444.2,379.1 L444.7,379.1 L445.2,379.1 L445.7,379.1 L446.3,379.1 L446.8,379.1 L447.3,379.1 L447.8,379.1" fill="none" stroke="#000000" stroke-width="3.9" stroke-linejoin="round"/>
<path d="M447.8,379.1 L448.3,379.1 L448.9,379.1 L449.4,379.1 L449.9,379.1 L450.4,379.1 L450.9,379.1 L451.4,379.1 L452.0,379.1 L452.5,379.1 L453.0,379.1 L453.5,379.1 L454.0,379.1 L454.6,379.1 L455.1,379.1 L455.6,379.2 L456.1,379.2 L456.6,379.2 L457.2,379.2 L457.7,379.2 L458.2,379.2 L458.7,379.2 L459.2,379.2 L459.7,379.2 L460.3,379.2 L460.8,379.2 L461.3,379.2 L461.8,379.2 L462.3,379.2 L462.9,379.2 L463.4,379.3 L463.9,379.3 L464.4,379.3 L464.9,379.3 L465.4,379.3 L466.0,379.3 L466.5,379.3 L467.0,379.3 L467.5,379.3 L468.0,379.3 L468.6,379.3 L469.1,379.3 L469.6,379.3 L470.1,379.3 L470.6,379.3 L471.2,379.3 L471.7,379.3 L472.2,379.3 L472.7,379.3 L473.2,379.3 L473.7,379.3 L474.3,379.3 L474.8,379.3 L475.3,379.4 L475.8,379.4 L476.3,379.4 L476.9,379.4 L477.4,379.4 L477.9,379.4 L478.4,379.4 L478.9,379.4 L479.5,379.4 L480.0,379.4 L480.5,379.4 L481.0,379.4 L481.5,379.4 L482.0,379.4 L482.6,379.4 L483.1,379.4 L483.6,379.4 L484.1,379.4 L484.6,379.4 L485.2,379.4 L485.7,379.4 L486.2,379.4 L486.7,379.4 L487.2,379.4 L487.7,379.4 L488.3,379.4 L488.8,379.4 L489.3,379.4 L489.8,379.4 L490.3,379.4 L490.9,379.4 L491.4,379.4 L491.9,379.4 L492.4,379.4 L492.9,379.4 L493.5,379.4 L494.0,379.5 L494.5,379.5 L495.0,379.5 L495.5,379.5 L496.0,379.5 L496.6,379.5 L497.1,379.5 L497.6,379.5 L498.1,379.5 L498.6,379.5 L499.2,379.5 L499.7,379.5 L500.2,379.5 L500.7,379.5 L501.2,379.5 L501.8,379.5 L502.3,379.5 L502.8,379.5 L503.3,379.5 L503.8,379.5 L504.3,379.5 L504.9,379.5 L505.4,379.5 L505.9,379.5 L506.4,379.5 L506.9,379.5 L507.5,379.5 L508.0,379.5 L508.5,379.5 L509.0,379.5 L509.5,379.5 L510.0,379.5 L510.6,379.5 L511.1,379.5 L511.6,379.5 L512.1,379.5 L512.6,379.5 L513.2,379.5 L513.7,379.5 L514.2,379.5 L514.7,379.5 L515.2,379.5 L515.8,379.5 L516.3,379.5 L516.8,379.5 L517.3,379.5 L517.8,379.5 L518.3,379.5 L518.9,379.5 L519.4,379.5 L519.9,379.5 L520.4,379.5 L520.9,379.5 L521.5,379.5 L522.0,379.5 L522.5,379.5 L523.0,379.5 L523.5,379.5 L524.1,379.5 L524.6,379.5 L525.1,379.5 L525.6,379.5 L526.1,379.5 L526.6,379.5 L527.2,379.5 L527.7,379.5 L528.2,379.5 L528.7,379.5 L529.2,379.5 L529.8,379.5 L530.3,379.5 L530.8,379.5 L531.3,379.5 L531.8,379.5 L532.3,379.5 L532.9,379.5 L533.4,379.5 L533.9,379.5 L534.4,379.5 L534.9,379.5 L535.5,379.5 L536.0,379.5 L536.5,379.5 L537.0,379.5 L537.5,379.5 L538.1,379.5 L538.6,379.5 L539.1,379.5 L539.6,379.5 L540.1,379.5 L540.6,379.5 L541.2,379.5 L541.7,379.5 L542.2,379.5 L542.7,379.5 L543.2,379.5 L543.8,379.5 L544.3,379.5 L544.8,379.5 L545.3,379.5 L545.8,379.5 L546.4,379.5 L546.9,379.5 L547.4,379.5 L547.9,379.5 L548.4,379.5 L548.9,379.5 L549.5,379.5 L550.0,379.5 L550.5,379.5 L551.0,379.5 L551.5,379.5 L552.1,379.5 L552.6,379.5 L553.1,379.5 L553.6,379.5 L554.1,379.5 L554.6,379.5 L555.2,379.5 L555.7,379.5 L556.2,379.5 L556.7,379.5 L557.2,379.5 L557.8,379.5 L558.3,379.5 L558.8,379.5 L559.3,379.5 L559.8,379.5 L560.4,379.5 L560.9,379.5 L561.4,379.5 L561.9,379.5 L562.4,379.5 L562.9,379.5 L563.5,379.5 L564.0,379.5 L564.5,379.5 L565.0,379.5 L565.5,379.5 L566.1,379.5 L566.6,379.5 L567.1,379.5 L567.6,379.5 L568.1,379.5 L568.6,379.5 L569.2,379.5 L569.7,379.5 L570.2,379.5 L570.7,379.5 L571.2,379.5 L571.8,379.5 L572.3,379.5 L572.8,379.5 L573.3,379.5 L573.8,379.5 L574.4,379.5 L574.9,379.5 L575.4,379.5 L575.9,379.5 L576.4,379.5 L576.9,379.5 L577.5,379.5 L578.0,379.5 L578.5,379.5 L579.0,379.5 L579.5,379.5 L580.1,379.5 L580.6,379.5 L581.1,379.5 L581.6,379.5 L582.1,379.5 L582.7,379.5 L583.2,379.5 L583.7,379.5 L584.2,379.5 L584.7,379.5 L585.2,379.5 L585.8,379.5 L586.3,379.5 L586.8,379.5 L587.3,379.5 L587.8,379.5 L588.4,379.5 L588.9,379.5 L589.4,379.5 L589.9,379.5 L590.4,379.5 L590.9,379.5 L591.5,379.5 L592.0,379.5 L592.5,379.5 L593.0,379.5 L593.5,379.5 L594.1,379.5 L594.6,379.5 L595.1,379.5 L595.6,379.5 L596.1,379.5 L596.7,379.5 L597.2,379.5 L597.7,379.5 L598.2,379.5 L598.7,379.5 L599.2,379.5 L599.8,379.5 L600.3,379.5 L600.8,379.5 L601.3,379.5 L601.8,379.5 L602.4,379.5 L602.9,379.5 L603.4,379.5 L603.9,379.5 L604.4,379.5 L605.0,379.5 L605.5,379.5 L606.0,379.5 L606.5,379.5 L607.0,379.5 L607.5,379.5 L608.1,379.5 L608.6,379.5 L609.1,379.5 L609.6,379.5 L610.1,379.5 L610.7,379.5 L611.2,379.5 L611.7,379.5 L612.2,379.5 L612.7,379.5 L613.2,379.5 L613.8,379.5 L614.3,379.5 L614.8,379.5 L615.3,379.5 L615.8,379.5 L616.4,379.5 L616.9,379.5 L617.4,379.5 L617.9,379.5 L618.4,379.5 L619.0,379.5 L619.5,379.5 L620.0,379.5 L620.5,379.5 L621.0,379.5 L621.5,379.5 L622.1,379.5 L622.6,379.5 L623.1,379.5 L623.6,379.5 L624.1,379.5 L624.7,379.5 L625.2,379.5 L625.7,379.5 L626.2,379.5 L626.7,379.5 L627.3,379.5 L627.8,379.5 L628.3,379.5 L628.8,379.5 L629.3,379.5 L629.8,379.5 L630.4,379.5 L630.9,379.5 L631.4,379.5 L631.9,379.5 L632.4,379.5 L633.0,379.5 L633.5,379.5 L634.0,379.5 L634.5,379.5 L635.0,379.5 L635.5,379.5 L636.1,379.5 L636.6,379.5 L637.1,379.5 L637.6,379.5 L638.1,379.5 L638.7,379.5 L639.2,379.5 L639.7,379.5 L640.2,379.5 L640.7,379.5 L641.3,379.5 L641.8,379.5 L642.3,379.5 L642.8,379.5 L643.3,379.5 L643.8,379.5 L644.4,379.5 L644.9,379.5 L645.4,379.5 L645.9,379.5 L646.4,379.5 L647.0,379.5 L647.5,379.5 L648.0,379.5 L648.5,379.5 L649.0,379.5 L649.6,379.5 L650.1,379.5 L650.6,379.5 L651.1,379.5 L651.6,379.5 L652.1,379.5 L652.7,379.5 L653.2,379.5 L653.7,379.5 L654.2,379.5 L654.7,379.5 L655.3,379.5 L655.8,379.5 L656.3,379.5 L656.8,379.5 L657.3,379.5 L657.8,379.5 L658.4,379.5 L658.9,379.5 L659.4,379.5 L659.9,379.5 L660.4,379.5 L661.0,379.5 L661.5,379.5 L662.0,379.5 L662.5,379.5 L663.0,379.5 L663.6,379.5 L664.1,379.5 L664.6,379.5 L665.1,379.5 L665.6,379.5 L666.1,379.5 L666.7,379.5 L667.2,379.5 L667.7,379.5 L668.2,379.5 L668.7,379.5 L669.3,379.5 L669.8,379.5 L670.3,379.5 L670.8,379.5 L671.3,379.5 L671.9,379.5 L672.4,379.5 L672.9,379.5 L673.4,379.5 L673.9,379.5 L674.4,379.5 L675.0,379.5 L675.5,379.5 L676.0,379.6" fill="none" stroke="#000000" stroke-width="3.9" stroke-dasharray="3.4 3.3" stroke-linejoin="round"/>
<path d="M416.7,313.2 L417.2,313.2 L417.7,313.2 L418.3,313.3 L418.8,313.4 L419.3,313.4 L419.8,313.5 L420.3,313.6 L420.8,313.8 L421.4,313.9 L421.9,314.1 L422.4,314.3 L422.9,314.6 L423.4,314.9 L424.0,315.2 L424.5,315.6 L425.0,316.0 L425.5,316.5 L426.0,317.0 L426.6,317.5 L427.1,318.0 L427.6,318.6 L428.1,319.1 L428.6,319.7 L429.1,320.3 L429.7,321.0 L430.2,321.7 L430.7,322.4 L431.2,323.2 L431.7,324.0 L432.3,324.8 L432.8,325.6 L433.3,326.5 L433.8,327.3 L434.3,328.2 L434.9,329.0 L435.4,329.9 L435.9,330.8 L436.4,331.8 L436.9,332.8 L437.4,333.8 L438.0,334.8 L438.5,335.8 L439.0,336.7 L439.5,337.7 L440.0,338.6 L440.6,339.5 L441.1,340.3 L441.6,341.2 L442.1,342.0 L442.6,342.9 L443.1,343.7 L443.7,344.5 L444.2,345.3 L444.7,346.0 L445.2,346.8 L445.7,347.5 L446.3,348.2 L446.8,348.9 L447.3,349.5 L447.8,350.1 L448.3,350.6 L448.9,351.2 L449.4,351.7 L449.9,352.3 L450.4,352.8 L450.9,353.3 L451.4,353.7 L452.0,354.2 L452.5,354.7 L453.0,355.1 L453.5,355.5 L454.0,356.0 L454.6,356.4 L455.1,356.8 L455.6,357.1 L456.1,357.5 L456.6,357.9 L457.2,358.2 L457.7,358.5 L458.2,358.9 L458.7,359.2 L459.2,359.5 L459.7,359.8 L460.3,360.1 L460.8,360.4 L461.3,360.7 L461.8,361.0 L462.3,361.3 L462.9,361.6 L463.4,361.9 L463.9,362.1 L464.4,362.4 L464.9,362.6 L465.4,362.9 L466.0,363.1 L466.5,363.3 L467.0,363.5 L467.5,363.8 L468.0,363.9 L468.6,364.1 L469.1,364.3 L469.6,364.5 L470.1,364.6 L470.6,364.8 L471.2,365.0 L471.7,365.1 L472.2,365.3 L472.7,365.4 L473.2,365.6 L473.7,365.7 L474.3,365.8 L474.8,366.0 L475.3,366.1 L475.8,366.2 L476.3,366.4 L476.9,366.5 L477.4,366.6 L477.9,366.7 L478.4,366.8 L478.9,367.0 L479.5,367.1 L480.0,367.2 L480.5,367.3 L481.0,367.4 L481.5,367.5 L482.0,367.6 L482.6,367.6 L483.1,367.7 L483.6,367.8 L484.1,367.9 L484.6,368.0 L485.2,368.0 L485.7,368.1 L486.2,368.2 L486.7,368.2 L487.2,368.3 L487.7,368.4 L488.3,368.4 L488.8,368.5 L489.3,368.5 L489.8,368.6 L490.3,368.7 L490.9,368.7 L491.4,368.8 L491.9,368.8 L492.4,368.9 L492.9,368.9 L493.5,369.0 L494.0,369.0 L494.5,369.0 L495.0,369.1 L495.5,369.1 L496.0,369.2 L496.6,369.2 L497.1,369.3 L497.6,369.3 L498.1,369.3 L498.6,369.4 L499.2,369.4 L499.7,369.5 L500.2,369.5 L500.7,369.5 L501.2,369.6 L501.8,369.6 L502.3,369.6 L502.8,369.7 L503.3,369.7 L503.8,369.7 L504.3,369.8 L504.9,369.8 L505.4,369.8 L505.9,369.9 L506.4,369.9 L506.9,369.9 L507.5,370.0 L508.0,370.0 L508.5,370.0 L509.0,370.1 L509.5,370.1 L510.0,370.1 L510.6,370.2 L511.1,370.2 L511.6,370.2 L512.1,370.2 L512.6,370.3 L513.2,370.3 L513.7,370.3 L514.2,370.4 L514.7,370.4 L515.2,370.4 L515.8,370.4 L516.3,370.5 L516.8,370.5 L517.3,370.5 L517.8,370.5 L518.3,370.6 L518.9,370.6 L519.4,370.6 L519.9,370.6 L520.4,370.7 L520.9,370.7 L521.5,370.7 L522.0,370.7 L522.5,370.7 L523.0,370.8 L523.5,370.8 L524.1,370.8 L524.6,370.8 L525.1,370.8 L525.6,370.8 L526.1,370.9 L526.6,370.9 L527.2,370.9 L527.7,370.9 L528.2,370.9 L528.7,370.9 L529.2,371.0 L529.8,371.0 L530.3,371.0 L530.8,371.0 L531.3,371.0 L531.8,371.0 L532.3,371.0 L532.9,371.1 L533.4,371.1 L533.9,371.1 L534.4,371.1 L534.9,371.1 L535.5,371.1 L536.0,371.1 L536.5,371.2 L537.0,371.2 L537.5,371.2 L538.1,371.2 L538.6,371.2 L539.1,371.2 L539.6,371.2 L540.1,371.2 L540.6,371.2 L541.2,371.3 L541.7,371.3 L542.2,371.3 L542.7,371.3 L543.2,371.3 L543.8,371.3 L544.3,371.3 L544.8,371.3 L545.3,371.3 L545.8,371.4 L546.4,371.4 L546.9,371.4 L547.4,371.4 L547.9,371.4 L548.4,371.4 L548.9,371.4 L549.5,371.4 L550.0,371.4 L550.5,371.4 L551.0,371.4 L551.5,371.5 L552.1,371.5 L552.6,371.5 L553.1,371.5 L553.6,371.5 L554.1,371.5 L554.6,371.5 L555.2,371.5 L555.7,371.5 L556.2,371.5 L556.7,371.5 L557.2,371.5 L557.8,371.6 L558.3,371.6 L558.8,371.6 L559.3,371.6 L559.8,371.6 L560.4,371.6 L560.9,371.6 L561.4,371.6 L561.9,371.6 L562.4,371.6 L562.9,371.6 L563.5,371.6 L564.0,371.6 L564.5,371.7 L565.0,371.7 L565.5,371.7 L566.1,371.7 L566.6,371.7 L567.1,371.7 L567.6,371.7 L568.1,371.7 L568.6,371.7 L569.2,371.7 L569.7,371.7 L570.2,371.7 L570.7,371.7 L571.2,371.7 L571.8,371.7 L572.3,371.8 L572.8,371.8 L573.3,371.8 L573.8,371.8 L574.4,371.8 L574.9,371.8 L575.4,371.8 L575.9,371.8 L576.4,371.8 L576.9,371.8 L577.5,371.8 L578.0,371.8 L578.5,371.8 L579.0,371.8 L579.5,371.8 L580.1,371.9 L580.6,371.9 L581.1,371.9 L581.6,371.9 L582.1,371.9 L582.7,371.9 L583.2,371.9 L583.7,371.9 L584.2,371.9 L584.7,371.9 L585.2,371.9 L585.8,371.9 L586.3,371.9 L586.8,371.9 L587.3,371.9 L587.8,371.9 L588.4,371.9 L588.9,371.9 L589.4,371.9 L589.9,372.0 L590.4,372.0 L590.9,372.0 L591.5,372.0 L592.0,372.0 L592.5,372.0 L593.0,372.0 L593.5,372.0 L594.1,372.0 L594.6,372.0 L595.1,372.0 L595.6,372.0 L596.1,372.0 L596.7,372.0 L597.2,372.0 L597.7,372.0 L598.2,372.0 L598.7,372.0 L599.2,372.0 L599.8,372.0 L600.3,372.0 L600.8,372.0 L601.3,372.0 L601.8,372.0 L602.4,372.1 L602.9,372.1 L603.4,372.1 L603.9,372.1 L604.4,372.1 L605.0,372.1 L605.5,372.1 L606.0,372.1 L606.5,372.1 L607.0,372.1 L607.5,372.1 L608.1,372.1 L608.6,372.1 L609.1,372.1 L609.6,372.1 L610.1,372.1 L610.7,372.1 L611.2,372.1 L611.7,372.1 L612.2,372.1 L612.7,372.1 L613.2,372.1 L613.8,372.1 L614.3,372.1 L614.8,372.1 L615.3,372.1 L615.8,372.2 L616.4,372.2 L616.9,372.2 L617.4,372.2 L617.9,372.2 L618.4,372.2 L619.0,372.2 L619.5,372.2 L620.0,372.2 L620.5,372.2 L621.0,372.2 L621.5,372.2 L622.1,372.2 L622.6,372.2 L623.1,372.2 L623.6,372.2 L624.1,372.2 L624.7,372.2 L625.2,372.2 L625.7,372.2 L626.2,372.2 L626.7,372.2 L627.3,372.2 L627.8,372.2 L628.3,372.2 L628.8,372.2 L629.3,372.2 L629.8,372.2 L630.4,372.2 L630.9,372.2 L631.4,372.3 L631.9,372.3 L632.4,372.3 L633.0,372.3 L633.5,372.3 L634.0,372.3 L634.5,372.3 L635.0,372.3 L635.5,372.3 L636.1,372.3 L636.6,372.3 L637.1,372.3 L637.6,372.3 L638.1,372.3 L638.7,372.3 L639.2,372.3 L639.7,372.3 L640.2,372.3 L640.7,372.3 L641.3,372.3 L641.8,372.3 L642.3,372.3 L642.8,372.3 L643.3,372.3 L643.8,372.3 L644.4,372.3 L644.9,372.3 L645.4,372.3 L645.9,372.3 L646.4,372.3 L647.0,372.3 L647.5,372.3 L648.0,372.3 L648.5,372.3 L649.0,372.3 L649.6,372.3 L650.1,372.4 L650.6,372.4 L651.1,372.4 L651.6,372.4 L652.1,372.4 L652.7,372.4 L653.2,372.4 L653.7,372.4 L654.2,372.4 L654.7,372.4 L655.3,372.4 L655.8,372.4 L656.3,372.4 L656.8,372.4 L657.3,372.4 L657.8,372.4 L658.4,372.4 L658.9,372.4 L659.4,372.4 L659.9,372.4 L660.4,372.4 L661.0,372.4 L661.5,372.4 L662.0,372.4 L662.5,372.4 L663.0,372.4 L663.6,372.4 L664.1,372.4 L664.6,372.4 L665.1,372.4 L665.6,372.4 L666.1,372.4 L666.7,372.4 L667.2,372.4 L667.7,372.4 L668.2,372.4 L668.7,372.4 L669.3,372.4 L669.8,372.4 L670.3,372.4 L670.8,372.4 L671.3,372.4 L671.9,372.4 L672.4,372.4 L672.9,372.4 L673.4,372.4 L673.9,372.4 L674.4,372.4 L675.0,372.4 L675.5,372.4 L676.0,372.4" fill="none" stroke="#ff0000" stroke-width="3.9" stroke-dasharray="13.2 13" stroke-linejoin="round"/>
<path d="M416.7,313.2 L417.2,313.2 L417.7,313.2 L418.3,313.3 L418.8,313.4 L419.3,313.4 L419.8,313.5 L420.3,313.6 L420.8,313.8 L421.4,313.9 L421.9,314.1 L422.4,314.3 L422.9,314.6 L423.4,314.9 L424.0,315.2 L424.5,315.6 L425.0,316.0 L425.5,316.5 L426.0,317.0 L426.6,317.5 L427.1,318.0 L427.6,318.6 L428.1,319.1 L428.6,319.7 L429.1,320.3 L429.7,321.0 L430.2,321.7 L430.7,322.4 L431.2,323.2 L431.7,324.0 L432.3,324.8 L432.8,325.6 L433.3,326.5 L433.8,327.3 L434.3,328.2 L434.9,329.0 L435.4,329.9 L435.9,330.8 L436.4,331.8 L436.9,332.8 L437.4,333.8 L438.0,334.8 L438.5,335.8 L439.0,336.7 L439.5,337.7 L440.0,338.6 L440.6,339.5 L441.1,340.3 L441.6,341.2 L442.1,342.0 L442.6,342.9 L443.1,343.7 L443.7,344.5 L444.2,345.3 L444.7,346.0 L445.2,346.8 L445.7,347.5 L446.3,348.2 L446.8,348.9 L447.3,349.5 L447.8,350.1 L448.3,350.6 L448.9,351.2 L449.4,351.7 L449.9,352.3 L450.4,352.8 L450.9,353.3 L451.4,353.7 L452.0,354.2 L452.5,354.7 L453.0,355.1 L453.5,355.5 L454.0,356.0 L454.6,356.4 L455.1,356.8 L455.6,357.1 L456.1,357.5 L456.6,357.9 L457.2,358.2 L457.7,358.5 L458.2,358.9 L458.7,359.2 L459.2,359.5 L459.7,359.8 L460.3,360.1 L460.8,360.4 L461.3,360.7 L461.8,361.0 L462.3,361.3 L462.9,361.6 L463.4,361.9 L463.9,362.1 L464.4,362.4 L464.9,362.6 L465.4,362.9 L466.0,363.1 L466.5,363.3 L467.0,363.5 L467.5,363.8 L468.0,363.9 L468.6,364.1 L469.1,364.3 L469.6,364.5 L470.1,364.6 L470.6,364.8 L471.2,365.0 L471.7,365.1 L472.2,365.3 L472.7,365.4 L473.2,365.6 L473.7,365.7 L474.3,365.8 L474.8,366.0 L475.3,366.1 L475.8,366.2 L476.3,366.4 L476.9,366.5 L477.4,366.6 L477.9,366.7 L478.4,366.8 L478.9,367.0 L479.5,367.1 L480.0,367.2 L480.5,367.3 L481.0,367.4 L481.5,367.5 L482.0,367.6 L482.6,367.6 L483.1,367.7 L483.6,367.8 L484.1,367.9 L484.6,368.0 L485.2,368.0 L485.7,368.1 L486.2,368.2 L486.7,368.2 L487.2,368.3 L487.7,368.4 L488.3,368.4 L488.8,368.5 L489.3,368.5 L489.8,368.6 L490.3,368.7 L490.9,368.7 L491.4,368.8 L491.9,368.8 L492.4,368.9 L492.9,368.9 L493.5,369.0 L494.0,369.0 L494.5,369.0 L495.0,369.1 L495.5,369.1 L496.0,369.2 L496.6,369.2 L497.1,369.3 L497.6,369.3 L498.1,369.3 L498.6,369.4 L499.2,369.4 L499.7,369.5 L500.2,369.5 L500.7,369.5 L501.2,369.6 L501.8,369.6 L502.3,369.6 L502.8,369.7 L503.3,369.7 L503.8,369.7 L504.3,369.8 L504.9,369.8 L505.4,369.8 L505.9,369.9 L506.4,369.9 L506.9,369.9 L507.5,370.0 L508.0,370.0 L508.5,370.0 L509.0,370.1 L509.5,370.1 L510.0,370.1 L510.6,370.2 L511.1,370.2 L511.6,370.2 L512.1,370.2 L512.6,370.3 L513.2,370.3 L513.7,370.3 L514.2,370.4 L514.7,370.4 L515.2,370.4 L515.8,370.4 L516.3,370.5 L516.8,370.5 L517.3,370.5 L517.8,370.5 L518.3,370.6 L518.9,370.6 L519.4,370.6 L519.9,370.6 L520.4,370.7 L520.9,370.7 L521.5,370.7 L522.0,370.7 L522.5,370.7 L523.0,370.8 L523.5,370.8 L524.1,370.8 L524.6,370.8 L525.1,370.8 L525.6,370.8 L526.1,370.9 L526.6,370.9 L527.2,370.9 L527.7,370.9 L528.2,370.9 L528.7,370.9 L529.2,371.0 L529.8,371.0 L530.3,371.0 L530.8,371.0 L531.3,371.0 L531.8,371.0 L532.3,371.0 L532.9,371.1 L533.4,371.1 L533.9,371.1 L534.4,371.1 L534.9,371.1 L535.5,371.1 L536.0,371.1 L536.5,371.2 L537.0,371.2 L537.5,371.2 L538.1,371.2 L538.6,371.2 L539.1,371.2 L539.6,371.2 L540.1,371.2 L540.6,371.2 L541.2,371.3 L541.7,371.3 L542.2,371.3 L542.7,371.3 L543.2,371.3 L543.8,371.3 L544.3,371.3 L544.8,371.3 L545.3,371.3 L545.8,371.4 L546.4,371.4 L546.9,371.4 L547.4,371.4 L547.9,371.4 L548.4,371.4 L548.9,371.4 L549.5,371.4 L550.0,371.4 L550.5,371.4 L551.0,371.4 L551.5,371.5 L552.1,371.5 L552.6,371.5 L553.1,371.5 L553.6,371.5 L554.1,371.5 L554.6,371.5 L555.2,371.5 L555.7,371.5 L556.2,371.5 L556.7,371.5 L557.2,371.5 L557.8,371.6 L558.3,371.6 L558.8,371.6 L559.3,371.6 L559.8,371.6 L560.4,371.6 L560.9,371.6 L561.4,371.6 L561.9,371.6 L562.4,371.6 L562.9,371.6 L563.5,371.6 L564.0,371.6 L564.5,371.7 L565.0,371.7 L565.5,371.7 L566.1,371.7 L566.6,371.7 L567.1,371.7 L567.6,371.7 L568.1,371.7 L568.6,371.7 L569.2,371.7 L569.7,371.7 L570.2,371.7 L570.7,371.7 L571.2,371.7 L571.8,371.7 L572.3,371.8 L572.8,371.8 L573.3,371.8 L573.8,371.8 L574.4,371.8 L574.9,371.8 L575.4,371.8 L575.9,371.8 L576.4,371.8 L576.9,371.8 L577.5,371.8 L578.0,371.8 L578.5,371.8 L579.0,371.8 L579.5,371.8 L580.1,371.9 L580.6,371.9 L581.1,371.9 L581.6,371.9 L582.1,371.9 L582.7,371.9 L583.2,371.9 L583.7,371.9 L584.2,371.9 L584.7,371.9 L585.2,371.9 L585.8,371.9 L586.3,371.9 L586.8,371.9 L587.3,371.9 L587.8,371.9 L588.4,371.9 L588.9,371.9 L589.4,371.9 L589.9,372.0 L590.4,372.0 L590.9,372.0 L591.5,372.0 L592.0,372.0 L592.5,372.0 L593.0,372.0 L593.5,372.0 L594.1,372.0 L594.6,372.0 L595.1,372.0 L595.6,372.0 L596.1,372.0 L596.7,372.0 L597.2,372.0 L597.7,372.0 L598.2,372.0 L598.7,372.0 L599.2,372.0 L599.8,372.0 L600.3,372.0 L600.8,372.0 L601.3,372.0 L601.8,372.0 L602.4,372.1 L602.9,372.1 L603.4,372.1 L603.9,372.1 L604.4,372.1 L605.0,372.1 L605.5,372.1 L606.0,372.1 L606.5,372.1 L607.0,372.1 L607.5,372.1 L608.1,372.1 L608.6,372.1 L609.1,372.1 L609.6,372.1 L610.1,372.1 L610.7,372.1 L611.2,372.1 L611.7,372.1 L612.2,372.1 L612.7,372.1 L613.2,372.1 L613.8,372.1 L614.3,372.1 L614.8,372.1 L615.3,372.1 L615.8,372.2 L616.4,372.2 L616.9,372.2 L617.4,372.2 L617.9,372.2 L618.4,372.2 L619.0,372.2 L619.5,372.2 L620.0,372.2 L620.5,372.2 L621.0,372.2 L621.5,372.2 L622.1,372.2 L622.6,372.2 L623.1,372.2 L623.6,372.2 L624.1,372.2 L624.7,372.2 L625.2,372.2 L625.7,372.2 L626.2,372.2 L626.7,372.2 L627.3,372.2 L627.8,372.2 L628.3,372.2 L628.8,372.2 L629.3,372.2 L629.8,372.2 L630.4,372.2 L630.9,372.2 L631.4,372.3 L631.9,372.3 L632.4,372.3 L633.0,372.3 L633.5,372.3 L634.0,372.3 L634.5,372.3 L635.0,372.3 L635.5,372.3 L636.1,372.3 L636.6,372.3 L637.1,372.3 L637.6,372.3 L638.1,372.3 L638.7,372.3 L639.2,372.3 L639.7,372.3 L640.2,372.3 L640.7,372.3 L641.3,372.3 L641.8,372.3 L642.3,372.3 L642.8,372.3 L643.3,372.3 L643.8,372.3 L644.4,372.3 L644.9,372.3 L645.4,372.3 L645.9,372.3 L646.4,372.3 L647.0,372.3 L647.5,372.3 L648.0,372.3 L648.5,372.3 L649.0,372.3 L649.6,372.3 L650.1,372.4 L650.6,372.4 L651.1,372.4 L651.6,372.4 L652.1,372.4 L652.7,372.4 L653.2,372.4 L653.7,372.4 L654.2,372.4 L654.7,372.4 L655.3,372.4 L655.8,372.4 L656.3,372.4 L656.8,372.4 L657.3,372.4 L657.8,372.4 L658.4,372.4 L658.9,372.4 L659.4,372.4 L659.9,372.4 L660.4,372.4 L661.0,372.4 L661.5,372.4 L662.0,372.4 L662.5,372.4 L663.0,372.4 L663.6,372.4 L664.1,372.4 L664.6,372.4 L665.1,372.4 L665.6,372.4 L666.1,372.4 L666.7,372.4 L667.2,372.4 L667.7,372.4 L668.2,372.4 L668.7,372.4 L669.3,372.4 L669.8,372.4 L670.3,372.4 L670.8,372.4 L671.3,372.4 L671.9,372.4 L672.4,372.4 L672.9,372.4 L673.4,372.4 L673.9,372.4 L674.4,372.4 L675.0,372.4 L675.5,372.4 L676.0,372.4" fill="none" stroke="#000000" stroke-width="3.9" stroke-dasharray="3.4 3.3" stroke-linejoin="round"/>
<path d="M416.7,445.9 L417.2,445.9 L417.7,445.9 L418.3,445.8 L418.8,445.7 L419.3,445.7 L419.8,445.6 L420.3,445.5 L420.8,445.3 L421.4,445.2 L421.9,445.0 L422.4,444.8 L422.9,444.5 L423.4,444.2 L424.0,443.9 L424.5,443.5 L425.0,443.1 L425.5,442.6 L426.0,442.1 L426.6,441.6 L427.1,441.1 L427.6,440.5 L428.1,440.0 L428.6,439.4 L429.1,438.8 L429.7,438.1 L430.2,437.4 L430.7,436.7 L431.2,435.9 L431.7,435.1 L432.3,434.3 L432.8,433.5 L433.3,432.6 L433.8,431.8 L434.3,430.9 L434.9,430.1 L435.4,429.2 L435.9,428.3 L436.4,427.3 L436.9,426.3 L437.4,425.3 L438.0,424.3 L438.5,423.3 L439.0,422.4 L439.5,421.4 L440.0,420.5 L440.6,419.6 L441.1,418.8 L441.6,417.9 L442.1,417.1 L442.6,416.2 L443.1,415.4 L443.7,414.6 L444.2,413.8 L444.7,413.1 L445.2,412.3 L445.7,411.6 L446.3,410.9 L446.8,410.2 L447.3,409.6 L447.8,409.0 L448.3,408.5 L448.9,407.9 L449.4,407.4 L449.9,406.8 L450.4,406.3 L450.9,405.8 L451.4,405.4 L452.0,404.9 L452.5,404.4 L453.0,404.0 L453.5,403.6 L454.0,403.1 L454.6,402.7 L455.1,402.3 L455.6,402.0 L456.1,401.6 L456.6,401.2 L457.2,400.9 L457.7,400.6 L458.2,400.2 L458.7,399.9 L459.2,399.6 L459.7,399.3 L460.3,399.0 L460.8,398.7 L461.3,398.4 L461.8,398.1 L462.3,397.8 L462.9,397.5 L463.4,397.2 L463.9,397.0 L464.4,396.7 L464.9,396.5 L465.4,396.2 L466.0,396.0 L466.5,395.8 L467.0,395.6 L467.5,395.3 L468.0,395.2 L468.6,395.0 L469.1,394.8 L469.6,394.6 L470.1,394.5 L470.6,394.3 L471.2,394.1 L471.7,394.0 L472.2,393.8 L472.7,393.7 L473.2,393.5 L473.7,393.4 L474.3,393.3 L474.8,393.1 L475.3,393.0 L475.8,392.9 L476.3,392.7 L476.9,392.6 L477.4,392.5 L477.9,392.4 L478.4,392.3 L478.9,392.1 L479.5,392.0 L480.0,391.9 L480.5,391.8 L481.0,391.7 L481.5,391.6 L482.0,391.5 L482.6,391.5 L483.1,391.4 L483.6,391.3 L484.1,391.2 L484.6,391.1 L485.2,391.1 L485.7,391.0 L486.2,390.9 L486.7,390.9 L487.2,390.8 L487.7,390.7 L488.3,390.7 L488.8,390.6 L489.3,390.6 L489.8,390.5 L490.3,390.4 L490.9,390.4 L491.4,390.3 L491.9,390.3 L492.4,390.2 L492.9,390.2 L493.5,390.1 L494.0,390.1 L494.5,390.1 L495.0,390.0 L495.5,390.0 L496.0,389.9 L496.6,389.9 L497.1,389.8 L497.6,389.8 L498.1,389.8 L498.6,389.7 L499.2,389.7 L499.7,389.6 L500.2,389.6 L500.7,389.6 L501.2,389.5 L501.8,389.5 L502.3,389.5 L502.8,389.4 L503.3,389.4 L503.8,389.4 L504.3,389.3 L504.9,389.3 L505.4,389.3 L505.9,389.2 L506.4,389.2 L506.9,389.2 L507.5,389.1 L508.0,389.1 L508.5,389.1 L509.0,389.0 L509.5,389.0 L510.0,389.0 L510.6,388.9 L511.1,388.9 L511.6,388.9 L512.1,388.9 L512.6,388.8 L513.2,388.8 L513.7,388.8 L514.2,388.7 L514.7,388.7 L515.2,388.7 L515.8,388.7 L516.3,388.6 L516.8,388.6 L517.3,388.6 L517.8,388.6 L518.3,388.5 L518.9,388.5 L519.4,388.5 L519.9,388.5 L520.4,388.4 L520.9,388.4 L521.5,388.4 L522.0,388.4 L522.5,388.4 L523.0,388.3 L523.5,388.3 L524.1,388.3 L524.6,388.3 L525.1,388.3 L525.6,388.3 L526.1,388.2 L526.6,388.2 L527.2,388.2 L527.7,388.2 L528.2,388.2 L528.7,388.2 L529.2,388.1 L529.8,388.1 L530.3,388.1 L530.8,388.1 L531.3,388.1 L531.8,388.1 L532.3,388.1 L532.9,388.0 L533.4,388.0 L533.9,388.0 L534.4,388.0 L534.9,388.0 L535.5,388.0 L536.0,388.0 L536.5,387.9 L537.0,387.9 L537.5,387.9 L538.1,387.9 L538.6,387.9 L539.1,387.9 L539.6,387.9 L540.1,387.9 L540.6,387.9 L541.2,387.8 L541.7,387.8 L542.2,387.8 L542.7,387.8 L543.2,387.8 L543.8,387.8 L544.3,387.8 L544.8,387.8 L545.3,387.8 L545.8,387.7 L546.4,387.7 L546.9,387.7 L547.4,387.7 L547.9,387.7 L548.4,387.7 L548.9,387.7 L549.5,387.7 L550.0,387.7 L550.5,387.7 L551.0,387.7 L551.5,387.6 L552.1,387.6 L552.6,387.6 L553.1,387.6 L553.6,387.6 L554.1,387.6 L554.6,387.6 L555.2,387.6 L555.7,387.6 L556.2,387.6 L556.7,387.6 L557.2,387.6 L557.8,387.5 L558.3,387.5 L558.8,387.5 L559.3,387.5 L559.8,387.5 L560.4,387.5 L560.9,387.5 L561.4,387.5 L561.9,387.5 L562.4,387.5 L562.9,387.5 L563.5,387.5 L564.0,387.5 L564.5,387.4 L565.0,387.4 L565.5,387.4 L566.1,387.4 L566.6,387.4 L567.1,387.4 L567.6,387.4 L568.1,387.4 L568.6,387.4 L569.2,387.4 L569.7,387.4 L570.2,387.4 L570.7,387.4 L571.2,387.4 L571.8,387.4 L572.3,387.3 L572.8,387.3 L573.3,387.3 L573.8,387.3 L574.4,387.3 L574.9,387.3 L575.4,387.3 L575.9,387.3 L576.4,387.3 L576.9,387.3 L577.5,387.3 L578.0,387.3 L578.5,387.3 L579.0,387.3 L579.5,387.3 L580.1,387.2 L580.6,387.2 L581.1,387.2 L581.6,387.2 L582.1,387.2 L582.7,387.2 L583.2,387.2 L583.7,387.2 L584.2,387.2 L584.7,387.2 L585.2,387.2 L585.8,387.2 L586.3,387.2 L586.8,387.2 L587.3,387.2 L587.8,387.2 L588.4,387.2 L588.9,387.2 L589.4,387.2 L589.9,387.1 L590.4,387.1 L590.9,387.1 L591.5,387.1 L592.0,387.1 L592.5,387.1 L593.0,387.1 L593.5,387.1 L594.1,387.1 L594.6,387.1 L595.1,387.1 L595.6,387.1 L596.1,387.1 L596.7,387.1 L597.2,387.1 L597.7,387.1 L598.2,387.1 L598.7,387.1 L599.2,387.1 L599.8,387.1 L600.3,387.1 L600.8,387.1 L601.3,387.1 L601.8,387.1 L602.4,387.0 L602.9,387.0 L603.4,387.0 L603.9,387.0 L604.4,387.0 L605.0,387.0 L605.5,387.0 L606.0,387.0 L606.5,387.0 L607.0,387.0 L607.5,387.0 L608.1,387.0 L608.6,387.0 L609.1,387.0 L609.6,387.0 L610.1,387.0 L610.7,387.0 L611.2,387.0 L611.7,387.0 L612.2,387.0 L612.7,387.0 L613.2,387.0 L613.8,387.0 L614.3,387.0 L614.8,387.0 L615.3,387.0 L615.8,386.9 L616.4,386.9 L616.9,386.9 L617.4,386.9 L617.9,386.9 L618.4,386.9 L619.0,386.9 L619.5,386.9 L620.0,386.9 L620.5,386.9 L621.0,386.9 L621.5,386.9 L622.1,386.9 L622.6,386.9 L623.1,386.9 L623.6,386.9 L624.1,386.9 L624.7,386.9 L625.2,386.9 L625.7,386.9 L626.2,386.9 L626.7,386.9 L627.3,386.9 L627.8,386.9 L628.3,386.9 L628.8,386.9 L629.3,386.9 L629.8,386.9 L630.4,386.9 L630.9,386.9 L631.4,386.8 L631.9,386.8 L632.4,386.8 L633.0,386.8 L633.5,386.8 L634.0,386.8 L634.5,386.8 L635.0,386.8 L635.5,386.8 L636.1,386.8 L636.6,386.8 L637.1,386.8 L637.6,386.8 L638.1,386.8 L638.7,386.8 L639.2,386.8 L639.7,386.8 L640.2,386.8 L640.7,386.8 L641.3,386.8 L641.8,386.8 L642.3,386.8 L642.8,386.8 L643.3,386.8 L643.8,386.8 L644.4,386.8 L644.9,386.8 L645.4,386.8 L645.9,386.8 L646.4,386.8 L647.0,386.8 L647.5,386.8 L648.0,386.8 L648.5,386.8 L649.0,386.8 L649.6,386.8 L650.1,386.7 L650.6,386.7 L651.1,386.7 L651.6,386.7 L652.1,386.7 L652.7,386.7 L653.2,386.7 L653.7,386.7 L654.2,386.7 L654.7,386.7 L655.3,386.7 L655.8,386.7 L656.3,386.7 L656.8,386.7 L657.3,386.7 L657.8,386.7 L658.4,386.7 L658.9,386.7 L659.4,386.7 L659.9,386.7 L660.4,386.7 L661.0,386.7 L661.5,386.7 L662.0,386.7 L662.5,386.7 L663.0,386.7 L663.6,386.7 L664.1,386.7 L664.6,386.7 L665.1,386.7 L665.6,386.7 L666.1,386.7 L666.7,386.7 L667.2,386.7 L667.7,386.7 L668.2,386.7 L668.7,386.7 L669.3,386.7 L669.8,386.7 L670.3,386.7 L670.8,386.7 L671.3,386.7 L671.9,386.7 L672.4,386.7 L672.9,386.7 L673.4,386.7 L673.9,386.7 L674.4,386.7 L675.0,386.7 L675.5,386.7 L676.0,386.7" fill="none" stroke="#ff0000" stroke-width="3.9" stroke-dasharray="13.2 13" stroke-linejoin="round"/>
<path d="M416.7,445.9 L417.2,445.9 L417.7,445.9 L418.3,445.8 L418.8,445.7 L419.3,445.7 L419.8,445.6 L420.3,445.5 L420.8,445.3 L421.4,445.2 L421.9,445.0 L422.4,444.8 L422.9,444.5 L423.4,444.2 L424.0,443.9 L424.5,443.5 L425.0,443.1 L425.5,442.6 L426.0,442.1 L426.6,441.6 L427.1,441.1 L427.6,440.5 L428.1,440.0 L428.6,439.4 L429.1,438.8 L429.7,438.1 L430.2,437.4 L430.7,436.7 L431.2,435.9 L431.7,435.1 L432.3,434.3 L432.8,433.5 L433.3,432.6 L433.8,431.8 L434.3,430.9 L434.9,430.1 L435.4,429.2 L435.9,428.3 L436.4,427.3 L436.9,426.3 L437.4,425.3 L438.0,424.3 L438.5,423.3 L439.0,422.4 L439.5,421.4 L440.0,420.5 L440.6,419.6 L441.1,418.8 L441.6,417.9 L442.1,417.1 L442.6,416.2 L443.1,415.4 L443.7,414.6 L444.2,413.8 L444.7,413.1 L445.2,412.3 L445.7,411.6 L446.3,410.9 L446.8,410.2 L447.3,409.6 L447.8,409.0 L448.3,408.5 L448.9,407.9 L449.4,407.4 L449.9,406.8 L450.4,406.3 L450.9,405.8 L451.4,405.4 L452.0,404.9 L452.5,404.4 L453.0,404.0 L453.5,403.6 L454.0,403.1 L454.6,402.7 L455.1,402.3 L455.6,402.0 L456.1,401.6 L456.6,401.2 L457.2,400.9 L457.7,400.6 L458.2,400.2 L458.7,399.9 L459.2,399.6 L459.7,399.3 L460.3,399.0 L460.8,398.7 L461.3,398.4 L461.8,398.1 L462.3,397.8 L462.9,397.5 L463.4,397.2 L463.9,397.0 L464.4,396.7 L464.9,396.5 L465.4,396.2 L466.0,396.0 L466.5,395.8 L467.0,395.6 L467.5,395.3 L468.0,395.2 L468.6,395.0 L469.1,394.8 L469.6,394.6 L470.1,394.5 L470.6,394.3 L471.2,394.1 L471.7,394.0 L472.2,393.8 L472.7,393.7 L473.2,393.5 L473.7,393.4 L474.3,393.3 L474.8,393.1 L475.3,393.0 L475.8,392.9 L476.3,392.7 L476.9,392.6 L477.4,392.5 L477.9,392.4 L478.4,392.3 L478.9,392.1 L479.5,392.0 L480.0,391.9 L480.5,391.8 L481.0,391.7 L481.5,391.6 L482.0,391.5 L482.6,391.5 L483.1,391.4 L483.6,391.3 L484.1,391.2 L484.6,391.1 L485.2,391.1 L485.7,391.0 L486.2,390.9 L486.7,390.9 L487.2,390.8 L487.7,390.7 L488.3,390.7 L488.8,390.6 L489.3,390.6 L489.8,390.5 L490.3,390.4 L490.9,390.4 L491.4,390.3 L491.9,390.3 L492.4,390.2 L492.9,390.2 L493.5,390.1 L494.0,390.1 L494.5,390.1 L495.0,390.0 L495.5,390.0 L496.0,389.9 L496.6,389.9 L497.1,389.8 L497.6,389.8 L498.1,389.8 L498.6,389.7 L499.2,389.7 L499.7,389.6 L500.2,389.6 L500.7,389.6 L501.2,389.5 L501.8,389.5 L502.3,389.5 L502.8,389.4 L503.3,389.4 L503.8,389.4 L504.3,389.3 L504.9,389.3 L505.4,389.3 L505.9,389.2 L506.4,389.2 L506.9,389.2 L507.5,389.1 L508.0,389.1 L508.5,389.1 L509.0,389.0 L509.5,389.0 L510.0,389.0 L510.6,388.9 L511.1,388.9 L511.6,388.9 L512.1,388.9 L512.6,388.8 L513.2,388.8 L513.7,388.8 L514.2,388.7 L514.7,388.7 L515.2,388.7 L515.8,388.7 L516.3,388.6 L516.8,388.6 L517.3,388.6 L517.8,388.6 L518.3,388.5 L518.9,388.5 L519.4,388.5 L519.9,388.5 L520.4,388.4 L520.9,388.4 L521.5,388.4 L522.0,388.4 L522.5,388.4 L523.0,388.3 L523.5,388.3 L524.1,388.3 L524.6,388.3 L525.1,388.3 L525.6,388.3 L526.1,388.2 L526.6,388.2 L527.2,388.2 L527.7,388.2 L528.2,388.2 L528.7,388.2 L529.2,388.1 L529.8,388.1 L530.3,388.1 L530.8,388.1 L531.3,388.1 L531.8,388.1 L532.3,388.1 L532.9,388.0 L533.4,388.0 L533.9,388.0 L534.4,388.0 L534.9,388.0 L535.5,388.0 L536.0,388.0 L536.5,387.9 L537.0,387.9 L537.5,387.9 L538.1,387.9 L538.6,387.9 L539.1,387.9 L539.6,387.9 L540.1,387.9 L540.6,387.9 L541.2,387.8 L541.7,387.8 L542.2,387.8 L542.7,387.8 L543.2,387.8 L543.8,387.8 L544.3,387.8 L544.8,387.8 L545.3,387.8 L545.8,387.7 L546.4,387.7 L546.9,387.7 L547.4,387.7 L547.9,387.7 L548.4,387.7 L548.9,387.7 L549.5,387.7 L550.0,387.7 L550.5,387.7 L551.0,387.7 L551.5,387.6 L552.1,387.6 L552.6,387.6 L553.1,387.6 L553.6,387.6 L554.1,387.6 L554.6,387.6 L555.2,387.6 L555.7,387.6 L556.2,387.6 L556.7,387.6 L557.2,387.6 L557.8,387.5 L558.3,387.5 L558.8,387.5 L559.3,387.5 L559.8,387.5 L560.4,387.5 L560.9,387.5 L561.4,387.5 L561.9,387.5 L562.4,387.5 L562.9,387.5 L563.5,387.5 L564.0,387.5 L564.5,387.4 L565.0,387.4 L565.5,387.4 L566.1,387.4 L566.6,387.4 L567.1,387.4 L567.6,387.4 L568.1,387.4 L568.6,387.4 L569.2,387.4 L569.7,387.4 L570.2,387.4 L570.7,387.4 L571.2,387.4 L571.8,387.4 L572.3,387.3 L572.8,387.3 L573.3,387.3 L573.8,387.3 L574.4,387.3 L574.9,387.3 L575.4,387.3 L575.9,387.3 L576.4,387.3 L576.9,387.3 L577.5,387.3 L578.0,387.3 L578.5,387.3 L579.0,387.3 L579.5,387.3 L580.1,387.2 L580.6,387.2 L581.1,387.2 L581.6,387.2 L582.1,387.2 L582.7,387.2 L583.2,387.2 L583.7,387.2 L584.2,387.2 L584.7,387.2 L585.2,387.2 L585.8,387.2 L586.3,387.2 L586.8,387.2 L587.3,387.2 L587.8,387.2 L588.4,387.2 L588.9,387.2 L589.4,387.2 L589.9,387.1 L590.4,387.1 L590.9,387.1 L591.5,387.1 L592.0,387.1 L592.5,387.1 L593.0,387.1 L593.5,387.1 L594.1,387.1 L594.6,387.1 L595.1,387.1 L595.6,387.1 L596.1,387.1 L596.7,387.1 L597.2,387.1 L597.7,387.1 L598.2,387.1 L598.7,387.1 L599.2,387.1 L599.8,387.1 L600.3,387.1 L600.8,387.1 L601.3,387.1 L601.8,387.1 L602.4,387.0 L602.9,387.0 L603.4,387.0 L603.9,387.0 L604.4,387.0 L605.0,387.0 L605.5,387.0 L606.0,387.0 L606.5,387.0 L607.0,387.0 L607.5,387.0 L608.1,387.0 L608.6,387.0 L609.1,387.0 L609.6,387.0 L610.1,387.0 L610.7,387.0 L611.2,387.0 L611.7,387.0 L612.2,387.0 L612.7,387.0 L613.2,387.0 L613.8,387.0 L614.3,387.0 L614.8,387.0 L615.3,387.0 L615.8,386.9 L616.4,386.9 L616.9,386.9 L617.4,386.9 L617.9,386.9 L618.4,386.9 L619.0,386.9 L619.5,386.9 L620.0,386.9 L620.5,386.9 L621.0,386.9 L621.5,386.9 L622.1,386.9 L622.6,386.9 L623.1,386.9 L623.6,386.9 L624.1,386.9 L624.7,386.9 L625.2,386.9 L625.7,386.9 L626.2,386.9 L626.7,386.9 L627.3,386.9 L627.8,386.9 L628.3,386.9 L628.8,386.9 L629.3,386.9 L629.8,386.9 L630.4,386.9 L630.9,386.9 L631.4,386.8 L631.9,386.8 L632.4,386.8 L633.0,386.8 L633.5,386.8 L634.0,386.8 L634.5,386.8 L635.0,386.8 L635.5,386.8 L636.1,386.8 L636.6,386.8 L637.1,386.8 L637.6,386.8 L638.1,386.8 L638.7,386.8 L639.2,386.8 L639.7,386.8 L640.2,386.8 L640.7,386.8 L641.3,386.8 L641.8,386.8 L642.3,386.8 L642.8,386.8 L643.3,386.8 L643.8,386.8 L644.4,386.8 L644.9,386.8 L645.4,386.8 L645.9,386.8 L646.4,386.8 L647.0,386.8 L647.5,386.8 L648.0,386.8 L648.5,386.8 L649.0,386.8 L649.6,386.8 L650.1,386.7 L650.6,386.7 L651.1,386.7 L651.6,386.7 L652.1,386.7 L652.7,386.7 L653.2,386.7 L653.7,386.7 L654.2,386.7 L654.7,386.7 L655.3,386.7 L655.8,386.7 L656.3,386.7 L656.8,386.7 L657.3,386.7 L657.8,386.7 L658.4,386.7 L658.9,386.7 L659.4,386.7 L659.9,386.7 L660.4,386.7 L661.0,386.7 L661.5,386.7 L662.0,386.7 L662.5,386.7 L663.0,386.7 L663.6,386.7 L664.1,386.7 L664.6,386.7 L665.1,386.7 L665.6,386.7 L666.1,386.7 L666.7,386.7 L667.2,386.7 L667.7,386.7 L668.2,386.7 L668.7,386.7 L669.3,386.7 L669.8,386.7 L670.3,386.7 L670.8,386.7 L671.3,386.7 L671.9,386.7 L672.4,386.7 L672.9,386.7 L673.4,386.7 L673.9,386.7 L674.4,386.7 L675.0,386.7 L675.5,386.7 L676.0,386.7" fill="none" stroke="#000000" stroke-width="3.9" stroke-dasharray="3.4 3.3" stroke-linejoin="round"/>
</g>
<line x1="76.70" y1="203.2" x2="76.70" y2="200.39999999999998" stroke="#262626" stroke-width="1.1"/>
<line x1="76.70" y1="6.4" x2="76.70" y2="9.2" stroke="#262626" stroke-width="1.1"/>
<line x1="205.85" y1="203.2" x2="205.85" y2="200.39999999999998" stroke="#262626" stroke-width="1.1"/>
<line x1="205.85" y1="6.4" x2="205.85" y2="9.2" stroke="#262626" stroke-width="1.1"/>
<line x1="335.00" y1="203.2" x2="335.00" y2="200.39999999999998" stroke="#262626" stroke-width="1.1"/>
<line x1="335.00" y1="6.4" x2="335.00" y2="9.2" stroke="#262626" stroke-width="1.1"/>
<line x1="76.7" y1="202.51" x2="79.5" y2="202.51" stroke="#262626" stroke-width="1.1"/>
<line x1="335.0" y1="202.51" x2="332.2" y2="202.51" stroke="#262626" stroke-width="1.1"/>
<line x1="76.7" y1="106.03" x2="79.5" y2="106.03" stroke="#262626" stroke-width="1.1"/>
<line x1="335.0" y1="106.03" x2="332.2" y2="106.03" stroke="#262626" stroke-width="1.1"/>
<line x1="76.7" y1="9.55" x2="79.5" y2="9.55" stroke="#262626" stroke-width="1.1"/>
<line x1="335.0" y1="9.55" x2="332.2" y2="9.55" stroke="#262626" stroke-width="1.1"/>
<rect x="76.7" y="6.4" width="258.30" height="196.80" fill="none" stroke="#262626" stroke-width="1.25"/>
<text x="76.70" y="230.00" text-anchor="middle" font-size="19.5" fill="#262626">0</text>
<text x="205.85" y="230.00" text-anchor="middle" font-size="19.5" fill="#262626">5</text>
<text x="335.00" y="230.00" text-anchor="middle" font-size="19.5" fill="#262626">10</text>
<text x="68.40" y="209.41" text-anchor="end" font-size="19.5" fill="#262626">0</text>
<text x="68.40" y="112.93" text-anchor="end" font-size="19.5" fill="#262626">5</text>
<text x="68.40" y="16.45" text-anchor="end" font-size="19.5" fill="#262626">10</text>
<text x="205.85" y="257.30" text-anchor="middle" font-size="22.3" fill="#262626">time (s)</text>
<line x1="416.70" y1="203.2" x2="416.70" y2="200.39999999999998" stroke="#262626" stroke-width="1.1"/>
<line x1="416.70" y1="6.4" x2="416.70" y2="9.2" stroke="#262626" stroke-width="1.1"/>
<line x1="546.35" y1="203.2" x2="546.35" y2="200.39999999999998" stroke="#262626" stroke-width="1.1"/>
<line x1="546.35" y1="6.4" x2="546.35" y2="9.2" stroke="#262626" stroke-width="1.1"/>
<line x1="676.00" y1="203.2" x2="676.00" y2="200.39999999999998" stroke="#262626" stroke-width="1.1"/>
<line x1="676.00" y1="6.4" x2="676.00" y2="9.2" stroke="#262626" stroke-width="1.1"/>
<line x1="416.7" y1="199.82" x2="419.5" y2="199.82" stroke="#262626" stroke-width="1.1"/>
<line x1="676.0" y1="199.82" x2="673.2" y2="199.82" stroke="#262626" stroke-width="1.1"/>
<line x1="416.7" y1="135.34" x2="419.5" y2="135.34" stroke="#262626" stroke-width="1.1"/>
<line x1="676.0" y1="135.34" x2="673.2" y2="135.34" stroke="#262626" stroke-width="1.1"/>
<line x1="416.7" y1="70.87" x2="419.5" y2="70.87" stroke="#262626" stroke-width="1.1"/>
<line x1="676.0" y1="70.87" x2="673.2" y2="70.87" stroke="#262626" stroke-width="1.1"/>
<line x1="416.7" y1="6.40" x2="419.5" y2="6.40" stroke="#262626" stroke-width="1.1"/>
<line x1="676.0" y1="6.40" x2="673.2" y2="6.40" stroke="#262626" stroke-width="1.1"/>
<rect x="416.7" y="6.4" width="259.30" height="196.80" fill="none" stroke="#262626" stroke-width="1.25"/>
<text x="416.70" y="230.00" text-anchor="middle" font-size="19.5" fill="#262626">0</text>
<text x="546.35" y="230.00" text-anchor="middle" font-size="19.5" fill="#262626">5</text>
<text x="676.00" y="230.00" text-anchor="middle" font-size="19.5" fill="#262626">10</text>
<text x="408.40" y="206.72" text-anchor="end" font-size="19.5" fill="#262626">-4</text>
<text x="408.40" y="142.24" text-anchor="end" font-size="19.5" fill="#262626">-2</text>
<text x="408.40" y="77.77" text-anchor="end" font-size="19.5" fill="#262626">0</text>
<text x="408.40" y="13.30" text-anchor="end" font-size="19.5" fill="#262626">2</text>
<text x="546.35" y="257.30" text-anchor="middle" font-size="22.3" fill="#262626">time (s)</text>
<line x1="76.70" y1="478.6" x2="76.70" y2="475.8" stroke="#262626" stroke-width="1.1"/>
<line x1="76.70" y1="280.5" x2="76.70" y2="283.3" stroke="#262626" stroke-width="1.1"/>
<line x1="205.85" y1="478.6" x2="205.85" y2="475.8" stroke="#262626" stroke-width="1.1"/>
<line x1="205.85" y1="280.5" x2="205.85" y2="283.3" stroke="#262626" stroke-width="1.1"/>
<line x1="335.00" y1="478.6" x2="335.00" y2="475.8" stroke="#262626" stroke-width="1.1"/>
<line x1="335.00" y1="280.5" x2="335.00" y2="283.3" stroke="#262626" stroke-width="1.1"/>
<line x1="76.7" y1="478.60" x2="79.5" y2="478.60" stroke="#262626" stroke-width="1.1"/>
<line x1="335.0" y1="478.60" x2="332.2" y2="478.60" stroke="#262626" stroke-width="1.1"/>
<line x1="76.7" y1="429.08" x2="79.5" y2="429.08" stroke="#262626" stroke-width="1.1"/>
<line x1="335.0" y1="429.08" x2="332.2" y2="429.08" stroke="#262626" stroke-width="1.1"/>
<line x1="76.7" y1="379.55" x2="79.5" y2="379.55" stroke="#262626" stroke-width="1.1"/>
<line x1="335.0" y1="379.55" x2="332.2" y2="379.55" stroke="#262626" stroke-width="1.1"/>
<line x1="76.7" y1="330.02" x2="79.5" y2="330.02" stroke="#262626" stroke-width="1.1"/>
<line x1="335.0" y1="330.02" x2="332.2" y2="330.02" stroke="#262626" stroke-width="1.1"/>
<line x1="76.7" y1="280.50" x2="79.5" y2="280.50" stroke="#262626" stroke-width="1.1"/>
<line x1="335.0" y1="280.50" x2="332.2" y2="280.50" stroke="#262626" stroke-width="1.1"/>
<rect x="76.7" y="280.5" width="258.30" height="198.10" fill="none" stroke="#262626" stroke-width="1.25"/>
<text x="76.70" y="505.40" text-anchor="middle" font-size="19.5" fill="#262626">0</text>
<text x="205.85" y="505.40" text-anchor="middle" font-size="19.5" fill="#262626">5</text>
<text x="335.00" y="505.40" text-anchor="middle" font-size="19.5" fill="#262626">10</text>
<text x="68.40" y="485.50" text-anchor="end" font-size="19.5" fill="#262626">-1</text>
<text x="68.40" y="435.98" text-anchor="end" font-size="19.5" fill="#262626">-0.5</text>
<text x="68.40" y="386.45" text-anchor="end" font-size="19.5" fill="#262626">0</text>
<text x="68.40" y="336.92" text-anchor="end" font-size="19.5" fill="#262626">0.5</text>
<text x="68.40" y="287.40" text-anchor="end" font-size="19.5" fill="#262626">1</text>
<text x="205.85" y="532.70" text-anchor="middle" font-size="22.3" fill="#262626">time (s)</text>
<line x1="416.70" y1="478.6" x2="416.70" y2="475.8" stroke="#262626" stroke-width="1.1"/>
<line x1="416.70" y1="280.5" x2="416.70" y2="283.3" stroke="#262626" stroke-width="1.1"/>
<line x1="546.35" y1="478.6" x2="546.35" y2="475.8" stroke="#262626" stroke-width="1.1"/>
<line x1="546.35" y1="280.5" x2="546.35" y2="283.3" stroke="#262626" stroke-width="1.1"/>
<line x1="676.00" y1="478.6" x2="676.00" y2="475.8" stroke="#262626" stroke-width="1.1"/>
<line x1="676.00" y1="280.5" x2="676.00" y2="283.3" stroke="#262626" stroke-width="1.1"/>
<line x1="416.7" y1="478.60" x2="419.5" y2="478.60" stroke="#262626" stroke-width="1.1"/>
<line x1="676.0" y1="478.60" x2="673.2" y2="478.60" stroke="#262626" stroke-width="1.1"/>
<line x1="416.7" y1="429.08" x2="419.5" y2="429.08" stroke="#262626" stroke-width="1.1"/>
<line x1="676.0" y1="429.08" x2="673.2" y2="429.08" stroke="#262626" stroke-width="1.1"/>
<line x1="416.7" y1="379.55" x2="419.5" y2="379.55" stroke="#262626" stroke-width="1.1"/>
<line x1="676.0" y1="379.55" x2="673.2" y2="379.55" stroke="#262626" stroke-width="1.1"/>
<line x1="416.7" y1="330.02" x2="419.5" y2="330.02" stroke="#262626" stroke-width="1.1"/>
<line x1="676.0" y1="330.02" x2="673.2" y2="330.02" stroke="#262626" stroke-width="1.1"/>
<line x1="416.7" y1="280.50" x2="419.5" y2="280.50" stroke="#262626" stroke-width="1.1"/>
<line x1="676.0" y1="280.50" x2="673.2" y2="280.50" stroke="#262626" stroke-width="1.1"/>
<rect x="416.7" y="280.5" width="259.30" height="198.10" fill="none" stroke="#262626" stroke-width="1.25"/>
<text x="416.70" y="505.40" text-anchor="middle" font-size="19.5" fill="#262626">0</text>
<text x="546.35" y="505.40" text-anchor="middle" font-size="19.5" fill="#262626">5</text>
<text x="676.00" y="505.40" text-anchor="middle" font-size="19.5" fill="#262626">10</text>
<text x="408.40" y="485.50" text-anchor="end" font-size="19.5" fill="#262626">-2</text>
<text x="408.40" y="435.98" text-anchor="end" font-size="19.5" fill="#262626">-1</text>
<text x="408.40" y="386.45" text-anchor="end" font-size="19.5" fill="#262626">0</text>
<text x="408.40" y="336.92" text-anchor="end" font-size="19.5" fill="#262626">1</text>
<text x="408.40" y="287.40" text-anchor="end" font-size="19.5" fill="#262626">2</text>
<text x="546.35" y="532.70" text-anchor="middle" font-size="22.3" fill="#262626">time (s)</text>
<g transform="translate(26.80,105.20) rotate(-90)"><text x="0" y="0" font-size="22" fill="#262626" text-anchor="middle">x<tspan font-size="17" dy="11">1</tspan></text></g>
<g transform="translate(371.20,105.20) rotate(-90)"><text x="0" y="0" font-size="22" fill="#262626" text-anchor="middle">x<tspan font-size="17" dy="11">2</tspan></text></g>
<g transform="translate(15.50,382.00) rotate(-90)"><text x="0" y="0" font-size="22" fill="#262626" text-anchor="middle">δx<tspan font-size="17" dy="11">1</tspan></text></g>
<g transform="translate(370.50,382.00) rotate(-90)"><text x="0" y="0" font-size="22" fill="#262626" text-anchor="middle">δx<tspan font-size="17" dy="11">2</tspan></text></g>
<text x="81.6" y="188.6" font-size="29.5" fill="#000">(a)</text>
<text x="633.5" y="190.3" font-size="29.5" fill="#000">(b)</text>
<text x="81.8" y="465.4" font-size="29.5" fill="#000">(c)</text>
<text x="633.1" y="465.7" font-size="29.5" fill="#000">(d)</text>
<rect x="125.5" y="17.3" width="198.5" height="73" fill="#fff" stroke="#262626" stroke-width="1.1"/>
<line x1="130.9" y1="31.2" x2="186.3" y2="31.2" stroke="#0000ff" stroke-width="3.1"/>
<text x="191" y="37.5" font-size="18" fill="#000">LQG</text>
<line x1="130.9" y1="54.2" x2="186.3" y2="54.2" stroke="#ff0000" stroke-width="3.1" stroke-dasharray="9.2 2.1 3.9 2.4"/>
<text x="191" y="60.5" font-size="18" fill="#000">LQR-MSIF</text>
<line x1="130.9" y1="77.2" x2="186.3" y2="77.2" stroke="#000000" stroke-width="3.1" stroke-dasharray="2.8 1.6"/>
<text x="191" y="83.5" font-size="18" fill="#000">SNN-LQR-MSIF</text>
<rect x="177.2" y="274.3" width="155.6" height="72.6" fill="#fff" stroke="#262626" stroke-width="1.1"/>
<line x1="182.6" y1="288.1" x2="238.0" y2="288.1" stroke="#0000ff" stroke-width="3.8"/>
<text x="242.5" y="294.40000000000003" font-size="18" fill="#000">KF</text>
<line x1="182.6" y1="311.1" x2="238.0" y2="311.1" stroke="#ff0000" stroke-width="3.8" stroke-dasharray="13.2 13"/>
<text x="242.5" y="317.40000000000003" font-size="18" fill="#000">MSIF</text>
<line x1="182.6" y1="334.1" x2="238.0" y2="334.1" stroke="#000000" stroke-width="3.8" stroke-dasharray="3.4 3.3"/>
<text x="242.5" y="340.40000000000003" font-size="18" fill="#000">SNN-MSIF</text>
<line x1="218.40" y1="450.80" x2="156.83" y2="355.76" stroke="#000" stroke-width="1.3"/><path d="M149.60,344.60 L166.23,356.47 L156.83,355.76 L153.64,364.62 Z" fill="#000"/>
<line x1="218.40" y1="450.80" x2="165.84" y2="426.15" stroke="#000" stroke-width="1.3"/><path d="M153.80,420.50 L174.19,421.78 L165.84,426.15 L167.82,435.36 Z" fill="#000"/>
<line x1="519.50" y1="444.50" x2="465.88" y2="370.19" stroke="#000" stroke-width="1.3"/><path d="M458.10,359.40 L475.30,370.42 L465.88,370.19 L463.13,379.20 Z" fill="#000"/>
<line x1="519.50" y1="444.50" x2="467.01" y2="419.52" stroke="#000" stroke-width="1.3"/><path d="M455.00,413.80 L475.38,415.19 L467.01,419.52 L468.93,428.74 Z" fill="#000"/>
<g transform="translate(224.5,462.3)"><text x="0" y="0" font-size="30" fill="#000">3</text><path d="M26.06,-12.02 A7.1,5.3 -58 1 1 18.54,0.02 A7.1,5.3 -58 1 1 26.06,-12.02 Z M24.99,-10.09 A5.0,3.0 -64 1 1 20.61,-1.11 A5.0,3.0 -64 1 1 24.99,-10.09 Z" fill="#000" fill-rule="evenodd"/><path d="M21.5,-11.899999999999999 Q23.5,-12.2 25.5,-12.2 L31.599999999999998,-12.2 A0.7999999999999998,0.7999999999999998 0 0 1 31.599999999999998,-10.6 L24.5,-10.4 Z" fill="#000"/></g>
<g transform="translate(526.0,456.6)"><text x="0" y="0" font-size="30" fill="#000">3</text><path d="M26.06,-12.02 A7.1,5.3 -58 1 1 18.54,0.02 A7.1,5.3 -58 1 1 26.06,-12.02 Z M24.99,-10.09 A5.0,3.0 -64 1 1 20.61,-1.11 A5.0,3.0 -64 1 1 24.99,-10.09 Z" fill="#000" fill-rule="evenodd"/><path d="M21.5,-11.899999999999999 Q23.5,-12.2 25.5,-12.2 L31.599999999999998,-12.2 A0.7999999999999998,0.7999999999999998 0 0 1 31.599999999999998,-10.6 L24.5,-10.4 Z" fill="#000"/></g>
</g></svg></body></html>
